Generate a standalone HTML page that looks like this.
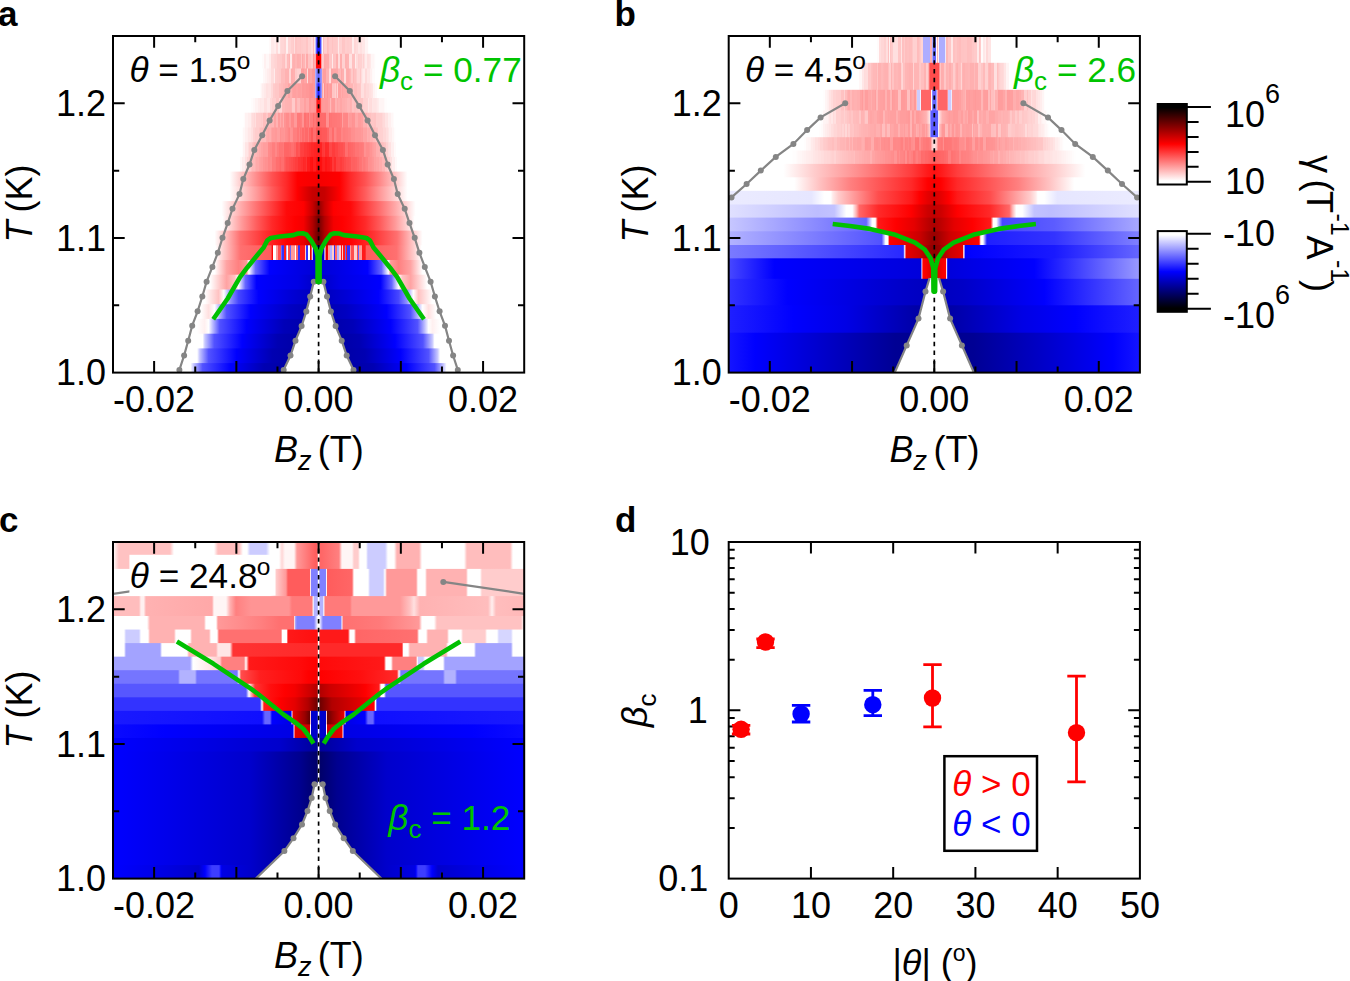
<!DOCTYPE html>
<html><head><meta charset="utf-8"><style>html,body{margin:0;padding:0;background:#fff}svg{display:block}</style></head>
<body><svg width="1350" height="981" viewBox="0 0 1350 981">
<defs><clipPath id="clipa"><rect x="113.0" y="36.0" width="411.2" height="336.6"/></clipPath><clipPath id="clipb"><rect x="728.7" y="36.0" width="411.2" height="336.6"/></clipPath><clipPath id="clipc"><rect x="113.0" y="542.0" width="411.2" height="336.6"/></clipPath><linearGradient id="ga0" gradientUnits="userSpaceOnUse" x1="113.0" y1="0" x2="524.2" y2="0"><stop offset="0.0000" stop-color="#ffffff"/><stop offset="0.3784" stop-color="#ffffff"/><stop offset="0.3784" stop-color="#fffafa"/><stop offset="0.3843" stop-color="#fffafa"/><stop offset="0.3843" stop-color="#ffe9e9"/><stop offset="0.3908" stop-color="#ffe9e9"/><stop offset="0.3908" stop-color="#ffeded"/><stop offset="0.3975" stop-color="#ffeded"/><stop offset="0.3975" stop-color="#ffdddd"/><stop offset="0.4020" stop-color="#ffdddd"/><stop offset="0.4021" stop-color="#fff1f1"/><stop offset="0.4058" stop-color="#fff1f1"/><stop offset="0.4059" stop-color="#ffdada"/><stop offset="0.4093" stop-color="#ffdada"/><stop offset="0.4093" stop-color="#ffd6d6"/><stop offset="0.4151" stop-color="#ffd6d6"/><stop offset="0.4151" stop-color="#ffd2d2"/><stop offset="0.4200" stop-color="#ffd2d2"/><stop offset="0.4200" stop-color="#fff0f0"/><stop offset="0.4253" stop-color="#fff0f0"/><stop offset="0.4254" stop-color="#ffd4d4"/><stop offset="0.4322" stop-color="#ffd4d4"/><stop offset="0.4322" stop-color="#ffcdcd"/><stop offset="0.4372" stop-color="#ffcdcd"/><stop offset="0.4372" stop-color="#ffcaca"/><stop offset="0.4391" stop-color="#ffcaca"/><stop offset="0.4392" stop-color="#ffdddd"/><stop offset="0.4419" stop-color="#ffdddd"/><stop offset="0.4420" stop-color="#ffc4c4"/><stop offset="0.4469" stop-color="#ffc4c4"/><stop offset="0.4469" stop-color="#ffc8c8"/><stop offset="0.4540" stop-color="#ffc8c8"/><stop offset="0.4540" stop-color="#ffc6c6"/><stop offset="0.4569" stop-color="#ffc6c6"/><stop offset="0.4570" stop-color="#ffcaca"/><stop offset="0.4630" stop-color="#ffcaca"/><stop offset="0.4630" stop-color="#ffcccc"/><stop offset="0.4700" stop-color="#ffcccc"/><stop offset="0.4700" stop-color="#ffc5c5"/><stop offset="0.4744" stop-color="#ffc5c5"/><stop offset="0.4744" stop-color="#ffd2d2"/><stop offset="0.4806" stop-color="#ffd2d2"/><stop offset="0.4806" stop-color="#ffdddd"/><stop offset="0.4863" stop-color="#ffdddd"/><stop offset="0.4864" stop-color="#ffbebe"/><stop offset="0.4890" stop-color="#ffbebe"/><stop offset="0.4891" stop-color="#ffc2c2"/><stop offset="0.4907" stop-color="#ffffff"/><stop offset="0.4927" stop-color="#b2b2ff"/><stop offset="0.4964" stop-color="#1919ff"/><stop offset="0.5000" stop-color="#1919ff"/><stop offset="0.5036" stop-color="#1919ff"/><stop offset="0.5073" stop-color="#b2b2ff"/><stop offset="0.5093" stop-color="#ffffff"/><stop offset="0.5109" stop-color="#ffc2c2"/><stop offset="0.5110" stop-color="#ffbdbd"/><stop offset="0.5142" stop-color="#ffbdbd"/><stop offset="0.5142" stop-color="#ffcece"/><stop offset="0.5196" stop-color="#ffcece"/><stop offset="0.5197" stop-color="#ffbbbb"/><stop offset="0.5223" stop-color="#ffbbbb"/><stop offset="0.5224" stop-color="#ffbfbf"/><stop offset="0.5256" stop-color="#ffbfbf"/><stop offset="0.5257" stop-color="#ffc9c9"/><stop offset="0.5324" stop-color="#ffc9c9"/><stop offset="0.5325" stop-color="#ffc2c2"/><stop offset="0.5354" stop-color="#ffc2c2"/><stop offset="0.5354" stop-color="#ffc8c8"/><stop offset="0.5412" stop-color="#ffc8c8"/><stop offset="0.5413" stop-color="#ffc9c9"/><stop offset="0.5436" stop-color="#ffc9c9"/><stop offset="0.5436" stop-color="#ffcccc"/><stop offset="0.5464" stop-color="#ffcccc"/><stop offset="0.5464" stop-color="#ffe9e9"/><stop offset="0.5506" stop-color="#ffe9e9"/><stop offset="0.5506" stop-color="#ffd1d1"/><stop offset="0.5558" stop-color="#ffd1d1"/><stop offset="0.5558" stop-color="#ffc5c5"/><stop offset="0.5593" stop-color="#ffc5c5"/><stop offset="0.5594" stop-color="#ffc6c6"/><stop offset="0.5652" stop-color="#ffc6c6"/><stop offset="0.5652" stop-color="#ffcece"/><stop offset="0.5687" stop-color="#ffcece"/><stop offset="0.5688" stop-color="#ffcccc"/><stop offset="0.5739" stop-color="#ffcccc"/><stop offset="0.5740" stop-color="#ffcece"/><stop offset="0.5802" stop-color="#ffcece"/><stop offset="0.5802" stop-color="#ffecec"/><stop offset="0.5858" stop-color="#ffecec"/><stop offset="0.5858" stop-color="#ffd6d6"/><stop offset="0.5920" stop-color="#ffd6d6"/><stop offset="0.5920" stop-color="#ffdbdb"/><stop offset="0.5957" stop-color="#ffdbdb"/><stop offset="0.5958" stop-color="#ffe6e6"/><stop offset="0.6007" stop-color="#ffe6e6"/><stop offset="0.6008" stop-color="#ffe0e0"/><stop offset="0.6066" stop-color="#ffe0e0"/><stop offset="0.6067" stop-color="#ffe7e7"/><stop offset="0.6137" stop-color="#ffe7e7"/><stop offset="0.6138" stop-color="#fff4f4"/><stop offset="0.6196" stop-color="#fff4f4"/><stop offset="0.6197" stop-color="#fffdfd"/><stop offset="0.6216" stop-color="#fffdfd"/><stop offset="0.6216" stop-color="#ffffff"/><stop offset="1.0000" stop-color="#ffffff"/></linearGradient><linearGradient id="ga1" gradientUnits="userSpaceOnUse" x1="113.0" y1="0" x2="524.2" y2="0"><stop offset="0.0000" stop-color="#ffffff"/><stop offset="0.3614" stop-color="#ffffff"/><stop offset="0.3614" stop-color="#fffbfb"/><stop offset="0.3664" stop-color="#fffbfb"/><stop offset="0.3665" stop-color="#fff0f0"/><stop offset="0.3728" stop-color="#fff0f0"/><stop offset="0.3728" stop-color="#fff7f7"/><stop offset="0.3797" stop-color="#fff7f7"/><stop offset="0.3798" stop-color="#ffeded"/><stop offset="0.3836" stop-color="#ffeded"/><stop offset="0.3836" stop-color="#ffd9d9"/><stop offset="0.3882" stop-color="#ffd9d9"/><stop offset="0.3882" stop-color="#ffd8d8"/><stop offset="0.3927" stop-color="#ffd8d8"/><stop offset="0.3928" stop-color="#ffd3d3"/><stop offset="0.3998" stop-color="#ffd3d3"/><stop offset="0.3998" stop-color="#ffcbcb"/><stop offset="0.4064" stop-color="#ffcbcb"/><stop offset="0.4065" stop-color="#ffcaca"/><stop offset="0.4112" stop-color="#ffcaca"/><stop offset="0.4112" stop-color="#ffc2c2"/><stop offset="0.4157" stop-color="#ffc2c2"/><stop offset="0.4158" stop-color="#ffbfbf"/><stop offset="0.4187" stop-color="#ffbfbf"/><stop offset="0.4187" stop-color="#ffd7d7"/><stop offset="0.4224" stop-color="#ffd7d7"/><stop offset="0.4224" stop-color="#ffbcbc"/><stop offset="0.4270" stop-color="#ffbcbc"/><stop offset="0.4271" stop-color="#ffb4b4"/><stop offset="0.4312" stop-color="#ffb4b4"/><stop offset="0.4312" stop-color="#ffe9e9"/><stop offset="0.4353" stop-color="#ffe9e9"/><stop offset="0.4354" stop-color="#ffb6b6"/><stop offset="0.4383" stop-color="#ffb6b6"/><stop offset="0.4383" stop-color="#ffb0b0"/><stop offset="0.4431" stop-color="#ffb0b0"/><stop offset="0.4432" stop-color="#ffb6b6"/><stop offset="0.4466" stop-color="#ffb6b6"/><stop offset="0.4467" stop-color="#ffaeae"/><stop offset="0.4526" stop-color="#ffaeae"/><stop offset="0.4527" stop-color="#ffb0b0"/><stop offset="0.4580" stop-color="#ffb0b0"/><stop offset="0.4581" stop-color="#ffc5c5"/><stop offset="0.4601" stop-color="#ffc5c5"/><stop offset="0.4602" stop-color="#ffaaaa"/><stop offset="0.4630" stop-color="#ffaaaa"/><stop offset="0.4631" stop-color="#ffb4b4"/><stop offset="0.4666" stop-color="#ffb4b4"/><stop offset="0.4666" stop-color="#ffcbcb"/><stop offset="0.4697" stop-color="#ffcbcb"/><stop offset="0.4697" stop-color="#ffa9a9"/><stop offset="0.4747" stop-color="#ffa9a9"/><stop offset="0.4747" stop-color="#ffc3c3"/><stop offset="0.4812" stop-color="#ffc3c3"/><stop offset="0.4813" stop-color="#ffcdcd"/><stop offset="0.4857" stop-color="#ffcdcd"/><stop offset="0.4857" stop-color="#ffa1a1"/><stop offset="0.4892" stop-color="#ffa1a1"/><stop offset="0.4892" stop-color="#ffb0b0"/><stop offset="0.4915" stop-color="#ffb0b0"/><stop offset="0.4915" stop-color="#ffa9a9"/><stop offset="0.4927" stop-color="#ffa8a8"/><stop offset="0.4951" stop-color="#ff0000"/><stop offset="0.5000" stop-color="#ff0000"/><stop offset="0.5049" stop-color="#ff0000"/><stop offset="0.5073" stop-color="#ffa8a8"/><stop offset="0.5085" stop-color="#ffa9a9"/><stop offset="0.5085" stop-color="#ffcfcf"/><stop offset="0.5119" stop-color="#ffcfcf"/><stop offset="0.5120" stop-color="#ffa8a8"/><stop offset="0.5181" stop-color="#ffa8a8"/><stop offset="0.5182" stop-color="#ffaaaa"/><stop offset="0.5245" stop-color="#ffaaaa"/><stop offset="0.5246" stop-color="#ffc6c6"/><stop offset="0.5316" stop-color="#ffc6c6"/><stop offset="0.5317" stop-color="#ffe9e9"/><stop offset="0.5345" stop-color="#ffe9e9"/><stop offset="0.5346" stop-color="#ffc3c3"/><stop offset="0.5411" stop-color="#ffc3c3"/><stop offset="0.5411" stop-color="#ffb0b0"/><stop offset="0.5451" stop-color="#ffb0b0"/><stop offset="0.5452" stop-color="#ffafaf"/><stop offset="0.5483" stop-color="#ffafaf"/><stop offset="0.5483" stop-color="#ffdbdb"/><stop offset="0.5516" stop-color="#ffdbdb"/><stop offset="0.5516" stop-color="#ffaeae"/><stop offset="0.5579" stop-color="#ffaeae"/><stop offset="0.5580" stop-color="#ffd1d1"/><stop offset="0.5634" stop-color="#ffd1d1"/><stop offset="0.5634" stop-color="#ffb2b2"/><stop offset="0.5692" stop-color="#ffb2b2"/><stop offset="0.5692" stop-color="#ffb5b5"/><stop offset="0.5747" stop-color="#ffb5b5"/><stop offset="0.5747" stop-color="#ffe2e2"/><stop offset="0.5817" stop-color="#ffe2e2"/><stop offset="0.5818" stop-color="#ffc1c1"/><stop offset="0.5877" stop-color="#ffc1c1"/><stop offset="0.5877" stop-color="#ffebeb"/><stop offset="0.5915" stop-color="#ffebeb"/><stop offset="0.5916" stop-color="#ffdbdb"/><stop offset="0.5964" stop-color="#ffdbdb"/><stop offset="0.5964" stop-color="#ffcece"/><stop offset="0.5985" stop-color="#ffcece"/><stop offset="0.5985" stop-color="#ffd1d1"/><stop offset="0.6046" stop-color="#ffd1d1"/><stop offset="0.6046" stop-color="#ffdddd"/><stop offset="0.6073" stop-color="#ffdddd"/><stop offset="0.6073" stop-color="#ffd2d2"/><stop offset="0.6102" stop-color="#ffd2d2"/><stop offset="0.6102" stop-color="#ffdfdf"/><stop offset="0.6123" stop-color="#ffdfdf"/><stop offset="0.6124" stop-color="#ffecec"/><stop offset="0.6181" stop-color="#ffecec"/><stop offset="0.6182" stop-color="#ffdfdf"/><stop offset="0.6220" stop-color="#ffdfdf"/><stop offset="0.6221" stop-color="#ffe2e2"/><stop offset="0.6252" stop-color="#ffe2e2"/><stop offset="0.6253" stop-color="#ffe8e8"/><stop offset="0.6279" stop-color="#ffe8e8"/><stop offset="0.6280" stop-color="#fff6f6"/><stop offset="0.6340" stop-color="#fff6f6"/><stop offset="0.6341" stop-color="#fffafa"/><stop offset="0.6377" stop-color="#fffafa"/><stop offset="0.6378" stop-color="#fffefe"/><stop offset="0.6386" stop-color="#fffefe"/><stop offset="0.6386" stop-color="#ffffff"/><stop offset="1.0000" stop-color="#ffffff"/></linearGradient><linearGradient id="ga2" gradientUnits="userSpaceOnUse" x1="113.0" y1="0" x2="524.2" y2="0"><stop offset="0.0000" stop-color="#ffffff"/><stop offset="0.3638" stop-color="#ffffff"/><stop offset="0.3638" stop-color="#fff8f8"/><stop offset="0.3701" stop-color="#fff8f8"/><stop offset="0.3701" stop-color="#fff3f3"/><stop offset="0.3737" stop-color="#fff3f3"/><stop offset="0.3737" stop-color="#ffeded"/><stop offset="0.3782" stop-color="#ffeded"/><stop offset="0.3782" stop-color="#ffe9e9"/><stop offset="0.3835" stop-color="#ffe9e9"/><stop offset="0.3835" stop-color="#ffdcdc"/><stop offset="0.3906" stop-color="#ffdcdc"/><stop offset="0.3907" stop-color="#ffebeb"/><stop offset="0.3929" stop-color="#ffebeb"/><stop offset="0.3929" stop-color="#ffcfcf"/><stop offset="0.3977" stop-color="#ffcfcf"/><stop offset="0.3977" stop-color="#ffcccc"/><stop offset="0.4029" stop-color="#ffcccc"/><stop offset="0.4030" stop-color="#ffc9c9"/><stop offset="0.4090" stop-color="#ffc9c9"/><stop offset="0.4090" stop-color="#ffbbbb"/><stop offset="0.4160" stop-color="#ffbbbb"/><stop offset="0.4161" stop-color="#ffbcbc"/><stop offset="0.4189" stop-color="#ffbcbc"/><stop offset="0.4189" stop-color="#ffb2b2"/><stop offset="0.4259" stop-color="#ffb2b2"/><stop offset="0.4259" stop-color="#ffb2b2"/><stop offset="0.4292" stop-color="#ffb2b2"/><stop offset="0.4292" stop-color="#ffd6d6"/><stop offset="0.4334" stop-color="#ffd6d6"/><stop offset="0.4335" stop-color="#ffadad"/><stop offset="0.4367" stop-color="#ffadad"/><stop offset="0.4367" stop-color="#ffb0b0"/><stop offset="0.4427" stop-color="#ffb0b0"/><stop offset="0.4427" stop-color="#ffc9c9"/><stop offset="0.4481" stop-color="#ffc9c9"/><stop offset="0.4482" stop-color="#ffd0d0"/><stop offset="0.4539" stop-color="#ffd0d0"/><stop offset="0.4539" stop-color="#ffd2d2"/><stop offset="0.4578" stop-color="#ffd2d2"/><stop offset="0.4579" stop-color="#ff9f9f"/><stop offset="0.4627" stop-color="#ff9f9f"/><stop offset="0.4628" stop-color="#ff9c9c"/><stop offset="0.4654" stop-color="#ff9c9c"/><stop offset="0.4654" stop-color="#ffa5a5"/><stop offset="0.4708" stop-color="#ffa5a5"/><stop offset="0.4709" stop-color="#ffdbdb"/><stop offset="0.4746" stop-color="#ffdbdb"/><stop offset="0.4746" stop-color="#ff9d9d"/><stop offset="0.4787" stop-color="#ff9d9d"/><stop offset="0.4787" stop-color="#ffa3a3"/><stop offset="0.4831" stop-color="#ffa3a3"/><stop offset="0.4832" stop-color="#ff9999"/><stop offset="0.4902" stop-color="#ff9999"/><stop offset="0.4903" stop-color="#ff9e9e"/><stop offset="0.4915" stop-color="#ffffff"/><stop offset="0.4927" stop-color="#9999ff"/><stop offset="0.5000" stop-color="#6666ff"/><stop offset="0.5073" stop-color="#9999ff"/><stop offset="0.5085" stop-color="#ffffff"/><stop offset="0.5097" stop-color="#ff9e9e"/><stop offset="0.5098" stop-color="#ff9e9e"/><stop offset="0.5120" stop-color="#ff9e9e"/><stop offset="0.5120" stop-color="#ff9e9e"/><stop offset="0.5187" stop-color="#ff9e9e"/><stop offset="0.5188" stop-color="#ffb1b1"/><stop offset="0.5248" stop-color="#ffb1b1"/><stop offset="0.5248" stop-color="#ffdcdc"/><stop offset="0.5310" stop-color="#ffdcdc"/><stop offset="0.5311" stop-color="#ffa4a4"/><stop offset="0.5359" stop-color="#ffa4a4"/><stop offset="0.5359" stop-color="#ffa7a7"/><stop offset="0.5411" stop-color="#ffa7a7"/><stop offset="0.5412" stop-color="#ffa9a9"/><stop offset="0.5462" stop-color="#ffa9a9"/><stop offset="0.5463" stop-color="#ffa1a1"/><stop offset="0.5482" stop-color="#ffa1a1"/><stop offset="0.5483" stop-color="#ffb9b9"/><stop offset="0.5546" stop-color="#ffb9b9"/><stop offset="0.5546" stop-color="#ffa8a8"/><stop offset="0.5569" stop-color="#ffa8a8"/><stop offset="0.5569" stop-color="#ffafaf"/><stop offset="0.5609" stop-color="#ffafaf"/><stop offset="0.5609" stop-color="#ffdbdb"/><stop offset="0.5656" stop-color="#ffdbdb"/><stop offset="0.5657" stop-color="#ffaeae"/><stop offset="0.5699" stop-color="#ffaeae"/><stop offset="0.5699" stop-color="#ffabab"/><stop offset="0.5728" stop-color="#ffabab"/><stop offset="0.5729" stop-color="#ffb0b0"/><stop offset="0.5774" stop-color="#ffb0b0"/><stop offset="0.5775" stop-color="#ffb8b8"/><stop offset="0.5798" stop-color="#ffb8b8"/><stop offset="0.5798" stop-color="#ffc9c9"/><stop offset="0.5848" stop-color="#ffc9c9"/><stop offset="0.5848" stop-color="#ffb8b8"/><stop offset="0.5870" stop-color="#ffb8b8"/><stop offset="0.5870" stop-color="#ffc0c0"/><stop offset="0.5902" stop-color="#ffc0c0"/><stop offset="0.5902" stop-color="#ffc9c9"/><stop offset="0.5938" stop-color="#ffc9c9"/><stop offset="0.5938" stop-color="#ffd6d6"/><stop offset="0.6009" stop-color="#ffd6d6"/><stop offset="0.6009" stop-color="#ffc9c9"/><stop offset="0.6032" stop-color="#ffc9c9"/><stop offset="0.6033" stop-color="#ffdbdb"/><stop offset="0.6066" stop-color="#ffdbdb"/><stop offset="0.6066" stop-color="#ffe6e6"/><stop offset="0.6087" stop-color="#ffe6e6"/><stop offset="0.6087" stop-color="#ffebeb"/><stop offset="0.6126" stop-color="#ffebeb"/><stop offset="0.6126" stop-color="#ffdada"/><stop offset="0.6166" stop-color="#ffdada"/><stop offset="0.6166" stop-color="#ffe6e6"/><stop offset="0.6233" stop-color="#ffe6e6"/><stop offset="0.6233" stop-color="#ffe5e5"/><stop offset="0.6252" stop-color="#ffe5e5"/><stop offset="0.6253" stop-color="#fff0f0"/><stop offset="0.6303" stop-color="#fff0f0"/><stop offset="0.6304" stop-color="#fff9f9"/><stop offset="0.6327" stop-color="#fff9f9"/><stop offset="0.6327" stop-color="#fffbfb"/><stop offset="0.6362" stop-color="#fffbfb"/><stop offset="0.6362" stop-color="#ffffff"/><stop offset="1.0000" stop-color="#ffffff"/></linearGradient><linearGradient id="ga3" gradientUnits="userSpaceOnUse" x1="113.0" y1="0" x2="524.2" y2="0"><stop offset="0.0000" stop-color="#ffffff"/><stop offset="0.3565" stop-color="#ffffff"/><stop offset="0.3565" stop-color="#fffbfb"/><stop offset="0.3607" stop-color="#fffbfb"/><stop offset="0.3607" stop-color="#fff5f5"/><stop offset="0.3632" stop-color="#fff5f5"/><stop offset="0.3632" stop-color="#ffeeee"/><stop offset="0.3671" stop-color="#ffeeee"/><stop offset="0.3672" stop-color="#ffe9e9"/><stop offset="0.3699" stop-color="#ffe9e9"/><stop offset="0.3699" stop-color="#ffe8e8"/><stop offset="0.3726" stop-color="#ffe8e8"/><stop offset="0.3726" stop-color="#ffe1e1"/><stop offset="0.3763" stop-color="#ffe1e1"/><stop offset="0.3763" stop-color="#ffe3e3"/><stop offset="0.3833" stop-color="#ffe3e3"/><stop offset="0.3833" stop-color="#ffd8d8"/><stop offset="0.3890" stop-color="#ffd8d8"/><stop offset="0.3890" stop-color="#ffcbcb"/><stop offset="0.3949" stop-color="#ffcbcb"/><stop offset="0.3949" stop-color="#ffc7c7"/><stop offset="0.3972" stop-color="#ffc7c7"/><stop offset="0.3973" stop-color="#ffc7c7"/><stop offset="0.4032" stop-color="#ffc7c7"/><stop offset="0.4032" stop-color="#ffbdbd"/><stop offset="0.4077" stop-color="#ffbdbd"/><stop offset="0.4077" stop-color="#ffbaba"/><stop offset="0.4126" stop-color="#ffbaba"/><stop offset="0.4127" stop-color="#ffb5b5"/><stop offset="0.4191" stop-color="#ffb5b5"/><stop offset="0.4192" stop-color="#ffb1b1"/><stop offset="0.4263" stop-color="#ffb1b1"/><stop offset="0.4263" stop-color="#ffa5a5"/><stop offset="0.4302" stop-color="#ffa5a5"/><stop offset="0.4302" stop-color="#ffafaf"/><stop offset="0.4360" stop-color="#ffafaf"/><stop offset="0.4361" stop-color="#ffa4a4"/><stop offset="0.4380" stop-color="#ffa4a4"/><stop offset="0.4380" stop-color="#ffa0a0"/><stop offset="0.4440" stop-color="#ffa0a0"/><stop offset="0.4440" stop-color="#ffa3a3"/><stop offset="0.4499" stop-color="#ffa3a3"/><stop offset="0.4499" stop-color="#ff9f9f"/><stop offset="0.4570" stop-color="#ff9f9f"/><stop offset="0.4571" stop-color="#ffa2a2"/><stop offset="0.4597" stop-color="#ffa2a2"/><stop offset="0.4598" stop-color="#ff9999"/><stop offset="0.4652" stop-color="#ff9999"/><stop offset="0.4652" stop-color="#ff9a9a"/><stop offset="0.4693" stop-color="#ff9a9a"/><stop offset="0.4693" stop-color="#ff9797"/><stop offset="0.4757" stop-color="#ff9797"/><stop offset="0.4758" stop-color="#ff9393"/><stop offset="0.4802" stop-color="#ff9393"/><stop offset="0.4803" stop-color="#ff9191"/><stop offset="0.4870" stop-color="#ff9191"/><stop offset="0.4870" stop-color="#ff9696"/><stop offset="0.4902" stop-color="#ff9696"/><stop offset="0.4903" stop-color="#ff9999"/><stop offset="0.4915" stop-color="#ffffff"/><stop offset="0.4927" stop-color="#9999ff"/><stop offset="0.5000" stop-color="#1919ff"/><stop offset="0.5073" stop-color="#9999ff"/><stop offset="0.5085" stop-color="#ffffff"/><stop offset="0.5097" stop-color="#ff9999"/><stop offset="0.5098" stop-color="#ffcdcd"/><stop offset="0.5124" stop-color="#ffcdcd"/><stop offset="0.5125" stop-color="#ff9090"/><stop offset="0.5161" stop-color="#ff9090"/><stop offset="0.5162" stop-color="#ff9e9e"/><stop offset="0.5206" stop-color="#ff9e9e"/><stop offset="0.5206" stop-color="#ff9494"/><stop offset="0.5228" stop-color="#ff9494"/><stop offset="0.5228" stop-color="#ff9f9f"/><stop offset="0.5284" stop-color="#ff9f9f"/><stop offset="0.5284" stop-color="#ff9b9b"/><stop offset="0.5333" stop-color="#ff9b9b"/><stop offset="0.5334" stop-color="#ffc5c5"/><stop offset="0.5403" stop-color="#ffc5c5"/><stop offset="0.5404" stop-color="#ffcfcf"/><stop offset="0.5423" stop-color="#ffcfcf"/><stop offset="0.5423" stop-color="#ffb8b8"/><stop offset="0.5458" stop-color="#ffb8b8"/><stop offset="0.5459" stop-color="#ffd3d3"/><stop offset="0.5483" stop-color="#ffd3d3"/><stop offset="0.5483" stop-color="#ffa2a2"/><stop offset="0.5548" stop-color="#ffa2a2"/><stop offset="0.5548" stop-color="#ffadad"/><stop offset="0.5581" stop-color="#ffadad"/><stop offset="0.5581" stop-color="#ffa4a4"/><stop offset="0.5605" stop-color="#ffa4a4"/><stop offset="0.5605" stop-color="#ffa9a9"/><stop offset="0.5645" stop-color="#ffa9a9"/><stop offset="0.5646" stop-color="#ffaaaa"/><stop offset="0.5710" stop-color="#ffaaaa"/><stop offset="0.5710" stop-color="#ffafaf"/><stop offset="0.5767" stop-color="#ffafaf"/><stop offset="0.5768" stop-color="#ffb4b4"/><stop offset="0.5834" stop-color="#ffb4b4"/><stop offset="0.5835" stop-color="#ffc4c4"/><stop offset="0.5857" stop-color="#ffc4c4"/><stop offset="0.5858" stop-color="#ffbdbd"/><stop offset="0.5928" stop-color="#ffbdbd"/><stop offset="0.5928" stop-color="#ffc5c5"/><stop offset="0.5995" stop-color="#ffc5c5"/><stop offset="0.5996" stop-color="#ffc8c8"/><stop offset="0.6042" stop-color="#ffc8c8"/><stop offset="0.6043" stop-color="#ffdfdf"/><stop offset="0.6111" stop-color="#ffdfdf"/><stop offset="0.6111" stop-color="#ffd3d3"/><stop offset="0.6156" stop-color="#ffd3d3"/><stop offset="0.6156" stop-color="#ffd9d9"/><stop offset="0.6175" stop-color="#ffd9d9"/><stop offset="0.6176" stop-color="#ffd9d9"/><stop offset="0.6236" stop-color="#ffd9d9"/><stop offset="0.6237" stop-color="#ffdfdf"/><stop offset="0.6269" stop-color="#ffdfdf"/><stop offset="0.6269" stop-color="#ffe3e3"/><stop offset="0.6292" stop-color="#ffe3e3"/><stop offset="0.6293" stop-color="#ffe5e5"/><stop offset="0.6314" stop-color="#ffe5e5"/><stop offset="0.6314" stop-color="#fff3f3"/><stop offset="0.6369" stop-color="#fff3f3"/><stop offset="0.6369" stop-color="#fff9f9"/><stop offset="0.6431" stop-color="#fff9f9"/><stop offset="0.6432" stop-color="#ffffff"/><stop offset="0.6435" stop-color="#ffffff"/><stop offset="0.6435" stop-color="#ffffff"/><stop offset="1.0000" stop-color="#ffffff"/></linearGradient><linearGradient id="ga4" gradientUnits="userSpaceOnUse" x1="113.0" y1="0" x2="524.2" y2="0"><stop offset="0.0000" stop-color="#ffffff"/><stop offset="0.3346" stop-color="#ffffff"/><stop offset="0.3347" stop-color="#fffefe"/><stop offset="0.3363" stop-color="#fffefe"/><stop offset="0.3363" stop-color="#fffcfc"/><stop offset="0.3395" stop-color="#fffcfc"/><stop offset="0.3396" stop-color="#fff8f8"/><stop offset="0.3460" stop-color="#fff8f8"/><stop offset="0.3461" stop-color="#fff2f2"/><stop offset="0.3516" stop-color="#fff2f2"/><stop offset="0.3516" stop-color="#ffecec"/><stop offset="0.3575" stop-color="#ffecec"/><stop offset="0.3575" stop-color="#ffe7e7"/><stop offset="0.3603" stop-color="#ffe7e7"/><stop offset="0.3603" stop-color="#ffe9e9"/><stop offset="0.3674" stop-color="#ffe9e9"/><stop offset="0.3674" stop-color="#ffdfdf"/><stop offset="0.3738" stop-color="#ffdfdf"/><stop offset="0.3739" stop-color="#ffe7e7"/><stop offset="0.3806" stop-color="#ffe7e7"/><stop offset="0.3807" stop-color="#ffd8d8"/><stop offset="0.3870" stop-color="#ffd8d8"/><stop offset="0.3870" stop-color="#ffcfcf"/><stop offset="0.3918" stop-color="#ffcfcf"/><stop offset="0.3918" stop-color="#ffcfcf"/><stop offset="0.3972" stop-color="#ffcfcf"/><stop offset="0.3972" stop-color="#ffc5c5"/><stop offset="0.4043" stop-color="#ffc5c5"/><stop offset="0.4044" stop-color="#ffd6d6"/><stop offset="0.4100" stop-color="#ffd6d6"/><stop offset="0.4100" stop-color="#ffb9b9"/><stop offset="0.4145" stop-color="#ffb9b9"/><stop offset="0.4145" stop-color="#ffb7b7"/><stop offset="0.4188" stop-color="#ffb7b7"/><stop offset="0.4189" stop-color="#ffb3b3"/><stop offset="0.4223" stop-color="#ffb3b3"/><stop offset="0.4223" stop-color="#ffb2b2"/><stop offset="0.4278" stop-color="#ffb2b2"/><stop offset="0.4279" stop-color="#ffb1b1"/><stop offset="0.4337" stop-color="#ffb1b1"/><stop offset="0.4338" stop-color="#ffb4b4"/><stop offset="0.4362" stop-color="#ffb4b4"/><stop offset="0.4362" stop-color="#ffcaca"/><stop offset="0.4431" stop-color="#ffcaca"/><stop offset="0.4431" stop-color="#ffabab"/><stop offset="0.4486" stop-color="#ffabab"/><stop offset="0.4487" stop-color="#ffbcbc"/><stop offset="0.4544" stop-color="#ffbcbc"/><stop offset="0.4545" stop-color="#ffabab"/><stop offset="0.4613" stop-color="#ffabab"/><stop offset="0.4614" stop-color="#ffacac"/><stop offset="0.4654" stop-color="#ffacac"/><stop offset="0.4655" stop-color="#ffa0a0"/><stop offset="0.4692" stop-color="#ffa0a0"/><stop offset="0.4692" stop-color="#ffa9a9"/><stop offset="0.4764" stop-color="#ffa9a9"/><stop offset="0.4764" stop-color="#ff9595"/><stop offset="0.4823" stop-color="#ff9595"/><stop offset="0.4823" stop-color="#ff9a9a"/><stop offset="0.4883" stop-color="#ff9a9a"/><stop offset="0.4883" stop-color="#ff9595"/><stop offset="0.4927" stop-color="#ff9595"/><stop offset="0.4927" stop-color="#ff9999"/><stop offset="0.4964" stop-color="#ff1919"/><stop offset="0.5000" stop-color="#ff1919"/><stop offset="0.5036" stop-color="#ff1919"/><stop offset="0.5073" stop-color="#ff9999"/><stop offset="0.5073" stop-color="#ff9a9a"/><stop offset="0.5098" stop-color="#ff9a9a"/><stop offset="0.5098" stop-color="#ff9b9b"/><stop offset="0.5157" stop-color="#ff9b9b"/><stop offset="0.5158" stop-color="#ff9999"/><stop offset="0.5222" stop-color="#ff9999"/><stop offset="0.5222" stop-color="#ffa0a0"/><stop offset="0.5285" stop-color="#ffa0a0"/><stop offset="0.5285" stop-color="#ffb8b8"/><stop offset="0.5308" stop-color="#ffb8b8"/><stop offset="0.5309" stop-color="#ffa0a0"/><stop offset="0.5333" stop-color="#ffa0a0"/><stop offset="0.5333" stop-color="#ff9b9b"/><stop offset="0.5394" stop-color="#ff9b9b"/><stop offset="0.5394" stop-color="#ffb2b2"/><stop offset="0.5455" stop-color="#ffb2b2"/><stop offset="0.5456" stop-color="#ffa7a7"/><stop offset="0.5479" stop-color="#ffa7a7"/><stop offset="0.5480" stop-color="#ffadad"/><stop offset="0.5514" stop-color="#ffadad"/><stop offset="0.5515" stop-color="#ffa6a6"/><stop offset="0.5563" stop-color="#ffa6a6"/><stop offset="0.5564" stop-color="#ffadad"/><stop offset="0.5635" stop-color="#ffadad"/><stop offset="0.5636" stop-color="#ffb0b0"/><stop offset="0.5701" stop-color="#ffb0b0"/><stop offset="0.5702" stop-color="#ffb7b7"/><stop offset="0.5762" stop-color="#ffb7b7"/><stop offset="0.5763" stop-color="#ffb1b1"/><stop offset="0.5785" stop-color="#ffb1b1"/><stop offset="0.5785" stop-color="#ffb3b3"/><stop offset="0.5813" stop-color="#ffb3b3"/><stop offset="0.5814" stop-color="#ffc3c3"/><stop offset="0.5873" stop-color="#ffc3c3"/><stop offset="0.5873" stop-color="#ffbebe"/><stop offset="0.5919" stop-color="#ffbebe"/><stop offset="0.5919" stop-color="#ffc2c2"/><stop offset="0.5960" stop-color="#ffc2c2"/><stop offset="0.5961" stop-color="#ffc4c4"/><stop offset="0.5982" stop-color="#ffc4c4"/><stop offset="0.5983" stop-color="#ffc7c7"/><stop offset="0.6005" stop-color="#ffc7c7"/><stop offset="0.6006" stop-color="#ffc6c6"/><stop offset="0.6076" stop-color="#ffc6c6"/><stop offset="0.6077" stop-color="#ffd2d2"/><stop offset="0.6131" stop-color="#ffd2d2"/><stop offset="0.6132" stop-color="#ffd3d3"/><stop offset="0.6176" stop-color="#ffd3d3"/><stop offset="0.6176" stop-color="#ffd4d4"/><stop offset="0.6197" stop-color="#ffd4d4"/><stop offset="0.6198" stop-color="#ffe4e4"/><stop offset="0.6236" stop-color="#ffe4e4"/><stop offset="0.6236" stop-color="#ffdcdc"/><stop offset="0.6279" stop-color="#ffdcdc"/><stop offset="0.6279" stop-color="#ffdbdb"/><stop offset="0.6298" stop-color="#ffdbdb"/><stop offset="0.6299" stop-color="#ffe5e5"/><stop offset="0.6330" stop-color="#ffe5e5"/><stop offset="0.6331" stop-color="#ffe4e4"/><stop offset="0.6385" stop-color="#ffe4e4"/><stop offset="0.6386" stop-color="#ffe6e6"/><stop offset="0.6410" stop-color="#ffe6e6"/><stop offset="0.6410" stop-color="#ffeaea"/><stop offset="0.6433" stop-color="#ffeaea"/><stop offset="0.6433" stop-color="#ffeded"/><stop offset="0.6481" stop-color="#ffeded"/><stop offset="0.6481" stop-color="#fff5f5"/><stop offset="0.6527" stop-color="#fff5f5"/><stop offset="0.6528" stop-color="#fff5f5"/><stop offset="0.6580" stop-color="#fff5f5"/><stop offset="0.6581" stop-color="#fffafa"/><stop offset="0.6610" stop-color="#fffafa"/><stop offset="0.6611" stop-color="#fffdfd"/><stop offset="0.6653" stop-color="#fffdfd"/><stop offset="0.6654" stop-color="#ffffff"/><stop offset="1.0000" stop-color="#ffffff"/></linearGradient><linearGradient id="ga5" gradientUnits="userSpaceOnUse" x1="113.0" y1="0" x2="524.2" y2="0"><stop offset="0.0000" stop-color="#ffffff"/><stop offset="0.3161" stop-color="#ffffff"/><stop offset="0.3162" stop-color="#fffefe"/><stop offset="0.3181" stop-color="#fffefe"/><stop offset="0.3182" stop-color="#fffbfb"/><stop offset="0.3220" stop-color="#fffbfb"/><stop offset="0.3221" stop-color="#fff2f2"/><stop offset="0.3276" stop-color="#fff2f2"/><stop offset="0.3277" stop-color="#ffeded"/><stop offset="0.3349" stop-color="#ffeded"/><stop offset="0.3349" stop-color="#ffe2e2"/><stop offset="0.3370" stop-color="#ffe2e2"/><stop offset="0.3371" stop-color="#ffdcdc"/><stop offset="0.3432" stop-color="#ffdcdc"/><stop offset="0.3432" stop-color="#ffd7d7"/><stop offset="0.3457" stop-color="#ffd7d7"/><stop offset="0.3458" stop-color="#ffdede"/><stop offset="0.3487" stop-color="#ffdede"/><stop offset="0.3487" stop-color="#ffcfcf"/><stop offset="0.3559" stop-color="#ffcfcf"/><stop offset="0.3560" stop-color="#ffcece"/><stop offset="0.3601" stop-color="#ffcece"/><stop offset="0.3601" stop-color="#ffcaca"/><stop offset="0.3627" stop-color="#ffcaca"/><stop offset="0.3628" stop-color="#ffcdcd"/><stop offset="0.3655" stop-color="#ffcdcd"/><stop offset="0.3656" stop-color="#ffbebe"/><stop offset="0.3725" stop-color="#ffbebe"/><stop offset="0.3726" stop-color="#ffc7c7"/><stop offset="0.3779" stop-color="#ffc7c7"/><stop offset="0.3780" stop-color="#ffb6b6"/><stop offset="0.3817" stop-color="#ffb6b6"/><stop offset="0.3817" stop-color="#ffb3b3"/><stop offset="0.3869" stop-color="#ffb3b3"/><stop offset="0.3869" stop-color="#ffb4b4"/><stop offset="0.3909" stop-color="#ffb4b4"/><stop offset="0.3909" stop-color="#ffa3a3"/><stop offset="0.3961" stop-color="#ffa3a3"/><stop offset="0.3961" stop-color="#ffb2b2"/><stop offset="0.4011" stop-color="#ffb2b2"/><stop offset="0.4012" stop-color="#ff9b9b"/><stop offset="0.4059" stop-color="#ff9b9b"/><stop offset="0.4060" stop-color="#ffaaaa"/><stop offset="0.4093" stop-color="#ffaaaa"/><stop offset="0.4093" stop-color="#ff9c9c"/><stop offset="0.4146" stop-color="#ff9c9c"/><stop offset="0.4146" stop-color="#ffadad"/><stop offset="0.4166" stop-color="#ffadad"/><stop offset="0.4167" stop-color="#ff9393"/><stop offset="0.4215" stop-color="#ff9393"/><stop offset="0.4215" stop-color="#ff8c8c"/><stop offset="0.4287" stop-color="#ff8c8c"/><stop offset="0.4288" stop-color="#ff9999"/><stop offset="0.4330" stop-color="#ff9999"/><stop offset="0.4331" stop-color="#ff8888"/><stop offset="0.4394" stop-color="#ff8888"/><stop offset="0.4395" stop-color="#ff9999"/><stop offset="0.4465" stop-color="#ff9999"/><stop offset="0.4465" stop-color="#ff7a7a"/><stop offset="0.4527" stop-color="#ff7a7a"/><stop offset="0.4527" stop-color="#ff7979"/><stop offset="0.4555" stop-color="#ff7979"/><stop offset="0.4555" stop-color="#ff7c7c"/><stop offset="0.4584" stop-color="#ff7c7c"/><stop offset="0.4585" stop-color="#ff9393"/><stop offset="0.4640" stop-color="#ff9393"/><stop offset="0.4640" stop-color="#ff7171"/><stop offset="0.4689" stop-color="#ff7171"/><stop offset="0.4689" stop-color="#ff7878"/><stop offset="0.4734" stop-color="#ff7878"/><stop offset="0.4735" stop-color="#ff7272"/><stop offset="0.4778" stop-color="#ff7272"/><stop offset="0.4778" stop-color="#ff8d8d"/><stop offset="0.4800" stop-color="#ff8d8d"/><stop offset="0.4800" stop-color="#ff7d7d"/><stop offset="0.4852" stop-color="#ff7d7d"/><stop offset="0.4853" stop-color="#ff6e6e"/><stop offset="0.4898" stop-color="#ff6e6e"/><stop offset="0.4899" stop-color="#ff7777"/><stop offset="0.4927" stop-color="#ff7777"/><stop offset="0.4927" stop-color="#ff6a6a"/><stop offset="0.5000" stop-color="#ff6666"/><stop offset="0.5073" stop-color="#ff6a6a"/><stop offset="0.5073" stop-color="#ff6b6b"/><stop offset="0.5136" stop-color="#ff6b6b"/><stop offset="0.5137" stop-color="#ff6a6a"/><stop offset="0.5188" stop-color="#ff6a6a"/><stop offset="0.5189" stop-color="#ff9090"/><stop offset="0.5250" stop-color="#ff9090"/><stop offset="0.5250" stop-color="#ff6f6f"/><stop offset="0.5275" stop-color="#ff6f6f"/><stop offset="0.5275" stop-color="#ff7575"/><stop offset="0.5303" stop-color="#ff7575"/><stop offset="0.5304" stop-color="#ff7474"/><stop offset="0.5327" stop-color="#ff7474"/><stop offset="0.5327" stop-color="#ff7777"/><stop offset="0.5390" stop-color="#ff7777"/><stop offset="0.5390" stop-color="#ff7878"/><stop offset="0.5456" stop-color="#ff7878"/><stop offset="0.5457" stop-color="#ff7a7a"/><stop offset="0.5512" stop-color="#ff7a7a"/><stop offset="0.5513" stop-color="#ff7e7e"/><stop offset="0.5560" stop-color="#ff7e7e"/><stop offset="0.5561" stop-color="#ff9f9f"/><stop offset="0.5591" stop-color="#ff9f9f"/><stop offset="0.5591" stop-color="#ff8787"/><stop offset="0.5649" stop-color="#ff8787"/><stop offset="0.5649" stop-color="#ff8686"/><stop offset="0.5714" stop-color="#ff8686"/><stop offset="0.5714" stop-color="#ffa0a0"/><stop offset="0.5750" stop-color="#ffa0a0"/><stop offset="0.5751" stop-color="#ff9999"/><stop offset="0.5821" stop-color="#ff9999"/><stop offset="0.5821" stop-color="#ff9292"/><stop offset="0.5848" stop-color="#ff9292"/><stop offset="0.5848" stop-color="#ff9494"/><stop offset="0.5892" stop-color="#ff9494"/><stop offset="0.5893" stop-color="#ffa7a7"/><stop offset="0.5946" stop-color="#ffa7a7"/><stop offset="0.5947" stop-color="#ff9f9f"/><stop offset="0.5970" stop-color="#ff9f9f"/><stop offset="0.5970" stop-color="#ff9d9d"/><stop offset="0.6027" stop-color="#ff9d9d"/><stop offset="0.6028" stop-color="#ffa2a2"/><stop offset="0.6077" stop-color="#ffa2a2"/><stop offset="0.6077" stop-color="#ffb1b1"/><stop offset="0.6144" stop-color="#ffb1b1"/><stop offset="0.6144" stop-color="#ffafaf"/><stop offset="0.6165" stop-color="#ffafaf"/><stop offset="0.6166" stop-color="#ffbbbb"/><stop offset="0.6235" stop-color="#ffbbbb"/><stop offset="0.6236" stop-color="#ffc0c0"/><stop offset="0.6281" stop-color="#ffc0c0"/><stop offset="0.6282" stop-color="#ffc6c6"/><stop offset="0.6352" stop-color="#ffc6c6"/><stop offset="0.6352" stop-color="#ffc4c4"/><stop offset="0.6397" stop-color="#ffc4c4"/><stop offset="0.6397" stop-color="#ffcfcf"/><stop offset="0.6469" stop-color="#ffcfcf"/><stop offset="0.6469" stop-color="#ffd0d0"/><stop offset="0.6537" stop-color="#ffd0d0"/><stop offset="0.6537" stop-color="#ffd6d6"/><stop offset="0.6558" stop-color="#ffd6d6"/><stop offset="0.6559" stop-color="#ffdada"/><stop offset="0.6615" stop-color="#ffdada"/><stop offset="0.6616" stop-color="#ffe4e4"/><stop offset="0.6678" stop-color="#ffe4e4"/><stop offset="0.6679" stop-color="#ffebeb"/><stop offset="0.6698" stop-color="#ffebeb"/><stop offset="0.6699" stop-color="#ffefef"/><stop offset="0.6755" stop-color="#ffefef"/><stop offset="0.6755" stop-color="#fff7f7"/><stop offset="0.6801" stop-color="#fff7f7"/><stop offset="0.6801" stop-color="#fffbfb"/><stop offset="0.6822" stop-color="#fffbfb"/><stop offset="0.6823" stop-color="#fffefe"/><stop offset="0.6838" stop-color="#fffefe"/><stop offset="0.6839" stop-color="#ffffff"/><stop offset="1.0000" stop-color="#ffffff"/></linearGradient><linearGradient id="ga6" gradientUnits="userSpaceOnUse" x1="113.0" y1="0" x2="524.2" y2="0"><stop offset="0.0000" stop-color="#ffffff"/><stop offset="0.3127" stop-color="#ffffff"/><stop offset="0.3128" stop-color="#fffdfd"/><stop offset="0.3157" stop-color="#fffdfd"/><stop offset="0.3158" stop-color="#fff7f7"/><stop offset="0.3204" stop-color="#fff7f7"/><stop offset="0.3204" stop-color="#fff0f0"/><stop offset="0.3249" stop-color="#fff0f0"/><stop offset="0.3250" stop-color="#ffeeee"/><stop offset="0.3273" stop-color="#ffeeee"/><stop offset="0.3274" stop-color="#ffe7e7"/><stop offset="0.3346" stop-color="#ffe7e7"/><stop offset="0.3346" stop-color="#ffe0e0"/><stop offset="0.3408" stop-color="#ffe0e0"/><stop offset="0.3409" stop-color="#ffd4d4"/><stop offset="0.3428" stop-color="#ffd4d4"/><stop offset="0.3429" stop-color="#ffd3d3"/><stop offset="0.3459" stop-color="#ffd3d3"/><stop offset="0.3460" stop-color="#ffcdcd"/><stop offset="0.3491" stop-color="#ffcdcd"/><stop offset="0.3491" stop-color="#ffcdcd"/><stop offset="0.3544" stop-color="#ffcdcd"/><stop offset="0.3544" stop-color="#ffc7c7"/><stop offset="0.3586" stop-color="#ffc7c7"/><stop offset="0.3587" stop-color="#ffbfbf"/><stop offset="0.3626" stop-color="#ffbfbf"/><stop offset="0.3627" stop-color="#ffbcbc"/><stop offset="0.3675" stop-color="#ffbcbc"/><stop offset="0.3675" stop-color="#ffbdbd"/><stop offset="0.3723" stop-color="#ffbdbd"/><stop offset="0.3724" stop-color="#ffb0b0"/><stop offset="0.3747" stop-color="#ffb0b0"/><stop offset="0.3747" stop-color="#ffadad"/><stop offset="0.3767" stop-color="#ffadad"/><stop offset="0.3767" stop-color="#ffaaaa"/><stop offset="0.3803" stop-color="#ffaaaa"/><stop offset="0.3804" stop-color="#ffaeae"/><stop offset="0.3845" stop-color="#ffaeae"/><stop offset="0.3846" stop-color="#ffa3a3"/><stop offset="0.3877" stop-color="#ffa3a3"/><stop offset="0.3877" stop-color="#ff9c9c"/><stop offset="0.3931" stop-color="#ff9c9c"/><stop offset="0.3931" stop-color="#ff9999"/><stop offset="0.3992" stop-color="#ff9999"/><stop offset="0.3992" stop-color="#ffa0a0"/><stop offset="0.4050" stop-color="#ffa0a0"/><stop offset="0.4050" stop-color="#ff9090"/><stop offset="0.4090" stop-color="#ff9090"/><stop offset="0.4091" stop-color="#ff9595"/><stop offset="0.4149" stop-color="#ff9595"/><stop offset="0.4150" stop-color="#ff9797"/><stop offset="0.4173" stop-color="#ff9797"/><stop offset="0.4174" stop-color="#ff8f8f"/><stop offset="0.4209" stop-color="#ff8f8f"/><stop offset="0.4209" stop-color="#ff8e8e"/><stop offset="0.4232" stop-color="#ff8e8e"/><stop offset="0.4232" stop-color="#ff8b8b"/><stop offset="0.4254" stop-color="#ff8b8b"/><stop offset="0.4255" stop-color="#ff8585"/><stop offset="0.4286" stop-color="#ff8585"/><stop offset="0.4287" stop-color="#ff8282"/><stop offset="0.4314" stop-color="#ff8282"/><stop offset="0.4314" stop-color="#ff9292"/><stop offset="0.4348" stop-color="#ff9292"/><stop offset="0.4349" stop-color="#ff9090"/><stop offset="0.4381" stop-color="#ff9090"/><stop offset="0.4382" stop-color="#ff7f7f"/><stop offset="0.4402" stop-color="#ff7f7f"/><stop offset="0.4403" stop-color="#ff7f7f"/><stop offset="0.4472" stop-color="#ff7f7f"/><stop offset="0.4472" stop-color="#ff7676"/><stop offset="0.4527" stop-color="#ff7676"/><stop offset="0.4528" stop-color="#ff8282"/><stop offset="0.4549" stop-color="#ff8282"/><stop offset="0.4549" stop-color="#ff7373"/><stop offset="0.4574" stop-color="#ff7373"/><stop offset="0.4574" stop-color="#ff7a7a"/><stop offset="0.4607" stop-color="#ff7a7a"/><stop offset="0.4607" stop-color="#ff6c6c"/><stop offset="0.4634" stop-color="#ff6c6c"/><stop offset="0.4635" stop-color="#ff7474"/><stop offset="0.4678" stop-color="#ff7474"/><stop offset="0.4678" stop-color="#ff6969"/><stop offset="0.4698" stop-color="#ff6969"/><stop offset="0.4699" stop-color="#ff6969"/><stop offset="0.4731" stop-color="#ff6969"/><stop offset="0.4732" stop-color="#ff7878"/><stop offset="0.4759" stop-color="#ff7878"/><stop offset="0.4759" stop-color="#ff6464"/><stop offset="0.4793" stop-color="#ff6464"/><stop offset="0.4793" stop-color="#ff6666"/><stop offset="0.4819" stop-color="#ff6666"/><stop offset="0.4819" stop-color="#ff5858"/><stop offset="0.4874" stop-color="#ff5858"/><stop offset="0.4874" stop-color="#ff6d6d"/><stop offset="0.4927" stop-color="#ff6d6d"/><stop offset="0.4927" stop-color="#ff5656"/><stop offset="0.5000" stop-color="#ff5252"/><stop offset="0.5073" stop-color="#ff5656"/><stop offset="0.5073" stop-color="#ff5959"/><stop offset="0.5113" stop-color="#ff5959"/><stop offset="0.5114" stop-color="#ff5959"/><stop offset="0.5154" stop-color="#ff5959"/><stop offset="0.5155" stop-color="#ff5a5a"/><stop offset="0.5197" stop-color="#ff5a5a"/><stop offset="0.5198" stop-color="#ff6767"/><stop offset="0.5253" stop-color="#ff6767"/><stop offset="0.5253" stop-color="#ff7d7d"/><stop offset="0.5314" stop-color="#ff7d7d"/><stop offset="0.5314" stop-color="#ff6868"/><stop offset="0.5335" stop-color="#ff6868"/><stop offset="0.5335" stop-color="#ff6c6c"/><stop offset="0.5383" stop-color="#ff6c6c"/><stop offset="0.5384" stop-color="#ff8484"/><stop offset="0.5424" stop-color="#ff8484"/><stop offset="0.5425" stop-color="#ff7c7c"/><stop offset="0.5448" stop-color="#ff7c7c"/><stop offset="0.5449" stop-color="#ff7575"/><stop offset="0.5472" stop-color="#ff7575"/><stop offset="0.5472" stop-color="#ff7676"/><stop offset="0.5538" stop-color="#ff7676"/><stop offset="0.5538" stop-color="#ff8585"/><stop offset="0.5587" stop-color="#ff8585"/><stop offset="0.5588" stop-color="#ff7f7f"/><stop offset="0.5611" stop-color="#ff7f7f"/><stop offset="0.5612" stop-color="#ff7f7f"/><stop offset="0.5633" stop-color="#ff7f7f"/><stop offset="0.5634" stop-color="#ff8181"/><stop offset="0.5661" stop-color="#ff8181"/><stop offset="0.5662" stop-color="#ff8282"/><stop offset="0.5718" stop-color="#ff8282"/><stop offset="0.5719" stop-color="#ff8686"/><stop offset="0.5765" stop-color="#ff8686"/><stop offset="0.5765" stop-color="#ff8787"/><stop offset="0.5788" stop-color="#ff8787"/><stop offset="0.5788" stop-color="#ff8f8f"/><stop offset="0.5829" stop-color="#ff8f8f"/><stop offset="0.5829" stop-color="#ff9090"/><stop offset="0.5886" stop-color="#ff9090"/><stop offset="0.5887" stop-color="#ff9696"/><stop offset="0.5954" stop-color="#ff9696"/><stop offset="0.5955" stop-color="#ff9797"/><stop offset="0.6022" stop-color="#ff9797"/><stop offset="0.6023" stop-color="#ff9b9b"/><stop offset="0.6050" stop-color="#ff9b9b"/><stop offset="0.6051" stop-color="#ff9999"/><stop offset="0.6084" stop-color="#ff9999"/><stop offset="0.6084" stop-color="#ffa4a4"/><stop offset="0.6114" stop-color="#ffa4a4"/><stop offset="0.6114" stop-color="#ffa3a3"/><stop offset="0.6168" stop-color="#ffa3a3"/><stop offset="0.6168" stop-color="#ffafaf"/><stop offset="0.6204" stop-color="#ffafaf"/><stop offset="0.6204" stop-color="#ffacac"/><stop offset="0.6252" stop-color="#ffacac"/><stop offset="0.6253" stop-color="#ffb3b3"/><stop offset="0.6294" stop-color="#ffb3b3"/><stop offset="0.6295" stop-color="#ffb4b4"/><stop offset="0.6324" stop-color="#ffb4b4"/><stop offset="0.6324" stop-color="#ffbaba"/><stop offset="0.6362" stop-color="#ffbaba"/><stop offset="0.6362" stop-color="#ffc0c0"/><stop offset="0.6426" stop-color="#ffc0c0"/><stop offset="0.6426" stop-color="#ffc3c3"/><stop offset="0.6452" stop-color="#ffc3c3"/><stop offset="0.6453" stop-color="#ffd0d0"/><stop offset="0.6519" stop-color="#ffd0d0"/><stop offset="0.6519" stop-color="#ffd1d1"/><stop offset="0.6564" stop-color="#ffd1d1"/><stop offset="0.6564" stop-color="#ffd8d8"/><stop offset="0.6631" stop-color="#ffd8d8"/><stop offset="0.6632" stop-color="#ffdfdf"/><stop offset="0.6676" stop-color="#ffdfdf"/><stop offset="0.6676" stop-color="#ffe5e5"/><stop offset="0.6712" stop-color="#ffe5e5"/><stop offset="0.6712" stop-color="#ffeeee"/><stop offset="0.6778" stop-color="#ffeeee"/><stop offset="0.6778" stop-color="#fff6f6"/><stop offset="0.6843" stop-color="#fff6f6"/><stop offset="0.6843" stop-color="#fffcfc"/><stop offset="0.6865" stop-color="#fffcfc"/><stop offset="0.6865" stop-color="#fffefe"/><stop offset="0.6872" stop-color="#fffefe"/><stop offset="0.6873" stop-color="#ffffff"/><stop offset="1.0000" stop-color="#ffffff"/></linearGradient><linearGradient id="ga7" gradientUnits="userSpaceOnUse" x1="113.0" y1="0" x2="524.2" y2="0"><stop offset="0.0000" stop-color="#ffffff"/><stop offset="0.3127" stop-color="#ffffff"/><stop offset="0.3128" stop-color="#fffcfc"/><stop offset="0.3153" stop-color="#fffcfc"/><stop offset="0.3153" stop-color="#fff3f3"/><stop offset="0.3220" stop-color="#fff3f3"/><stop offset="0.3221" stop-color="#ffe5e5"/><stop offset="0.3282" stop-color="#ffe5e5"/><stop offset="0.3283" stop-color="#ffdbdb"/><stop offset="0.3316" stop-color="#ffdbdb"/><stop offset="0.3317" stop-color="#ffd0d0"/><stop offset="0.3373" stop-color="#ffd0d0"/><stop offset="0.3373" stop-color="#ffc7c7"/><stop offset="0.3407" stop-color="#ffc7c7"/><stop offset="0.3407" stop-color="#ffc1c1"/><stop offset="0.3427" stop-color="#ffc1c1"/><stop offset="0.3427" stop-color="#ffb9b9"/><stop offset="0.3490" stop-color="#ffb9b9"/><stop offset="0.3491" stop-color="#ffb2b2"/><stop offset="0.3552" stop-color="#ffb2b2"/><stop offset="0.3552" stop-color="#ffabab"/><stop offset="0.3602" stop-color="#ffabab"/><stop offset="0.3603" stop-color="#ffa4a4"/><stop offset="0.3650" stop-color="#ffa4a4"/><stop offset="0.3651" stop-color="#ff9e9e"/><stop offset="0.3721" stop-color="#ff9e9e"/><stop offset="0.3721" stop-color="#ff9e9e"/><stop offset="0.3779" stop-color="#ff9e9e"/><stop offset="0.3779" stop-color="#ff8b8b"/><stop offset="0.3828" stop-color="#ff8b8b"/><stop offset="0.3829" stop-color="#ff8888"/><stop offset="0.3872" stop-color="#ff8888"/><stop offset="0.3873" stop-color="#ff7e7e"/><stop offset="0.3943" stop-color="#ff7e7e"/><stop offset="0.3944" stop-color="#ff8888"/><stop offset="0.3990" stop-color="#ff8888"/><stop offset="0.3991" stop-color="#ff7c7c"/><stop offset="0.4030" stop-color="#ff7c7c"/><stop offset="0.4030" stop-color="#ff7373"/><stop offset="0.4067" stop-color="#ff7373"/><stop offset="0.4067" stop-color="#ff7474"/><stop offset="0.4122" stop-color="#ff7474"/><stop offset="0.4123" stop-color="#ff7878"/><stop offset="0.4161" stop-color="#ff7878"/><stop offset="0.4161" stop-color="#ff6666"/><stop offset="0.4200" stop-color="#ff6666"/><stop offset="0.4200" stop-color="#ff6565"/><stop offset="0.4270" stop-color="#ff6565"/><stop offset="0.4271" stop-color="#ff6060"/><stop offset="0.4292" stop-color="#ff6060"/><stop offset="0.4292" stop-color="#ff6868"/><stop offset="0.4329" stop-color="#ff6868"/><stop offset="0.4329" stop-color="#ff6f6f"/><stop offset="0.4398" stop-color="#ff6f6f"/><stop offset="0.4399" stop-color="#ff6666"/><stop offset="0.4439" stop-color="#ff6666"/><stop offset="0.4439" stop-color="#ff5656"/><stop offset="0.4461" stop-color="#ff5656"/><stop offset="0.4462" stop-color="#ff5252"/><stop offset="0.4507" stop-color="#ff5252"/><stop offset="0.4507" stop-color="#ff5757"/><stop offset="0.4548" stop-color="#ff5757"/><stop offset="0.4548" stop-color="#ff4343"/><stop offset="0.4575" stop-color="#ff4343"/><stop offset="0.4575" stop-color="#ff4040"/><stop offset="0.4643" stop-color="#ff4040"/><stop offset="0.4644" stop-color="#ff3838"/><stop offset="0.4707" stop-color="#ff3838"/><stop offset="0.4707" stop-color="#ff3333"/><stop offset="0.4759" stop-color="#ff3333"/><stop offset="0.4759" stop-color="#ff2e2e"/><stop offset="0.4825" stop-color="#ff2e2e"/><stop offset="0.4826" stop-color="#ff2828"/><stop offset="0.4888" stop-color="#ff2828"/><stop offset="0.4888" stop-color="#ff2424"/><stop offset="0.4927" stop-color="#ff2424"/><stop offset="0.4927" stop-color="#ff2323"/><stop offset="0.5000" stop-color="#ff1f1f"/><stop offset="0.5073" stop-color="#ff2323"/><stop offset="0.5073" stop-color="#ff3838"/><stop offset="0.5124" stop-color="#ff3838"/><stop offset="0.5125" stop-color="#ff3c3c"/><stop offset="0.5144" stop-color="#ff3c3c"/><stop offset="0.5145" stop-color="#ff2929"/><stop offset="0.5192" stop-color="#ff2929"/><stop offset="0.5193" stop-color="#ff2b2b"/><stop offset="0.5261" stop-color="#ff2b2b"/><stop offset="0.5261" stop-color="#ff4747"/><stop offset="0.5327" stop-color="#ff4747"/><stop offset="0.5328" stop-color="#ff3c3c"/><stop offset="0.5397" stop-color="#ff3c3c"/><stop offset="0.5397" stop-color="#ff4444"/><stop offset="0.5468" stop-color="#ff4444"/><stop offset="0.5469" stop-color="#ff4d4d"/><stop offset="0.5511" stop-color="#ff4d4d"/><stop offset="0.5511" stop-color="#ff5050"/><stop offset="0.5583" stop-color="#ff5050"/><stop offset="0.5584" stop-color="#ff5656"/><stop offset="0.5650" stop-color="#ff5656"/><stop offset="0.5651" stop-color="#ff6e6e"/><stop offset="0.5703" stop-color="#ff6e6e"/><stop offset="0.5704" stop-color="#ff6060"/><stop offset="0.5742" stop-color="#ff6060"/><stop offset="0.5742" stop-color="#ff6565"/><stop offset="0.5778" stop-color="#ff6565"/><stop offset="0.5778" stop-color="#ff6868"/><stop offset="0.5830" stop-color="#ff6868"/><stop offset="0.5831" stop-color="#ff6c6c"/><stop offset="0.5882" stop-color="#ff6c6c"/><stop offset="0.5882" stop-color="#ff7474"/><stop offset="0.5945" stop-color="#ff7474"/><stop offset="0.5945" stop-color="#ff7474"/><stop offset="0.5980" stop-color="#ff7474"/><stop offset="0.5980" stop-color="#ff7979"/><stop offset="0.6046" stop-color="#ff7979"/><stop offset="0.6047" stop-color="#ff7b7b"/><stop offset="0.6079" stop-color="#ff7b7b"/><stop offset="0.6079" stop-color="#ff7e7e"/><stop offset="0.6112" stop-color="#ff7e7e"/><stop offset="0.6112" stop-color="#ff9191"/><stop offset="0.6162" stop-color="#ff9191"/><stop offset="0.6162" stop-color="#ff8b8b"/><stop offset="0.6216" stop-color="#ff8b8b"/><stop offset="0.6216" stop-color="#ff8f8f"/><stop offset="0.6241" stop-color="#ff8f8f"/><stop offset="0.6242" stop-color="#ff9494"/><stop offset="0.6294" stop-color="#ff9494"/><stop offset="0.6294" stop-color="#ff9b9b"/><stop offset="0.6317" stop-color="#ff9b9b"/><stop offset="0.6318" stop-color="#ff9e9e"/><stop offset="0.6338" stop-color="#ff9e9e"/><stop offset="0.6338" stop-color="#ffa2a2"/><stop offset="0.6395" stop-color="#ffa2a2"/><stop offset="0.6395" stop-color="#ffaeae"/><stop offset="0.6433" stop-color="#ffaeae"/><stop offset="0.6433" stop-color="#ffb0b0"/><stop offset="0.6490" stop-color="#ffb0b0"/><stop offset="0.6490" stop-color="#ffbdbd"/><stop offset="0.6550" stop-color="#ffbdbd"/><stop offset="0.6550" stop-color="#ffbebe"/><stop offset="0.6578" stop-color="#ffbebe"/><stop offset="0.6579" stop-color="#ffc6c6"/><stop offset="0.6631" stop-color="#ffc6c6"/><stop offset="0.6632" stop-color="#ffd2d2"/><stop offset="0.6679" stop-color="#ffd2d2"/><stop offset="0.6679" stop-color="#ffdddd"/><stop offset="0.6701" stop-color="#ffdddd"/><stop offset="0.6701" stop-color="#ffe1e1"/><stop offset="0.6764" stop-color="#ffe1e1"/><stop offset="0.6764" stop-color="#ffefef"/><stop offset="0.6828" stop-color="#ffefef"/><stop offset="0.6829" stop-color="#fffafa"/><stop offset="0.6871" stop-color="#fffafa"/><stop offset="0.6871" stop-color="#ffffff"/><stop offset="0.6872" stop-color="#ffffff"/><stop offset="0.6873" stop-color="#ffffff"/><stop offset="1.0000" stop-color="#ffffff"/></linearGradient><linearGradient id="ga8" gradientUnits="userSpaceOnUse" x1="113.0" y1="0" x2="524.2" y2="0"><stop offset="0.0000" stop-color="#ffffff"/><stop offset="0.3091" stop-color="#ffffff"/><stop offset="0.3091" stop-color="#fff9f9"/><stop offset="0.3148" stop-color="#fff9f9"/><stop offset="0.3148" stop-color="#ffeeee"/><stop offset="0.3198" stop-color="#ffeeee"/><stop offset="0.3198" stop-color="#ffe1e1"/><stop offset="0.3263" stop-color="#ffe1e1"/><stop offset="0.3264" stop-color="#ffd5d5"/><stop offset="0.3306" stop-color="#ffd5d5"/><stop offset="0.3306" stop-color="#ffcaca"/><stop offset="0.3367" stop-color="#ffcaca"/><stop offset="0.3368" stop-color="#ffc0c0"/><stop offset="0.3388" stop-color="#ffc0c0"/><stop offset="0.3388" stop-color="#ffb8b8"/><stop offset="0.3445" stop-color="#ffb8b8"/><stop offset="0.3445" stop-color="#ffb1b1"/><stop offset="0.3476" stop-color="#ffb1b1"/><stop offset="0.3477" stop-color="#ffaaaa"/><stop offset="0.3546" stop-color="#ffaaaa"/><stop offset="0.3547" stop-color="#ffa3a3"/><stop offset="0.3575" stop-color="#ffa3a3"/><stop offset="0.3576" stop-color="#ffa0a0"/><stop offset="0.3600" stop-color="#ffa0a0"/><stop offset="0.3600" stop-color="#ff9d9d"/><stop offset="0.3641" stop-color="#ff9d9d"/><stop offset="0.3642" stop-color="#ff9595"/><stop offset="0.3707" stop-color="#ff9595"/><stop offset="0.3708" stop-color="#ff9191"/><stop offset="0.3766" stop-color="#ff9191"/><stop offset="0.3767" stop-color="#ff8888"/><stop offset="0.3811" stop-color="#ff8888"/><stop offset="0.3812" stop-color="#ff8b8b"/><stop offset="0.3868" stop-color="#ff8b8b"/><stop offset="0.3869" stop-color="#ff7b7b"/><stop offset="0.3932" stop-color="#ff7b7b"/><stop offset="0.3933" stop-color="#ff7979"/><stop offset="0.3974" stop-color="#ff7979"/><stop offset="0.3975" stop-color="#ff6f6f"/><stop offset="0.4025" stop-color="#ff6f6f"/><stop offset="0.4026" stop-color="#ff6b6b"/><stop offset="0.4067" stop-color="#ff6b6b"/><stop offset="0.4068" stop-color="#ff6666"/><stop offset="0.4095" stop-color="#ff6666"/><stop offset="0.4096" stop-color="#ff6e6e"/><stop offset="0.4153" stop-color="#ff6e6e"/><stop offset="0.4153" stop-color="#ff6161"/><stop offset="0.4192" stop-color="#ff6161"/><stop offset="0.4192" stop-color="#ff5a5a"/><stop offset="0.4213" stop-color="#ff5a5a"/><stop offset="0.4214" stop-color="#ff5353"/><stop offset="0.4277" stop-color="#ff5353"/><stop offset="0.4277" stop-color="#ff4e4e"/><stop offset="0.4332" stop-color="#ff4e4e"/><stop offset="0.4332" stop-color="#ff4a4a"/><stop offset="0.4379" stop-color="#ff4a4a"/><stop offset="0.4379" stop-color="#ff4444"/><stop offset="0.4406" stop-color="#ff4444"/><stop offset="0.4407" stop-color="#ff4444"/><stop offset="0.4432" stop-color="#ff4444"/><stop offset="0.4432" stop-color="#ff3e3e"/><stop offset="0.4495" stop-color="#ff3e3e"/><stop offset="0.4496" stop-color="#ff3434"/><stop offset="0.4561" stop-color="#ff3434"/><stop offset="0.4562" stop-color="#ff3030"/><stop offset="0.4621" stop-color="#ff3030"/><stop offset="0.4621" stop-color="#ff2727"/><stop offset="0.4650" stop-color="#ff2727"/><stop offset="0.4651" stop-color="#ff2929"/><stop offset="0.4693" stop-color="#ff2929"/><stop offset="0.4693" stop-color="#ff3333"/><stop offset="0.4725" stop-color="#ff3333"/><stop offset="0.4725" stop-color="#ff1d1d"/><stop offset="0.4793" stop-color="#ff1d1d"/><stop offset="0.4794" stop-color="#ff1212"/><stop offset="0.4851" stop-color="#ff1212"/><stop offset="0.4851" stop-color="#ff0f0f"/><stop offset="0.4873" stop-color="#ff0f0f"/><stop offset="0.4873" stop-color="#ff1e1e"/><stop offset="0.4927" stop-color="#ff1e1e"/><stop offset="0.4927" stop-color="#ff0f0f"/><stop offset="0.5000" stop-color="#ff0a0a"/><stop offset="0.5073" stop-color="#ff0f0f"/><stop offset="0.5073" stop-color="#ff1c1c"/><stop offset="0.5101" stop-color="#ff1c1c"/><stop offset="0.5102" stop-color="#ff1f1f"/><stop offset="0.5165" stop-color="#ff1f1f"/><stop offset="0.5166" stop-color="#ff1515"/><stop offset="0.5212" stop-color="#ff1515"/><stop offset="0.5212" stop-color="#ff1b1b"/><stop offset="0.5256" stop-color="#ff1b1b"/><stop offset="0.5257" stop-color="#ff1c1c"/><stop offset="0.5281" stop-color="#ff1c1c"/><stop offset="0.5281" stop-color="#ff2222"/><stop offset="0.5336" stop-color="#ff2222"/><stop offset="0.5337" stop-color="#ff3838"/><stop offset="0.5378" stop-color="#ff3838"/><stop offset="0.5379" stop-color="#ff2c2c"/><stop offset="0.5433" stop-color="#ff2c2c"/><stop offset="0.5434" stop-color="#ff4040"/><stop offset="0.5463" stop-color="#ff4040"/><stop offset="0.5463" stop-color="#ff4242"/><stop offset="0.5531" stop-color="#ff4242"/><stop offset="0.5532" stop-color="#ff3c3c"/><stop offset="0.5562" stop-color="#ff3c3c"/><stop offset="0.5563" stop-color="#ff4343"/><stop offset="0.5626" stop-color="#ff4343"/><stop offset="0.5627" stop-color="#ff4b4b"/><stop offset="0.5662" stop-color="#ff4b4b"/><stop offset="0.5663" stop-color="#ff5252"/><stop offset="0.5732" stop-color="#ff5252"/><stop offset="0.5733" stop-color="#ff5555"/><stop offset="0.5789" stop-color="#ff5555"/><stop offset="0.5790" stop-color="#ff6262"/><stop offset="0.5822" stop-color="#ff6262"/><stop offset="0.5823" stop-color="#ff6060"/><stop offset="0.5879" stop-color="#ff6060"/><stop offset="0.5880" stop-color="#ff6363"/><stop offset="0.5927" stop-color="#ff6363"/><stop offset="0.5927" stop-color="#ff6a6a"/><stop offset="0.5993" stop-color="#ff6a6a"/><stop offset="0.5994" stop-color="#ff7373"/><stop offset="0.6027" stop-color="#ff7373"/><stop offset="0.6027" stop-color="#ff7575"/><stop offset="0.6066" stop-color="#ff7575"/><stop offset="0.6066" stop-color="#ff7f7f"/><stop offset="0.6086" stop-color="#ff7f7f"/><stop offset="0.6087" stop-color="#ff7a7a"/><stop offset="0.6122" stop-color="#ff7a7a"/><stop offset="0.6122" stop-color="#ff7f7f"/><stop offset="0.6160" stop-color="#ff7f7f"/><stop offset="0.6161" stop-color="#ff8383"/><stop offset="0.6206" stop-color="#ff8383"/><stop offset="0.6207" stop-color="#ff9090"/><stop offset="0.6273" stop-color="#ff9090"/><stop offset="0.6273" stop-color="#ff9292"/><stop offset="0.6305" stop-color="#ff9292"/><stop offset="0.6305" stop-color="#ff9696"/><stop offset="0.6335" stop-color="#ff9696"/><stop offset="0.6336" stop-color="#ffa0a0"/><stop offset="0.6360" stop-color="#ffa0a0"/><stop offset="0.6361" stop-color="#ff9f9f"/><stop offset="0.6406" stop-color="#ff9f9f"/><stop offset="0.6406" stop-color="#ffa4a4"/><stop offset="0.6475" stop-color="#ffa4a4"/><stop offset="0.6475" stop-color="#ffacac"/><stop offset="0.6542" stop-color="#ffacac"/><stop offset="0.6542" stop-color="#ffb6b6"/><stop offset="0.6603" stop-color="#ffb6b6"/><stop offset="0.6603" stop-color="#ffc0c0"/><stop offset="0.6625" stop-color="#ffc0c0"/><stop offset="0.6626" stop-color="#ffc5c5"/><stop offset="0.6665" stop-color="#ffc5c5"/><stop offset="0.6665" stop-color="#ffcccc"/><stop offset="0.6689" stop-color="#ffcccc"/><stop offset="0.6689" stop-color="#ffd4d4"/><stop offset="0.6735" stop-color="#ffd4d4"/><stop offset="0.6735" stop-color="#ffe0e0"/><stop offset="0.6796" stop-color="#ffe0e0"/><stop offset="0.6797" stop-color="#ffeeee"/><stop offset="0.6867" stop-color="#ffeeee"/><stop offset="0.6868" stop-color="#fff9f9"/><stop offset="0.6897" stop-color="#fff9f9"/><stop offset="0.6897" stop-color="#fffefe"/><stop offset="0.6909" stop-color="#fffefe"/><stop offset="0.6909" stop-color="#ffffff"/><stop offset="1.0000" stop-color="#ffffff"/></linearGradient><linearGradient id="ga9" gradientUnits="userSpaceOnUse" x1="113.0" y1="0" x2="524.2" y2="0"><stop offset="0.0000" stop-color="#ffffff"/><stop offset="0.2836" stop-color="#ffffff"/><stop offset="0.3137" stop-color="#ffc7c7"/><stop offset="0.3502" stop-color="#ff8a8a"/><stop offset="0.3864" stop-color="#ff5252"/><stop offset="0.4222" stop-color="#ff2929"/><stop offset="0.4489" stop-color="#ff0000"/><stop offset="0.5000" stop-color="#f50000"/><stop offset="0.5511" stop-color="#ff0000"/><stop offset="0.5778" stop-color="#ff2929"/><stop offset="0.6136" stop-color="#ff5252"/><stop offset="0.6498" stop-color="#ff8a8a"/><stop offset="0.6863" stop-color="#ffc7c7"/><stop offset="0.7164" stop-color="#ffffff"/><stop offset="1.0000" stop-color="#ffffff"/></linearGradient><linearGradient id="ga10" gradientUnits="userSpaceOnUse" x1="113.0" y1="0" x2="524.2" y2="0"><stop offset="0.0000" stop-color="#ffffff"/><stop offset="0.2836" stop-color="#ffffff"/><stop offset="0.3137" stop-color="#ffd1d1"/><stop offset="0.3502" stop-color="#ff9999"/><stop offset="0.3864" stop-color="#ff5c5c"/><stop offset="0.4222" stop-color="#ff2929"/><stop offset="0.4489" stop-color="#ff0000"/><stop offset="0.4854" stop-color="#c70000"/><stop offset="0.5000" stop-color="#c20000"/><stop offset="0.5146" stop-color="#c70000"/><stop offset="0.5511" stop-color="#ff0000"/><stop offset="0.5778" stop-color="#ff2929"/><stop offset="0.6136" stop-color="#ff5c5c"/><stop offset="0.6498" stop-color="#ff9999"/><stop offset="0.6863" stop-color="#ffd1d1"/><stop offset="0.7164" stop-color="#ffffff"/><stop offset="1.0000" stop-color="#ffffff"/></linearGradient><linearGradient id="ga11" gradientUnits="userSpaceOnUse" x1="113.0" y1="0" x2="524.2" y2="0"><stop offset="0.0000" stop-color="#ffffff"/><stop offset="0.2641" stop-color="#ffffff"/><stop offset="0.2811" stop-color="#ffe0e0"/><stop offset="0.3137" stop-color="#ffa8a8"/><stop offset="0.3502" stop-color="#ff7070"/><stop offset="0.3864" stop-color="#ff3d3d"/><stop offset="0.4222" stop-color="#ff0a0a"/><stop offset="0.4635" stop-color="#ff0000"/><stop offset="0.4854" stop-color="#c70000"/><stop offset="0.5000" stop-color="#8f0000"/><stop offset="0.5146" stop-color="#c70000"/><stop offset="0.5365" stop-color="#ff0000"/><stop offset="0.5778" stop-color="#ff0a0a"/><stop offset="0.6136" stop-color="#ff3d3d"/><stop offset="0.6498" stop-color="#ff7070"/><stop offset="0.6863" stop-color="#ffa8a8"/><stop offset="0.7189" stop-color="#ffe0e0"/><stop offset="0.7359" stop-color="#ffffff"/><stop offset="1.0000" stop-color="#ffffff"/></linearGradient><linearGradient id="ga12" gradientUnits="userSpaceOnUse" x1="113.0" y1="0" x2="524.2" y2="0"><stop offset="0.0000" stop-color="#ffffff"/><stop offset="0.2665" stop-color="#ffffff"/><stop offset="0.2811" stop-color="#ffdbdb"/><stop offset="0.3137" stop-color="#ff9999"/><stop offset="0.3502" stop-color="#ff5c5c"/><stop offset="0.3864" stop-color="#ff2929"/><stop offset="0.4222" stop-color="#ff0a0a"/><stop offset="0.4429" stop-color="#ff0000"/><stop offset="0.4635" stop-color="#f50000"/><stop offset="0.4854" stop-color="#b20000"/><stop offset="0.5000" stop-color="#700000"/><stop offset="0.5146" stop-color="#b20000"/><stop offset="0.5365" stop-color="#f50000"/><stop offset="0.5571" stop-color="#ff0000"/><stop offset="0.5778" stop-color="#ff0a0a"/><stop offset="0.6136" stop-color="#ff2929"/><stop offset="0.6498" stop-color="#ff5c5c"/><stop offset="0.6863" stop-color="#ff9999"/><stop offset="0.7189" stop-color="#ffdbdb"/><stop offset="0.7335" stop-color="#ffffff"/><stop offset="1.0000" stop-color="#ffffff"/></linearGradient><linearGradient id="ga13" gradientUnits="userSpaceOnUse" x1="113.0" y1="0" x2="524.2" y2="0"><stop offset="0.0000" stop-color="#ffffff"/><stop offset="0.2471" stop-color="#ffffff"/><stop offset="0.2690" stop-color="#ffcccc"/><stop offset="0.3089" stop-color="#ff7070"/><stop offset="0.3662" stop-color="#ff3333"/><stop offset="0.4246" stop-color="#ff0000"/><stop offset="0.4635" stop-color="#eb0000"/><stop offset="0.4854" stop-color="#ad0000"/><stop offset="0.5000" stop-color="#660000"/><stop offset="0.5146" stop-color="#ad0000"/><stop offset="0.5365" stop-color="#eb0000"/><stop offset="0.5754" stop-color="#ff0000"/><stop offset="0.6338" stop-color="#ff3333"/><stop offset="0.6911" stop-color="#ff7070"/><stop offset="0.7310" stop-color="#ffcccc"/><stop offset="0.7529" stop-color="#ffffff"/><stop offset="1.0000" stop-color="#ffffff"/></linearGradient><linearGradient id="ga14" gradientUnits="userSpaceOnUse" x1="113.0" y1="0" x2="524.2" y2="0"><stop offset="0.0000" stop-color="#ffffff"/><stop offset="0.2495" stop-color="#ffffff"/><stop offset="0.2690" stop-color="#ffcccc"/><stop offset="0.3103" stop-color="#ff7070"/><stop offset="0.3838" stop-color="#ff5c5c"/><stop offset="0.3881" stop-color="#ff0000"/><stop offset="0.3882" stop-color="#ff6666"/><stop offset="0.3884" stop-color="#ff6666"/><stop offset="0.3885" stop-color="#ffffff"/><stop offset="0.3954" stop-color="#ffffff"/><stop offset="0.3954" stop-color="#ff9999"/><stop offset="0.4020" stop-color="#ff9999"/><stop offset="0.4020" stop-color="#ff4d4d"/><stop offset="0.4091" stop-color="#ff4d4d"/><stop offset="0.4091" stop-color="#ffffff"/><stop offset="0.4092" stop-color="#6666ff"/><stop offset="0.4115" stop-color="#6666ff"/><stop offset="0.4116" stop-color="#3333ff"/><stop offset="0.4154" stop-color="#3333ff"/><stop offset="0.4154" stop-color="#ffffff"/><stop offset="0.4154" stop-color="#ff1919"/><stop offset="0.4198" stop-color="#ff1919"/><stop offset="0.4198" stop-color="#ffffff"/><stop offset="0.4198" stop-color="#b2b2ff"/><stop offset="0.4220" stop-color="#b2b2ff"/><stop offset="0.4221" stop-color="#ffffff"/><stop offset="0.4253" stop-color="#ffffff"/><stop offset="0.4253" stop-color="#ff4d4d"/><stop offset="0.4301" stop-color="#ff4d4d"/><stop offset="0.4301" stop-color="#ffffff"/><stop offset="0.4301" stop-color="#6666ff"/><stop offset="0.4340" stop-color="#6666ff"/><stop offset="0.4340" stop-color="#ffffff"/><stop offset="0.4340" stop-color="#ff9999"/><stop offset="0.4372" stop-color="#ff9999"/><stop offset="0.4373" stop-color="#ff9999"/><stop offset="0.4432" stop-color="#ff9999"/><stop offset="0.4433" stop-color="#ffffff"/><stop offset="0.4452" stop-color="#ffffff"/><stop offset="0.4452" stop-color="#ff6666"/><stop offset="0.4503" stop-color="#ff6666"/><stop offset="0.4503" stop-color="#ffffff"/><stop offset="0.4503" stop-color="#3333ff"/><stop offset="0.4536" stop-color="#3333ff"/><stop offset="0.4536" stop-color="#ffffff"/><stop offset="0.4536" stop-color="#ff1919"/><stop offset="0.4606" stop-color="#ff1919"/><stop offset="0.4606" stop-color="#ff1919"/><stop offset="0.4658" stop-color="#ff1919"/><stop offset="0.4659" stop-color="#ffcccc"/><stop offset="0.4701" stop-color="#ffcccc"/><stop offset="0.4701" stop-color="#ffffff"/><stop offset="0.4701" stop-color="#3333ff"/><stop offset="0.4734" stop-color="#3333ff"/><stop offset="0.4734" stop-color="#ffffff"/><stop offset="0.4781" stop-color="#ffffff"/><stop offset="0.4781" stop-color="#ff0000"/><stop offset="0.4815" stop-color="#cc0000"/><stop offset="0.4820" stop-color="#ff0000"/><stop offset="0.4846" stop-color="#ffffff"/><stop offset="0.4872" stop-color="#0000ff"/><stop offset="0.4878" stop-color="#0000c2"/><stop offset="0.5000" stop-color="#0000c2"/><stop offset="0.5122" stop-color="#0000c2"/><stop offset="0.5128" stop-color="#0000ff"/><stop offset="0.5154" stop-color="#ffffff"/><stop offset="0.5180" stop-color="#ff0000"/><stop offset="0.5185" stop-color="#cc0000"/><stop offset="0.5219" stop-color="#ff0000"/><stop offset="0.5219" stop-color="#ff9999"/><stop offset="0.5266" stop-color="#ff9999"/><stop offset="0.5267" stop-color="#ffffff"/><stop offset="0.5267" stop-color="#b2b2ff"/><stop offset="0.5316" stop-color="#b2b2ff"/><stop offset="0.5316" stop-color="#ffffff"/><stop offset="0.5317" stop-color="#ffcccc"/><stop offset="0.5364" stop-color="#ffcccc"/><stop offset="0.5364" stop-color="#ffffff"/><stop offset="0.5365" stop-color="#3333ff"/><stop offset="0.5407" stop-color="#3333ff"/><stop offset="0.5407" stop-color="#ffffff"/><stop offset="0.5407" stop-color="#ff6666"/><stop offset="0.5444" stop-color="#ff6666"/><stop offset="0.5444" stop-color="#ffffff"/><stop offset="0.5445" stop-color="#b2b2ff"/><stop offset="0.5507" stop-color="#b2b2ff"/><stop offset="0.5507" stop-color="#ffffff"/><stop offset="0.5507" stop-color="#ffcccc"/><stop offset="0.5536" stop-color="#ffcccc"/><stop offset="0.5536" stop-color="#ff1919"/><stop offset="0.5557" stop-color="#ff1919"/><stop offset="0.5557" stop-color="#ffcccc"/><stop offset="0.5588" stop-color="#ffcccc"/><stop offset="0.5589" stop-color="#ff1919"/><stop offset="0.5633" stop-color="#ff1919"/><stop offset="0.5633" stop-color="#ffffff"/><stop offset="0.5633" stop-color="#6666ff"/><stop offset="0.5658" stop-color="#6666ff"/><stop offset="0.5658" stop-color="#ffffff"/><stop offset="0.5658" stop-color="#ff1919"/><stop offset="0.5697" stop-color="#ff1919"/><stop offset="0.5697" stop-color="#ffffff"/><stop offset="0.5697" stop-color="#3333ff"/><stop offset="0.5763" stop-color="#3333ff"/><stop offset="0.5764" stop-color="#ffffff"/><stop offset="0.5764" stop-color="#ff9999"/><stop offset="0.5784" stop-color="#ff9999"/><stop offset="0.5785" stop-color="#ff4d4d"/><stop offset="0.5857" stop-color="#ff4d4d"/><stop offset="0.5857" stop-color="#ffcccc"/><stop offset="0.5928" stop-color="#ffcccc"/><stop offset="0.5928" stop-color="#ff4d4d"/><stop offset="0.5953" stop-color="#ff4d4d"/><stop offset="0.5953" stop-color="#ffffff"/><stop offset="0.5953" stop-color="#6666ff"/><stop offset="0.5988" stop-color="#6666ff"/><stop offset="0.5988" stop-color="#ffffff"/><stop offset="0.5988" stop-color="#ff9999"/><stop offset="0.6052" stop-color="#ff9999"/><stop offset="0.6052" stop-color="#ff1919"/><stop offset="0.6118" stop-color="#ff1919"/><stop offset="0.6119" stop-color="#ff0000"/><stop offset="0.6162" stop-color="#ff5c5c"/><stop offset="0.6897" stop-color="#ff7070"/><stop offset="0.7310" stop-color="#ffcccc"/><stop offset="0.7505" stop-color="#ffffff"/><stop offset="1.0000" stop-color="#ffffff"/></linearGradient><linearGradient id="ga15" gradientUnits="userSpaceOnUse" x1="113.0" y1="0" x2="524.2" y2="0"><stop offset="0.0000" stop-color="#ffffff"/><stop offset="0.2471" stop-color="#ffffff"/><stop offset="0.2763" stop-color="#ffa3a3"/><stop offset="0.3054" stop-color="#ff8080"/><stop offset="0.3249" stop-color="#ff9999"/><stop offset="0.3305" stop-color="#ffffff"/><stop offset="0.3468" stop-color="#6666ff"/><stop offset="0.3808" stop-color="#0000ff"/><stop offset="0.4514" stop-color="#0000e5"/><stop offset="0.5000" stop-color="#0000d6"/><stop offset="0.5486" stop-color="#0000e5"/><stop offset="0.6192" stop-color="#0000ff"/><stop offset="0.6532" stop-color="#6666ff"/><stop offset="0.6695" stop-color="#ffffff"/><stop offset="0.6751" stop-color="#ff9999"/><stop offset="0.6946" stop-color="#ff8080"/><stop offset="0.7237" stop-color="#ffa3a3"/><stop offset="0.7529" stop-color="#ffffff"/><stop offset="1.0000" stop-color="#ffffff"/></linearGradient><linearGradient id="ga16" gradientUnits="userSpaceOnUse" x1="113.0" y1="0" x2="524.2" y2="0"><stop offset="0.0000" stop-color="#ffffff"/><stop offset="0.2359" stop-color="#ffffff"/><stop offset="0.2763" stop-color="#ffa3a3"/><stop offset="0.2957" stop-color="#ffc2c2"/><stop offset="0.3054" stop-color="#ffffff"/><stop offset="0.3220" stop-color="#6666ff"/><stop offset="0.3492" stop-color="#0000ff"/><stop offset="0.4497" stop-color="#0000e5"/><stop offset="0.5000" stop-color="#0000c2"/><stop offset="0.5503" stop-color="#0000e5"/><stop offset="0.6508" stop-color="#0000ff"/><stop offset="0.6780" stop-color="#6666ff"/><stop offset="0.6946" stop-color="#ffffff"/><stop offset="0.7043" stop-color="#ffc2c2"/><stop offset="0.7237" stop-color="#ffa3a3"/><stop offset="0.7641" stop-color="#ffffff"/><stop offset="1.0000" stop-color="#ffffff"/></linearGradient><linearGradient id="ga17" gradientUnits="userSpaceOnUse" x1="113.0" y1="0" x2="524.2" y2="0"><stop offset="0.0000" stop-color="#ffffff"/><stop offset="0.2237" stop-color="#ffffff"/><stop offset="0.2568" stop-color="#ffc2c2"/><stop offset="0.2695" stop-color="#ffffff"/><stop offset="0.2860" stop-color="#8f8fff"/><stop offset="0.3054" stop-color="#4747ff"/><stop offset="0.3541" stop-color="#0000ff"/><stop offset="0.4329" stop-color="#0000d6"/><stop offset="0.5000" stop-color="#0000b8"/><stop offset="0.5671" stop-color="#0000d6"/><stop offset="0.6459" stop-color="#0000ff"/><stop offset="0.6946" stop-color="#4747ff"/><stop offset="0.7140" stop-color="#8f8fff"/><stop offset="0.7305" stop-color="#ffffff"/><stop offset="0.7432" stop-color="#ffc2c2"/><stop offset="0.7763" stop-color="#ffffff"/><stop offset="1.0000" stop-color="#ffffff"/></linearGradient><linearGradient id="ga18" gradientUnits="userSpaceOnUse" x1="113.0" y1="0" x2="524.2" y2="0"><stop offset="0.0000" stop-color="#ffffff"/><stop offset="0.2140" stop-color="#ffffff"/><stop offset="0.2325" stop-color="#ffe0e0"/><stop offset="0.2471" stop-color="#ffffff"/><stop offset="0.2592" stop-color="#b2b2ff"/><stop offset="0.2763" stop-color="#5252ff"/><stop offset="0.3346" stop-color="#0000ff"/><stop offset="0.4329" stop-color="#0000c2"/><stop offset="0.5000" stop-color="#0000ad"/><stop offset="0.5671" stop-color="#0000c2"/><stop offset="0.6654" stop-color="#0000ff"/><stop offset="0.7237" stop-color="#5252ff"/><stop offset="0.7408" stop-color="#b2b2ff"/><stop offset="0.7529" stop-color="#ffffff"/><stop offset="0.7675" stop-color="#ffe0e0"/><stop offset="0.7860" stop-color="#ffffff"/><stop offset="1.0000" stop-color="#ffffff"/></linearGradient><linearGradient id="ga19" gradientUnits="userSpaceOnUse" x1="113.0" y1="0" x2="524.2" y2="0"><stop offset="0.0000" stop-color="#ffffff"/><stop offset="0.2043" stop-color="#ffffff"/><stop offset="0.2228" stop-color="#fff0f0"/><stop offset="0.2325" stop-color="#ffffff"/><stop offset="0.2422" stop-color="#bdbdff"/><stop offset="0.2592" stop-color="#5252ff"/><stop offset="0.3249" stop-color="#0000ff"/><stop offset="0.4159" stop-color="#0000b8"/><stop offset="0.5000" stop-color="#0000a3"/><stop offset="0.5841" stop-color="#0000b8"/><stop offset="0.6751" stop-color="#0000ff"/><stop offset="0.7408" stop-color="#5252ff"/><stop offset="0.7578" stop-color="#bdbdff"/><stop offset="0.7675" stop-color="#ffffff"/><stop offset="0.7772" stop-color="#fff0f0"/><stop offset="0.7957" stop-color="#ffffff"/><stop offset="1.0000" stop-color="#ffffff"/></linearGradient><linearGradient id="ga20" gradientUnits="userSpaceOnUse" x1="113.0" y1="0" x2="524.2" y2="0"><stop offset="0.0000" stop-color="#ffffff"/><stop offset="0.2179" stop-color="#ffffff"/><stop offset="0.2235" stop-color="#c7c7ff"/><stop offset="0.2461" stop-color="#5252ff"/><stop offset="0.3142" stop-color="#0000ff"/><stop offset="0.4005" stop-color="#0000b2"/><stop offset="0.5000" stop-color="#000099"/><stop offset="0.5995" stop-color="#0000b2"/><stop offset="0.6858" stop-color="#0000ff"/><stop offset="0.7539" stop-color="#5252ff"/><stop offset="0.7765" stop-color="#c7c7ff"/><stop offset="0.7821" stop-color="#ffffff"/><stop offset="1.0000" stop-color="#ffffff"/></linearGradient><linearGradient id="ga21" gradientUnits="userSpaceOnUse" x1="113.0" y1="0" x2="524.2" y2="0"><stop offset="0.0000" stop-color="#ffffff"/><stop offset="0.2045" stop-color="#ffffff"/><stop offset="0.2106" stop-color="#c7c7ff"/><stop offset="0.2325" stop-color="#5252ff"/><stop offset="0.3006" stop-color="#0000ff"/><stop offset="0.3874" stop-color="#0000b2"/><stop offset="0.5000" stop-color="#000099"/><stop offset="0.6126" stop-color="#0000b2"/><stop offset="0.6994" stop-color="#0000ff"/><stop offset="0.7675" stop-color="#5252ff"/><stop offset="0.7894" stop-color="#c7c7ff"/><stop offset="0.7955" stop-color="#ffffff"/><stop offset="1.0000" stop-color="#ffffff"/></linearGradient><linearGradient id="ga22" gradientUnits="userSpaceOnUse" x1="113.0" y1="0" x2="524.2" y2="0"><stop offset="0.0000" stop-color="#ffffff"/><stop offset="0.1887" stop-color="#ffffff"/><stop offset="0.1960" stop-color="#c7c7ff"/><stop offset="0.2179" stop-color="#5252ff"/><stop offset="0.2860" stop-color="#0000ff"/><stop offset="0.3672" stop-color="#0000b2"/><stop offset="0.5000" stop-color="#000099"/><stop offset="0.6328" stop-color="#0000b2"/><stop offset="0.7140" stop-color="#0000ff"/><stop offset="0.7821" stop-color="#5252ff"/><stop offset="0.8040" stop-color="#c7c7ff"/><stop offset="0.8113" stop-color="#ffffff"/><stop offset="1.0000" stop-color="#ffffff"/></linearGradient><linearGradient id="gb0" gradientUnits="userSpaceOnUse" x1="728.7" y1="0" x2="1139.9" y2="0"><stop offset="0.0000" stop-color="#ffffff"/><stop offset="0.3614" stop-color="#ffffff"/><stop offset="0.3614" stop-color="#fffbfb"/><stop offset="0.3653" stop-color="#fffbfb"/><stop offset="0.3654" stop-color="#ffdddd"/><stop offset="0.3706" stop-color="#ffdddd"/><stop offset="0.3706" stop-color="#ffd6d6"/><stop offset="0.3778" stop-color="#ffd6d6"/><stop offset="0.3778" stop-color="#ffd0d0"/><stop offset="0.3829" stop-color="#ffd0d0"/><stop offset="0.3829" stop-color="#ffdede"/><stop offset="0.3867" stop-color="#ffdede"/><stop offset="0.3868" stop-color="#ffc2c2"/><stop offset="0.3887" stop-color="#ffc2c2"/><stop offset="0.3888" stop-color="#fff1f1"/><stop offset="0.3932" stop-color="#fff1f1"/><stop offset="0.3933" stop-color="#ffc3c3"/><stop offset="0.3958" stop-color="#ffc3c3"/><stop offset="0.3959" stop-color="#ffcaca"/><stop offset="0.3981" stop-color="#ffcaca"/><stop offset="0.3981" stop-color="#ffcccc"/><stop offset="0.4006" stop-color="#ffcccc"/><stop offset="0.4007" stop-color="#ffdfdf"/><stop offset="0.4044" stop-color="#ffdfdf"/><stop offset="0.4045" stop-color="#ffdfdf"/><stop offset="0.4113" stop-color="#ffdfdf"/><stop offset="0.4114" stop-color="#ffc6c6"/><stop offset="0.4184" stop-color="#ffc6c6"/><stop offset="0.4185" stop-color="#ffe2e2"/><stop offset="0.4207" stop-color="#ffe2e2"/><stop offset="0.4207" stop-color="#ffc0c0"/><stop offset="0.4255" stop-color="#ffc0c0"/><stop offset="0.4255" stop-color="#ffcaca"/><stop offset="0.4283" stop-color="#ffcaca"/><stop offset="0.4284" stop-color="#ffbebe"/><stop offset="0.4328" stop-color="#ffbebe"/><stop offset="0.4329" stop-color="#ffc0c0"/><stop offset="0.4389" stop-color="#ffc0c0"/><stop offset="0.4390" stop-color="#ffbdbd"/><stop offset="0.4448" stop-color="#ffbdbd"/><stop offset="0.4448" stop-color="#ffc6c6"/><stop offset="0.4490" stop-color="#ffc6c6"/><stop offset="0.4491" stop-color="#ffd1d1"/><stop offset="0.4511" stop-color="#ffd1d1"/><stop offset="0.4512" stop-color="#ffd0d0"/><stop offset="0.4583" stop-color="#ffd0d0"/><stop offset="0.4583" stop-color="#ffbcbc"/><stop offset="0.4636" stop-color="#ffbcbc"/><stop offset="0.4636" stop-color="#ffc3c3"/><stop offset="0.4661" stop-color="#ffc3c3"/><stop offset="0.4661" stop-color="#ffcbcb"/><stop offset="0.4680" stop-color="#ffcbcb"/><stop offset="0.4681" stop-color="#ffd4d4"/><stop offset="0.4720" stop-color="#ffd4d4"/><stop offset="0.4720" stop-color="#ffc2c2"/><stop offset="0.4726" stop-color="#ffffff"/><stop offset="0.4732" stop-color="#adadff"/><stop offset="0.4891" stop-color="#adadff"/><stop offset="0.4897" stop-color="#ffffff"/><stop offset="0.4903" stop-color="#ffb2b2"/><stop offset="0.4939" stop-color="#ffb2b2"/><stop offset="0.4947" stop-color="#ffffff"/><stop offset="0.4964" stop-color="#6666ff"/><stop offset="0.5000" stop-color="#6666ff"/><stop offset="0.5036" stop-color="#6666ff"/><stop offset="0.5053" stop-color="#ffffff"/><stop offset="0.5061" stop-color="#ffb2b2"/><stop offset="0.5097" stop-color="#ffb2b2"/><stop offset="0.5103" stop-color="#ffffff"/><stop offset="0.5109" stop-color="#adadff"/><stop offset="0.5268" stop-color="#adadff"/><stop offset="0.5274" stop-color="#ffffff"/><stop offset="0.5280" stop-color="#ffc2c2"/><stop offset="0.5280" stop-color="#ffb8b8"/><stop offset="0.5340" stop-color="#ffb8b8"/><stop offset="0.5341" stop-color="#ffc7c7"/><stop offset="0.5394" stop-color="#ffc7c7"/><stop offset="0.5395" stop-color="#ffe6e6"/><stop offset="0.5446" stop-color="#ffe6e6"/><stop offset="0.5446" stop-color="#ffc1c1"/><stop offset="0.5515" stop-color="#ffc1c1"/><stop offset="0.5515" stop-color="#ffc5c5"/><stop offset="0.5562" stop-color="#ffc5c5"/><stop offset="0.5562" stop-color="#ffbfbf"/><stop offset="0.5601" stop-color="#ffbfbf"/><stop offset="0.5602" stop-color="#ffbcbc"/><stop offset="0.5656" stop-color="#ffbcbc"/><stop offset="0.5657" stop-color="#ffc3c3"/><stop offset="0.5727" stop-color="#ffc3c3"/><stop offset="0.5727" stop-color="#ffc4c4"/><stop offset="0.5784" stop-color="#ffc4c4"/><stop offset="0.5784" stop-color="#ffbebe"/><stop offset="0.5849" stop-color="#ffbebe"/><stop offset="0.5850" stop-color="#ffbfbf"/><stop offset="0.5894" stop-color="#ffbfbf"/><stop offset="0.5894" stop-color="#ffc0c0"/><stop offset="0.5920" stop-color="#ffc0c0"/><stop offset="0.5921" stop-color="#ffc7c7"/><stop offset="0.5966" stop-color="#ffc7c7"/><stop offset="0.5967" stop-color="#ffcaca"/><stop offset="0.6033" stop-color="#ffcaca"/><stop offset="0.6033" stop-color="#ffe9e9"/><stop offset="0.6088" stop-color="#ffe9e9"/><stop offset="0.6088" stop-color="#ffc3c3"/><stop offset="0.6116" stop-color="#ffc3c3"/><stop offset="0.6116" stop-color="#ffcbcb"/><stop offset="0.6140" stop-color="#ffcbcb"/><stop offset="0.6140" stop-color="#fffbfb"/><stop offset="0.6194" stop-color="#fffbfb"/><stop offset="0.6194" stop-color="#ffe8e8"/><stop offset="0.6239" stop-color="#ffe8e8"/><stop offset="0.6240" stop-color="#fff0f0"/><stop offset="0.6263" stop-color="#fff0f0"/><stop offset="0.6264" stop-color="#ffd9d9"/><stop offset="0.6307" stop-color="#ffd9d9"/><stop offset="0.6307" stop-color="#ffe4e4"/><stop offset="0.6377" stop-color="#ffe4e4"/><stop offset="0.6378" stop-color="#fffdfd"/><stop offset="0.6386" stop-color="#fffdfd"/><stop offset="0.6386" stop-color="#ffffff"/><stop offset="1.0000" stop-color="#ffffff"/></linearGradient><linearGradient id="gb1" gradientUnits="userSpaceOnUse" x1="728.7" y1="0" x2="1139.9" y2="0"><stop offset="0.0000" stop-color="#ffffff"/><stop offset="0.3176" stop-color="#ffffff"/><stop offset="0.3176" stop-color="#fffefe"/><stop offset="0.3180" stop-color="#fffefe"/><stop offset="0.3180" stop-color="#fff7f7"/><stop offset="0.3252" stop-color="#fff7f7"/><stop offset="0.3252" stop-color="#ffe7e7"/><stop offset="0.3295" stop-color="#ffe7e7"/><stop offset="0.3296" stop-color="#ffdcdc"/><stop offset="0.3324" stop-color="#ffdcdc"/><stop offset="0.3324" stop-color="#ffdddd"/><stop offset="0.3381" stop-color="#ffdddd"/><stop offset="0.3381" stop-color="#ffc8c8"/><stop offset="0.3453" stop-color="#ffc8c8"/><stop offset="0.3453" stop-color="#ffbfbf"/><stop offset="0.3484" stop-color="#ffbfbf"/><stop offset="0.3485" stop-color="#ffbcbc"/><stop offset="0.3509" stop-color="#ffbcbc"/><stop offset="0.3510" stop-color="#ffb8b8"/><stop offset="0.3573" stop-color="#ffb8b8"/><stop offset="0.3574" stop-color="#ffb6b6"/><stop offset="0.3618" stop-color="#ffb6b6"/><stop offset="0.3619" stop-color="#ffcbcb"/><stop offset="0.3640" stop-color="#ffcbcb"/><stop offset="0.3640" stop-color="#ffb2b2"/><stop offset="0.3702" stop-color="#ffb2b2"/><stop offset="0.3702" stop-color="#ffb8b8"/><stop offset="0.3764" stop-color="#ffb8b8"/><stop offset="0.3765" stop-color="#ffb2b2"/><stop offset="0.3804" stop-color="#ffb2b2"/><stop offset="0.3804" stop-color="#ffb1b1"/><stop offset="0.3874" stop-color="#ffb1b1"/><stop offset="0.3875" stop-color="#ffbebe"/><stop offset="0.3910" stop-color="#ffbebe"/><stop offset="0.3910" stop-color="#ffcccc"/><stop offset="0.3948" stop-color="#ffcccc"/><stop offset="0.3948" stop-color="#ffb3b3"/><stop offset="0.3976" stop-color="#ffb3b3"/><stop offset="0.3976" stop-color="#ffc3c3"/><stop offset="0.4024" stop-color="#ffc3c3"/><stop offset="0.4025" stop-color="#ffb5b5"/><stop offset="0.4060" stop-color="#ffb5b5"/><stop offset="0.4061" stop-color="#ffb7b7"/><stop offset="0.4120" stop-color="#ffb7b7"/><stop offset="0.4120" stop-color="#ffb3b3"/><stop offset="0.4148" stop-color="#ffb3b3"/><stop offset="0.4148" stop-color="#ffb2b2"/><stop offset="0.4182" stop-color="#ffb2b2"/><stop offset="0.4182" stop-color="#ffd1d1"/><stop offset="0.4217" stop-color="#ffd1d1"/><stop offset="0.4218" stop-color="#ffd7d7"/><stop offset="0.4242" stop-color="#ffd7d7"/><stop offset="0.4243" stop-color="#ffc0c0"/><stop offset="0.4280" stop-color="#ffc0c0"/><stop offset="0.4280" stop-color="#ffb5b5"/><stop offset="0.4325" stop-color="#ffb5b5"/><stop offset="0.4325" stop-color="#ffb3b3"/><stop offset="0.4373" stop-color="#ffb3b3"/><stop offset="0.4374" stop-color="#ffb0b0"/><stop offset="0.4423" stop-color="#ffb0b0"/><stop offset="0.4423" stop-color="#ffb1b1"/><stop offset="0.4485" stop-color="#ffb1b1"/><stop offset="0.4486" stop-color="#ffd4d4"/><stop offset="0.4518" stop-color="#ffd4d4"/><stop offset="0.4518" stop-color="#ffb5b5"/><stop offset="0.4547" stop-color="#ffb5b5"/><stop offset="0.4547" stop-color="#ffb5b5"/><stop offset="0.4619" stop-color="#ffb5b5"/><stop offset="0.4620" stop-color="#ffc6c6"/><stop offset="0.4640" stop-color="#ffc6c6"/><stop offset="0.4641" stop-color="#ffc8c8"/><stop offset="0.4673" stop-color="#ffc8c8"/><stop offset="0.4673" stop-color="#ffbebe"/><stop offset="0.4745" stop-color="#ffbebe"/><stop offset="0.4746" stop-color="#ffb2b2"/><stop offset="0.4791" stop-color="#ffb2b2"/><stop offset="0.4792" stop-color="#ffcdcd"/><stop offset="0.4844" stop-color="#ffcdcd"/><stop offset="0.4845" stop-color="#ffb0b0"/><stop offset="0.4866" stop-color="#ffb0b0"/><stop offset="0.4866" stop-color="#ffb2b2"/><stop offset="0.4891" stop-color="#ff4d4d"/><stop offset="0.5000" stop-color="#ff4d4d"/><stop offset="0.5109" stop-color="#ff4d4d"/><stop offset="0.5134" stop-color="#ffb2b2"/><stop offset="0.5134" stop-color="#ffc5c5"/><stop offset="0.5156" stop-color="#ffc5c5"/><stop offset="0.5157" stop-color="#ffadad"/><stop offset="0.5214" stop-color="#ffadad"/><stop offset="0.5214" stop-color="#ffafaf"/><stop offset="0.5238" stop-color="#ffafaf"/><stop offset="0.5238" stop-color="#ffc6c6"/><stop offset="0.5283" stop-color="#ffc6c6"/><stop offset="0.5283" stop-color="#ffb3b3"/><stop offset="0.5334" stop-color="#ffb3b3"/><stop offset="0.5334" stop-color="#ffb7b7"/><stop offset="0.5368" stop-color="#ffb7b7"/><stop offset="0.5368" stop-color="#ffadad"/><stop offset="0.5408" stop-color="#ffadad"/><stop offset="0.5408" stop-color="#ffb8b8"/><stop offset="0.5443" stop-color="#ffb8b8"/><stop offset="0.5443" stop-color="#ffcccc"/><stop offset="0.5515" stop-color="#ffcccc"/><stop offset="0.5516" stop-color="#ffb2b2"/><stop offset="0.5551" stop-color="#ffb2b2"/><stop offset="0.5552" stop-color="#ffafaf"/><stop offset="0.5585" stop-color="#ffafaf"/><stop offset="0.5586" stop-color="#ffbbbb"/><stop offset="0.5614" stop-color="#ffbbbb"/><stop offset="0.5614" stop-color="#ffbfbf"/><stop offset="0.5644" stop-color="#ffbfbf"/><stop offset="0.5645" stop-color="#ffd5d5"/><stop offset="0.5666" stop-color="#ffd5d5"/><stop offset="0.5667" stop-color="#ffb5b5"/><stop offset="0.5710" stop-color="#ffb5b5"/><stop offset="0.5710" stop-color="#ffb0b0"/><stop offset="0.5748" stop-color="#ffb0b0"/><stop offset="0.5749" stop-color="#ffb4b4"/><stop offset="0.5811" stop-color="#ffb4b4"/><stop offset="0.5811" stop-color="#ffb6b6"/><stop offset="0.5857" stop-color="#ffb6b6"/><stop offset="0.5858" stop-color="#ffafaf"/><stop offset="0.5898" stop-color="#ffafaf"/><stop offset="0.5899" stop-color="#ffb0b0"/><stop offset="0.5924" stop-color="#ffb0b0"/><stop offset="0.5924" stop-color="#ffb0b0"/><stop offset="0.5958" stop-color="#ffb0b0"/><stop offset="0.5958" stop-color="#ffbbbb"/><stop offset="0.5992" stop-color="#ffbbbb"/><stop offset="0.5992" stop-color="#ffb1b1"/><stop offset="0.6062" stop-color="#ffb1b1"/><stop offset="0.6063" stop-color="#ffd0d0"/><stop offset="0.6131" stop-color="#ffd0d0"/><stop offset="0.6132" stop-color="#ffc6c6"/><stop offset="0.6194" stop-color="#ffc6c6"/><stop offset="0.6195" stop-color="#ffbaba"/><stop offset="0.6242" stop-color="#ffbaba"/><stop offset="0.6242" stop-color="#ffd0d0"/><stop offset="0.6313" stop-color="#ffd0d0"/><stop offset="0.6314" stop-color="#ffb9b9"/><stop offset="0.6339" stop-color="#ffb9b9"/><stop offset="0.6339" stop-color="#ffb3b3"/><stop offset="0.6390" stop-color="#ffb3b3"/><stop offset="0.6391" stop-color="#ffbbbb"/><stop offset="0.6458" stop-color="#ffbbbb"/><stop offset="0.6458" stop-color="#ffe0e0"/><stop offset="0.6530" stop-color="#ffe0e0"/><stop offset="0.6530" stop-color="#ffc0c0"/><stop offset="0.6552" stop-color="#ffc0c0"/><stop offset="0.6553" stop-color="#ffc9c9"/><stop offset="0.6585" stop-color="#ffc9c9"/><stop offset="0.6586" stop-color="#ffd5d5"/><stop offset="0.6620" stop-color="#ffd5d5"/><stop offset="0.6621" stop-color="#ffd7d7"/><stop offset="0.6682" stop-color="#ffd7d7"/><stop offset="0.6682" stop-color="#ffdbdb"/><stop offset="0.6702" stop-color="#ffdbdb"/><stop offset="0.6703" stop-color="#ffe5e5"/><stop offset="0.6746" stop-color="#ffe5e5"/><stop offset="0.6746" stop-color="#fff4f4"/><stop offset="0.6814" stop-color="#fff4f4"/><stop offset="0.6815" stop-color="#fffefe"/><stop offset="0.6824" stop-color="#fffefe"/><stop offset="0.6824" stop-color="#ffffff"/><stop offset="1.0000" stop-color="#ffffff"/></linearGradient><linearGradient id="gb2" gradientUnits="userSpaceOnUse" x1="728.7" y1="0" x2="1139.9" y2="0"><stop offset="0.0000" stop-color="#ffffff"/><stop offset="0.2301" stop-color="#ffffff"/><stop offset="0.2301" stop-color="#fffdfd"/><stop offset="0.2331" stop-color="#fffdfd"/><stop offset="0.2331" stop-color="#fff5f5"/><stop offset="0.2391" stop-color="#fff5f5"/><stop offset="0.2391" stop-color="#fff0f0"/><stop offset="0.2412" stop-color="#fff0f0"/><stop offset="0.2412" stop-color="#ffeded"/><stop offset="0.2445" stop-color="#ffeded"/><stop offset="0.2446" stop-color="#ffe3e3"/><stop offset="0.2497" stop-color="#ffe3e3"/><stop offset="0.2497" stop-color="#ffdcdc"/><stop offset="0.2541" stop-color="#ffdcdc"/><stop offset="0.2541" stop-color="#ffd3d3"/><stop offset="0.2609" stop-color="#ffd3d3"/><stop offset="0.2609" stop-color="#ffcfcf"/><stop offset="0.2663" stop-color="#ffcfcf"/><stop offset="0.2663" stop-color="#ffcece"/><stop offset="0.2729" stop-color="#ffcece"/><stop offset="0.2730" stop-color="#ffc2c2"/><stop offset="0.2773" stop-color="#ffc2c2"/><stop offset="0.2773" stop-color="#ffc1c1"/><stop offset="0.2796" stop-color="#ffc1c1"/><stop offset="0.2797" stop-color="#ffd1d1"/><stop offset="0.2830" stop-color="#ffd1d1"/><stop offset="0.2831" stop-color="#ffbdbd"/><stop offset="0.2865" stop-color="#ffbdbd"/><stop offset="0.2865" stop-color="#ffb3b3"/><stop offset="0.2906" stop-color="#ffb3b3"/><stop offset="0.2906" stop-color="#ffadad"/><stop offset="0.2944" stop-color="#ffadad"/><stop offset="0.2944" stop-color="#ffb9b9"/><stop offset="0.2996" stop-color="#ffb9b9"/><stop offset="0.2997" stop-color="#ffafaf"/><stop offset="0.3053" stop-color="#ffafaf"/><stop offset="0.3054" stop-color="#ffb1b1"/><stop offset="0.3118" stop-color="#ffb1b1"/><stop offset="0.3119" stop-color="#ffaeae"/><stop offset="0.3190" stop-color="#ffaeae"/><stop offset="0.3190" stop-color="#ffa3a3"/><stop offset="0.3239" stop-color="#ffa3a3"/><stop offset="0.3240" stop-color="#ff9c9c"/><stop offset="0.3264" stop-color="#ff9c9c"/><stop offset="0.3265" stop-color="#ffabab"/><stop offset="0.3314" stop-color="#ffabab"/><stop offset="0.3314" stop-color="#ff9e9e"/><stop offset="0.3385" stop-color="#ff9e9e"/><stop offset="0.3385" stop-color="#ffa7a7"/><stop offset="0.3452" stop-color="#ffa7a7"/><stop offset="0.3453" stop-color="#ffaeae"/><stop offset="0.3487" stop-color="#ffaeae"/><stop offset="0.3487" stop-color="#ffa5a5"/><stop offset="0.3556" stop-color="#ffa5a5"/><stop offset="0.3557" stop-color="#ff9f9f"/><stop offset="0.3579" stop-color="#ff9f9f"/><stop offset="0.3580" stop-color="#ffb8b8"/><stop offset="0.3640" stop-color="#ffb8b8"/><stop offset="0.3640" stop-color="#ffa3a3"/><stop offset="0.3687" stop-color="#ffa3a3"/><stop offset="0.3687" stop-color="#ffa1a1"/><stop offset="0.3748" stop-color="#ffa1a1"/><stop offset="0.3748" stop-color="#ff9f9f"/><stop offset="0.3806" stop-color="#ff9f9f"/><stop offset="0.3806" stop-color="#ffb1b1"/><stop offset="0.3842" stop-color="#ffb1b1"/><stop offset="0.3842" stop-color="#ffa0a0"/><stop offset="0.3878" stop-color="#ffa0a0"/><stop offset="0.3879" stop-color="#ffa0a0"/><stop offset="0.3914" stop-color="#ffa0a0"/><stop offset="0.3915" stop-color="#ffb5b5"/><stop offset="0.3966" stop-color="#ffb5b5"/><stop offset="0.3967" stop-color="#ff9b9b"/><stop offset="0.4002" stop-color="#ff9b9b"/><stop offset="0.4003" stop-color="#ff9e9e"/><stop offset="0.4045" stop-color="#ff9e9e"/><stop offset="0.4046" stop-color="#ffa1a1"/><stop offset="0.4111" stop-color="#ffa1a1"/><stop offset="0.4111" stop-color="#ffc0c0"/><stop offset="0.4180" stop-color="#ffc0c0"/><stop offset="0.4181" stop-color="#ff9b9b"/><stop offset="0.4227" stop-color="#ff9b9b"/><stop offset="0.4228" stop-color="#ff9b9b"/><stop offset="0.4279" stop-color="#ff9b9b"/><stop offset="0.4279" stop-color="#ff9e9e"/><stop offset="0.4340" stop-color="#ff9e9e"/><stop offset="0.4341" stop-color="#ffc0c0"/><stop offset="0.4403" stop-color="#ffc0c0"/><stop offset="0.4404" stop-color="#ff9a9a"/><stop offset="0.4434" stop-color="#ff9a9a"/><stop offset="0.4435" stop-color="#ffa1a1"/><stop offset="0.4460" stop-color="#ffa1a1"/><stop offset="0.4460" stop-color="#ffa8a8"/><stop offset="0.4495" stop-color="#ffa8a8"/><stop offset="0.4495" stop-color="#ff9999"/><stop offset="0.4562" stop-color="#ff9999"/><stop offset="0.4562" stop-color="#ff9e9e"/><stop offset="0.4578" stop-color="#ffffff"/><stop offset="0.4587" stop-color="#ccccff"/><stop offset="0.4660" stop-color="#ccccff"/><stop offset="0.4666" stop-color="#ffffff"/><stop offset="0.4684" stop-color="#ff6666"/><stop offset="0.4915" stop-color="#ff6666"/><stop offset="0.4932" stop-color="#ffffff"/><stop offset="0.4939" stop-color="#c2c2ff"/><stop offset="0.4964" stop-color="#6666ff"/><stop offset="0.5000" stop-color="#6666ff"/><stop offset="0.5036" stop-color="#6666ff"/><stop offset="0.5061" stop-color="#c2c2ff"/><stop offset="0.5068" stop-color="#ffffff"/><stop offset="0.5085" stop-color="#ff6666"/><stop offset="0.5316" stop-color="#ff6666"/><stop offset="0.5334" stop-color="#ffffff"/><stop offset="0.5340" stop-color="#ccccff"/><stop offset="0.5413" stop-color="#ccccff"/><stop offset="0.5422" stop-color="#ffffff"/><stop offset="0.5438" stop-color="#ff9e9e"/><stop offset="0.5438" stop-color="#ff9e9e"/><stop offset="0.5487" stop-color="#ff9e9e"/><stop offset="0.5487" stop-color="#ff9b9b"/><stop offset="0.5544" stop-color="#ff9b9b"/><stop offset="0.5545" stop-color="#ff9b9b"/><stop offset="0.5596" stop-color="#ff9b9b"/><stop offset="0.5597" stop-color="#ff9f9f"/><stop offset="0.5651" stop-color="#ff9f9f"/><stop offset="0.5652" stop-color="#ffa8a8"/><stop offset="0.5693" stop-color="#ffa8a8"/><stop offset="0.5693" stop-color="#ffadad"/><stop offset="0.5735" stop-color="#ffadad"/><stop offset="0.5735" stop-color="#ffb6b6"/><stop offset="0.5779" stop-color="#ffb6b6"/><stop offset="0.5779" stop-color="#ff9e9e"/><stop offset="0.5844" stop-color="#ff9e9e"/><stop offset="0.5845" stop-color="#ff9c9c"/><stop offset="0.5873" stop-color="#ff9c9c"/><stop offset="0.5873" stop-color="#ffa0a0"/><stop offset="0.5939" stop-color="#ffa0a0"/><stop offset="0.5939" stop-color="#ff9d9d"/><stop offset="0.5990" stop-color="#ff9d9d"/><stop offset="0.5991" stop-color="#ff9a9a"/><stop offset="0.6020" stop-color="#ff9a9a"/><stop offset="0.6020" stop-color="#ff9e9e"/><stop offset="0.6083" stop-color="#ff9e9e"/><stop offset="0.6084" stop-color="#ff9f9f"/><stop offset="0.6136" stop-color="#ff9f9f"/><stop offset="0.6137" stop-color="#ffb6b6"/><stop offset="0.6188" stop-color="#ffb6b6"/><stop offset="0.6189" stop-color="#ffa1a1"/><stop offset="0.6218" stop-color="#ffa1a1"/><stop offset="0.6218" stop-color="#ff9e9e"/><stop offset="0.6272" stop-color="#ff9e9e"/><stop offset="0.6272" stop-color="#ff9d9d"/><stop offset="0.6315" stop-color="#ff9d9d"/><stop offset="0.6316" stop-color="#ffbcbc"/><stop offset="0.6363" stop-color="#ffbcbc"/><stop offset="0.6363" stop-color="#ffa8a8"/><stop offset="0.6390" stop-color="#ffa8a8"/><stop offset="0.6390" stop-color="#ffbfbf"/><stop offset="0.6451" stop-color="#ffbfbf"/><stop offset="0.6452" stop-color="#ffc6c6"/><stop offset="0.6473" stop-color="#ffc6c6"/><stop offset="0.6474" stop-color="#ffb1b1"/><stop offset="0.6543" stop-color="#ffb1b1"/><stop offset="0.6544" stop-color="#ff9d9d"/><stop offset="0.6611" stop-color="#ff9d9d"/><stop offset="0.6611" stop-color="#ff9d9d"/><stop offset="0.6638" stop-color="#ff9d9d"/><stop offset="0.6638" stop-color="#ff9e9e"/><stop offset="0.6670" stop-color="#ff9e9e"/><stop offset="0.6671" stop-color="#ffa5a5"/><stop offset="0.6708" stop-color="#ffa5a5"/><stop offset="0.6709" stop-color="#ffb2b2"/><stop offset="0.6768" stop-color="#ffb2b2"/><stop offset="0.6769" stop-color="#ff9d9d"/><stop offset="0.6796" stop-color="#ff9d9d"/><stop offset="0.6797" stop-color="#ff9d9d"/><stop offset="0.6845" stop-color="#ff9d9d"/><stop offset="0.6846" stop-color="#ff9f9f"/><stop offset="0.6916" stop-color="#ff9f9f"/><stop offset="0.6917" stop-color="#ffaeae"/><stop offset="0.6983" stop-color="#ffaeae"/><stop offset="0.6984" stop-color="#ffa7a7"/><stop offset="0.7051" stop-color="#ffa7a7"/><stop offset="0.7052" stop-color="#ffacac"/><stop offset="0.7111" stop-color="#ffacac"/><stop offset="0.7112" stop-color="#ffb4b4"/><stop offset="0.7169" stop-color="#ffb4b4"/><stop offset="0.7170" stop-color="#ffb7b7"/><stop offset="0.7191" stop-color="#ffb7b7"/><stop offset="0.7192" stop-color="#ffd0d0"/><stop offset="0.7255" stop-color="#ffd0d0"/><stop offset="0.7256" stop-color="#ffc2c2"/><stop offset="0.7283" stop-color="#ffc2c2"/><stop offset="0.7284" stop-color="#ffd0d0"/><stop offset="0.7340" stop-color="#ffd0d0"/><stop offset="0.7340" stop-color="#ffe1e1"/><stop offset="0.7372" stop-color="#ffe1e1"/><stop offset="0.7372" stop-color="#ffd8d8"/><stop offset="0.7423" stop-color="#ffd8d8"/><stop offset="0.7423" stop-color="#ffd7d7"/><stop offset="0.7472" stop-color="#ffd7d7"/><stop offset="0.7473" stop-color="#ffe2e2"/><stop offset="0.7522" stop-color="#ffe2e2"/><stop offset="0.7522" stop-color="#ffe7e7"/><stop offset="0.7564" stop-color="#ffe7e7"/><stop offset="0.7564" stop-color="#ffeded"/><stop offset="0.7607" stop-color="#ffeded"/><stop offset="0.7608" stop-color="#fff5f5"/><stop offset="0.7670" stop-color="#fff5f5"/><stop offset="0.7671" stop-color="#fffdfd"/><stop offset="0.7699" stop-color="#fffdfd"/><stop offset="0.7699" stop-color="#ffffff"/><stop offset="1.0000" stop-color="#ffffff"/></linearGradient><linearGradient id="gb3" gradientUnits="userSpaceOnUse" x1="728.7" y1="0" x2="1139.9" y2="0"><stop offset="0.0000" stop-color="#ffffff"/><stop offset="0.2252" stop-color="#ffffff"/><stop offset="0.2252" stop-color="#fffcfc"/><stop offset="0.2296" stop-color="#fffcfc"/><stop offset="0.2297" stop-color="#fff4f4"/><stop offset="0.2369" stop-color="#fff4f4"/><stop offset="0.2370" stop-color="#fff2f2"/><stop offset="0.2418" stop-color="#fff2f2"/><stop offset="0.2419" stop-color="#ffeded"/><stop offset="0.2441" stop-color="#ffeded"/><stop offset="0.2442" stop-color="#ffe5e5"/><stop offset="0.2473" stop-color="#ffe5e5"/><stop offset="0.2474" stop-color="#ffe1e1"/><stop offset="0.2494" stop-color="#ffe1e1"/><stop offset="0.2494" stop-color="#ffe7e7"/><stop offset="0.2531" stop-color="#ffe7e7"/><stop offset="0.2532" stop-color="#ffdbdb"/><stop offset="0.2561" stop-color="#ffdbdb"/><stop offset="0.2562" stop-color="#ffe0e0"/><stop offset="0.2619" stop-color="#ffe0e0"/><stop offset="0.2620" stop-color="#ffd0d0"/><stop offset="0.2661" stop-color="#ffd0d0"/><stop offset="0.2662" stop-color="#ffd0d0"/><stop offset="0.2698" stop-color="#ffd0d0"/><stop offset="0.2699" stop-color="#ffcfcf"/><stop offset="0.2740" stop-color="#ffcfcf"/><stop offset="0.2741" stop-color="#ffcaca"/><stop offset="0.2802" stop-color="#ffcaca"/><stop offset="0.2802" stop-color="#ffd1d1"/><stop offset="0.2823" stop-color="#ffd1d1"/><stop offset="0.2823" stop-color="#ffcaca"/><stop offset="0.2885" stop-color="#ffcaca"/><stop offset="0.2885" stop-color="#ffc5c5"/><stop offset="0.2926" stop-color="#ffc5c5"/><stop offset="0.2927" stop-color="#ffc0c0"/><stop offset="0.2981" stop-color="#ffc0c0"/><stop offset="0.2981" stop-color="#ffc6c6"/><stop offset="0.3027" stop-color="#ffc6c6"/><stop offset="0.3028" stop-color="#ffbcbc"/><stop offset="0.3100" stop-color="#ffbcbc"/><stop offset="0.3100" stop-color="#ffbaba"/><stop offset="0.3160" stop-color="#ffbaba"/><stop offset="0.3160" stop-color="#ffc6c6"/><stop offset="0.3208" stop-color="#ffc6c6"/><stop offset="0.3208" stop-color="#ffb3b3"/><stop offset="0.3249" stop-color="#ffb3b3"/><stop offset="0.3250" stop-color="#ffb4b4"/><stop offset="0.3291" stop-color="#ffb4b4"/><stop offset="0.3291" stop-color="#ffbaba"/><stop offset="0.3319" stop-color="#ffbaba"/><stop offset="0.3320" stop-color="#ffc8c8"/><stop offset="0.3390" stop-color="#ffc8c8"/><stop offset="0.3390" stop-color="#ffaaaa"/><stop offset="0.3441" stop-color="#ffaaaa"/><stop offset="0.3441" stop-color="#ffa5a5"/><stop offset="0.3481" stop-color="#ffa5a5"/><stop offset="0.3481" stop-color="#ffa8a8"/><stop offset="0.3545" stop-color="#ffa8a8"/><stop offset="0.3545" stop-color="#ffabab"/><stop offset="0.3617" stop-color="#ffabab"/><stop offset="0.3618" stop-color="#ffa3a3"/><stop offset="0.3657" stop-color="#ffa3a3"/><stop offset="0.3658" stop-color="#ffa1a1"/><stop offset="0.3683" stop-color="#ffa1a1"/><stop offset="0.3683" stop-color="#ffa0a0"/><stop offset="0.3751" stop-color="#ffa0a0"/><stop offset="0.3752" stop-color="#ffb5b5"/><stop offset="0.3798" stop-color="#ffb5b5"/><stop offset="0.3798" stop-color="#ffa5a5"/><stop offset="0.3867" stop-color="#ffa5a5"/><stop offset="0.3868" stop-color="#ffa1a1"/><stop offset="0.3895" stop-color="#ffa1a1"/><stop offset="0.3896" stop-color="#ffa3a3"/><stop offset="0.3932" stop-color="#ffa3a3"/><stop offset="0.3933" stop-color="#ffa0a0"/><stop offset="0.3962" stop-color="#ffa0a0"/><stop offset="0.3963" stop-color="#ffa0a0"/><stop offset="0.4034" stop-color="#ffa0a0"/><stop offset="0.4034" stop-color="#ff9f9f"/><stop offset="0.4067" stop-color="#ff9f9f"/><stop offset="0.4067" stop-color="#ffaeae"/><stop offset="0.4123" stop-color="#ffaeae"/><stop offset="0.4123" stop-color="#ffa2a2"/><stop offset="0.4169" stop-color="#ffa2a2"/><stop offset="0.4169" stop-color="#ff9d9d"/><stop offset="0.4233" stop-color="#ff9d9d"/><stop offset="0.4233" stop-color="#ff9d9d"/><stop offset="0.4300" stop-color="#ff9d9d"/><stop offset="0.4300" stop-color="#ff9b9b"/><stop offset="0.4365" stop-color="#ff9b9b"/><stop offset="0.4365" stop-color="#ff9898"/><stop offset="0.4417" stop-color="#ff9898"/><stop offset="0.4417" stop-color="#ffb3b3"/><stop offset="0.4463" stop-color="#ffb3b3"/><stop offset="0.4463" stop-color="#ff9b9b"/><stop offset="0.4501" stop-color="#ff9b9b"/><stop offset="0.4502" stop-color="#ffaaaa"/><stop offset="0.4566" stop-color="#ffaaaa"/><stop offset="0.4566" stop-color="#ff9a9a"/><stop offset="0.4611" stop-color="#ff9a9a"/><stop offset="0.4611" stop-color="#ff9999"/><stop offset="0.4805" stop-color="#ffb2b2"/><stop offset="0.4891" stop-color="#ffe6e6"/><stop offset="0.4894" stop-color="#ffffff"/><stop offset="0.4915" stop-color="#5c5cff"/><stop offset="0.5000" stop-color="#5c5cff"/><stop offset="0.5085" stop-color="#5c5cff"/><stop offset="0.5106" stop-color="#ffffff"/><stop offset="0.5109" stop-color="#ffe6e6"/><stop offset="0.5195" stop-color="#ffb2b2"/><stop offset="0.5389" stop-color="#ff9999"/><stop offset="0.5389" stop-color="#ff9f9f"/><stop offset="0.5459" stop-color="#ff9f9f"/><stop offset="0.5459" stop-color="#ff9a9a"/><stop offset="0.5507" stop-color="#ff9a9a"/><stop offset="0.5508" stop-color="#ff9b9b"/><stop offset="0.5566" stop-color="#ff9b9b"/><stop offset="0.5567" stop-color="#ffa4a4"/><stop offset="0.5597" stop-color="#ffa4a4"/><stop offset="0.5598" stop-color="#ffa5a5"/><stop offset="0.5650" stop-color="#ffa5a5"/><stop offset="0.5650" stop-color="#ff9e9e"/><stop offset="0.5700" stop-color="#ff9e9e"/><stop offset="0.5700" stop-color="#ffabab"/><stop offset="0.5735" stop-color="#ffabab"/><stop offset="0.5736" stop-color="#ffa4a4"/><stop offset="0.5798" stop-color="#ffa4a4"/><stop offset="0.5798" stop-color="#ffacac"/><stop offset="0.5825" stop-color="#ffacac"/><stop offset="0.5825" stop-color="#ff9b9b"/><stop offset="0.5872" stop-color="#ff9b9b"/><stop offset="0.5872" stop-color="#ff9d9d"/><stop offset="0.5909" stop-color="#ff9d9d"/><stop offset="0.5910" stop-color="#ffa7a7"/><stop offset="0.5965" stop-color="#ffa7a7"/><stop offset="0.5966" stop-color="#ff9d9d"/><stop offset="0.6028" stop-color="#ff9d9d"/><stop offset="0.6029" stop-color="#ffbfbf"/><stop offset="0.6079" stop-color="#ffbfbf"/><stop offset="0.6080" stop-color="#ffa7a7"/><stop offset="0.6136" stop-color="#ffa7a7"/><stop offset="0.6136" stop-color="#ffacac"/><stop offset="0.6193" stop-color="#ffacac"/><stop offset="0.6194" stop-color="#ffa6a6"/><stop offset="0.6263" stop-color="#ffa6a6"/><stop offset="0.6264" stop-color="#ffb0b0"/><stop offset="0.6333" stop-color="#ffb0b0"/><stop offset="0.6334" stop-color="#ffa4a4"/><stop offset="0.6358" stop-color="#ffa4a4"/><stop offset="0.6358" stop-color="#ffa4a4"/><stop offset="0.6427" stop-color="#ffa4a4"/><stop offset="0.6428" stop-color="#ffa4a4"/><stop offset="0.6451" stop-color="#ffa4a4"/><stop offset="0.6451" stop-color="#ffa5a5"/><stop offset="0.6471" stop-color="#ffa5a5"/><stop offset="0.6472" stop-color="#ffabab"/><stop offset="0.6542" stop-color="#ffabab"/><stop offset="0.6543" stop-color="#ffb0b0"/><stop offset="0.6611" stop-color="#ffb0b0"/><stop offset="0.6612" stop-color="#ffb6b6"/><stop offset="0.6633" stop-color="#ffb6b6"/><stop offset="0.6633" stop-color="#ffb4b4"/><stop offset="0.6666" stop-color="#ffb4b4"/><stop offset="0.6667" stop-color="#ffb0b0"/><stop offset="0.6702" stop-color="#ffb0b0"/><stop offset="0.6703" stop-color="#ffb2b2"/><stop offset="0.6730" stop-color="#ffb2b2"/><stop offset="0.6730" stop-color="#ffb2b2"/><stop offset="0.6796" stop-color="#ffb2b2"/><stop offset="0.6796" stop-color="#ffb5b5"/><stop offset="0.6823" stop-color="#ffb5b5"/><stop offset="0.6823" stop-color="#ffb9b9"/><stop offset="0.6851" stop-color="#ffb9b9"/><stop offset="0.6851" stop-color="#ffc8c8"/><stop offset="0.6883" stop-color="#ffc8c8"/><stop offset="0.6883" stop-color="#ffbcbc"/><stop offset="0.6920" stop-color="#ffbcbc"/><stop offset="0.6921" stop-color="#ffbebe"/><stop offset="0.6969" stop-color="#ffbebe"/><stop offset="0.6969" stop-color="#ffcbcb"/><stop offset="0.7013" stop-color="#ffcbcb"/><stop offset="0.7013" stop-color="#ffc3c3"/><stop offset="0.7039" stop-color="#ffc3c3"/><stop offset="0.7039" stop-color="#ffc1c1"/><stop offset="0.7070" stop-color="#ffc1c1"/><stop offset="0.7071" stop-color="#ffcfcf"/><stop offset="0.7133" stop-color="#ffcfcf"/><stop offset="0.7134" stop-color="#ffc7c7"/><stop offset="0.7172" stop-color="#ffc7c7"/><stop offset="0.7172" stop-color="#ffcaca"/><stop offset="0.7244" stop-color="#ffcaca"/><stop offset="0.7244" stop-color="#ffcdcd"/><stop offset="0.7282" stop-color="#ffcdcd"/><stop offset="0.7282" stop-color="#ffd0d0"/><stop offset="0.7314" stop-color="#ffd0d0"/><stop offset="0.7314" stop-color="#ffd2d2"/><stop offset="0.7353" stop-color="#ffd2d2"/><stop offset="0.7353" stop-color="#ffd0d0"/><stop offset="0.7376" stop-color="#ffd0d0"/><stop offset="0.7377" stop-color="#ffd4d4"/><stop offset="0.7440" stop-color="#ffd4d4"/><stop offset="0.7441" stop-color="#ffdcdc"/><stop offset="0.7513" stop-color="#ffdcdc"/><stop offset="0.7514" stop-color="#ffeded"/><stop offset="0.7567" stop-color="#ffeded"/><stop offset="0.7567" stop-color="#ffe9e9"/><stop offset="0.7587" stop-color="#ffe9e9"/><stop offset="0.7587" stop-color="#fff0f0"/><stop offset="0.7629" stop-color="#fff0f0"/><stop offset="0.7629" stop-color="#fff5f5"/><stop offset="0.7653" stop-color="#fff5f5"/><stop offset="0.7654" stop-color="#fff7f7"/><stop offset="0.7706" stop-color="#fff7f7"/><stop offset="0.7706" stop-color="#fffcfc"/><stop offset="0.7748" stop-color="#fffcfc"/><stop offset="0.7748" stop-color="#ffffff"/><stop offset="1.0000" stop-color="#ffffff"/></linearGradient><linearGradient id="gb4" gradientUnits="userSpaceOnUse" x1="728.7" y1="0" x2="1139.9" y2="0"><stop offset="0.0000" stop-color="#ffffff"/><stop offset="0.2203" stop-color="#ffffff"/><stop offset="0.2204" stop-color="#fffdfd"/><stop offset="0.2241" stop-color="#fffdfd"/><stop offset="0.2242" stop-color="#fffafa"/><stop offset="0.2283" stop-color="#fffafa"/><stop offset="0.2284" stop-color="#fff2f2"/><stop offset="0.2346" stop-color="#fff2f2"/><stop offset="0.2346" stop-color="#ffeded"/><stop offset="0.2381" stop-color="#ffeded"/><stop offset="0.2381" stop-color="#ffe9e9"/><stop offset="0.2438" stop-color="#ffe9e9"/><stop offset="0.2439" stop-color="#ffe4e4"/><stop offset="0.2479" stop-color="#ffe4e4"/><stop offset="0.2479" stop-color="#ffdddd"/><stop offset="0.2525" stop-color="#ffdddd"/><stop offset="0.2525" stop-color="#ffdada"/><stop offset="0.2567" stop-color="#ffdada"/><stop offset="0.2567" stop-color="#ffd6d6"/><stop offset="0.2631" stop-color="#ffd6d6"/><stop offset="0.2632" stop-color="#ffd1d1"/><stop offset="0.2660" stop-color="#ffd1d1"/><stop offset="0.2660" stop-color="#ffd0d0"/><stop offset="0.2688" stop-color="#ffd0d0"/><stop offset="0.2689" stop-color="#ffd1d1"/><stop offset="0.2724" stop-color="#ffd1d1"/><stop offset="0.2725" stop-color="#ffcdcd"/><stop offset="0.2756" stop-color="#ffcdcd"/><stop offset="0.2757" stop-color="#ffd4d4"/><stop offset="0.2798" stop-color="#ffd4d4"/><stop offset="0.2799" stop-color="#ffcbcb"/><stop offset="0.2831" stop-color="#ffcbcb"/><stop offset="0.2832" stop-color="#ffd8d8"/><stop offset="0.2867" stop-color="#ffd8d8"/><stop offset="0.2867" stop-color="#ffc8c8"/><stop offset="0.2905" stop-color="#ffc8c8"/><stop offset="0.2906" stop-color="#ffd2d2"/><stop offset="0.2957" stop-color="#ffd2d2"/><stop offset="0.2958" stop-color="#ffc3c3"/><stop offset="0.2987" stop-color="#ffc3c3"/><stop offset="0.2987" stop-color="#ffc5c5"/><stop offset="0.3036" stop-color="#ffc5c5"/><stop offset="0.3036" stop-color="#ffc2c2"/><stop offset="0.3056" stop-color="#ffc2c2"/><stop offset="0.3056" stop-color="#ffbdbd"/><stop offset="0.3081" stop-color="#ffbdbd"/><stop offset="0.3081" stop-color="#ffbebe"/><stop offset="0.3125" stop-color="#ffbebe"/><stop offset="0.3125" stop-color="#ffbcbc"/><stop offset="0.3162" stop-color="#ffbcbc"/><stop offset="0.3163" stop-color="#ffb8b8"/><stop offset="0.3211" stop-color="#ffb8b8"/><stop offset="0.3212" stop-color="#ffb5b5"/><stop offset="0.3272" stop-color="#ffb5b5"/><stop offset="0.3272" stop-color="#ffb3b3"/><stop offset="0.3326" stop-color="#ffb3b3"/><stop offset="0.3326" stop-color="#ffb2b2"/><stop offset="0.3351" stop-color="#ffb2b2"/><stop offset="0.3352" stop-color="#ffb3b3"/><stop offset="0.3390" stop-color="#ffb3b3"/><stop offset="0.3390" stop-color="#ffafaf"/><stop offset="0.3445" stop-color="#ffafaf"/><stop offset="0.3446" stop-color="#ffacac"/><stop offset="0.3504" stop-color="#ffacac"/><stop offset="0.3505" stop-color="#ffacac"/><stop offset="0.3544" stop-color="#ffacac"/><stop offset="0.3545" stop-color="#ffa9a9"/><stop offset="0.3584" stop-color="#ffa9a9"/><stop offset="0.3585" stop-color="#ffb0b0"/><stop offset="0.3625" stop-color="#ffb0b0"/><stop offset="0.3625" stop-color="#ffb0b0"/><stop offset="0.3675" stop-color="#ffb0b0"/><stop offset="0.3676" stop-color="#ffa8a8"/><stop offset="0.3701" stop-color="#ffa8a8"/><stop offset="0.3701" stop-color="#ffa6a6"/><stop offset="0.3736" stop-color="#ffa6a6"/><stop offset="0.3736" stop-color="#ffbebe"/><stop offset="0.3809" stop-color="#ffbebe"/><stop offset="0.3809" stop-color="#ffabab"/><stop offset="0.3850" stop-color="#ffabab"/><stop offset="0.3850" stop-color="#ffbcbc"/><stop offset="0.3919" stop-color="#ffbcbc"/><stop offset="0.3919" stop-color="#ffa3a3"/><stop offset="0.3949" stop-color="#ffa3a3"/><stop offset="0.3950" stop-color="#ffa7a7"/><stop offset="0.3985" stop-color="#ffa7a7"/><stop offset="0.3985" stop-color="#ffa5a5"/><stop offset="0.4024" stop-color="#ffa5a5"/><stop offset="0.4024" stop-color="#ffa0a0"/><stop offset="0.4080" stop-color="#ffa0a0"/><stop offset="0.4081" stop-color="#ffa1a1"/><stop offset="0.4111" stop-color="#ffa1a1"/><stop offset="0.4112" stop-color="#ffb1b1"/><stop offset="0.4171" stop-color="#ffb1b1"/><stop offset="0.4171" stop-color="#ffa2a2"/><stop offset="0.4228" stop-color="#ffa2a2"/><stop offset="0.4228" stop-color="#ffa5a5"/><stop offset="0.4255" stop-color="#ffa5a5"/><stop offset="0.4255" stop-color="#ff9e9e"/><stop offset="0.4278" stop-color="#ff9e9e"/><stop offset="0.4279" stop-color="#ffa7a7"/><stop offset="0.4309" stop-color="#ffa7a7"/><stop offset="0.4309" stop-color="#ffa7a7"/><stop offset="0.4361" stop-color="#ffa7a7"/><stop offset="0.4362" stop-color="#ff9b9b"/><stop offset="0.4421" stop-color="#ff9b9b"/><stop offset="0.4421" stop-color="#ffb5b5"/><stop offset="0.4460" stop-color="#ffb5b5"/><stop offset="0.4461" stop-color="#ff9999"/><stop offset="0.4515" stop-color="#ff9999"/><stop offset="0.4516" stop-color="#ff9e9e"/><stop offset="0.4546" stop-color="#ff9e9e"/><stop offset="0.4547" stop-color="#ffafaf"/><stop offset="0.4573" stop-color="#ffafaf"/><stop offset="0.4574" stop-color="#ffaaaa"/><stop offset="0.4625" stop-color="#ffaaaa"/><stop offset="0.4626" stop-color="#ff9e9e"/><stop offset="0.4662" stop-color="#ff9e9e"/><stop offset="0.4663" stop-color="#ffa5a5"/><stop offset="0.4711" stop-color="#ffa5a5"/><stop offset="0.4712" stop-color="#ff9a9a"/><stop offset="0.4769" stop-color="#ff9a9a"/><stop offset="0.4769" stop-color="#ffa7a7"/><stop offset="0.4805" stop-color="#ffa7a7"/><stop offset="0.4805" stop-color="#ff9999"/><stop offset="0.4891" stop-color="#ffcccc"/><stop offset="0.4896" stop-color="#ffffff"/><stop offset="0.4915" stop-color="#5c5cff"/><stop offset="0.5000" stop-color="#5c5cff"/><stop offset="0.5085" stop-color="#5c5cff"/><stop offset="0.5104" stop-color="#ffffff"/><stop offset="0.5109" stop-color="#ffcccc"/><stop offset="0.5195" stop-color="#ff9999"/><stop offset="0.5195" stop-color="#ff9898"/><stop offset="0.5262" stop-color="#ff9898"/><stop offset="0.5263" stop-color="#ffbaba"/><stop offset="0.5331" stop-color="#ffbaba"/><stop offset="0.5331" stop-color="#ff9f9f"/><stop offset="0.5382" stop-color="#ff9f9f"/><stop offset="0.5383" stop-color="#ffacac"/><stop offset="0.5418" stop-color="#ffacac"/><stop offset="0.5419" stop-color="#ff9898"/><stop offset="0.5473" stop-color="#ff9898"/><stop offset="0.5474" stop-color="#ffa9a9"/><stop offset="0.5515" stop-color="#ffa9a9"/><stop offset="0.5516" stop-color="#ff9999"/><stop offset="0.5568" stop-color="#ff9999"/><stop offset="0.5568" stop-color="#ff9c9c"/><stop offset="0.5631" stop-color="#ff9c9c"/><stop offset="0.5632" stop-color="#ffb4b4"/><stop offset="0.5665" stop-color="#ffb4b4"/><stop offset="0.5665" stop-color="#ffa1a1"/><stop offset="0.5702" stop-color="#ffa1a1"/><stop offset="0.5702" stop-color="#ffa0a0"/><stop offset="0.5731" stop-color="#ffa0a0"/><stop offset="0.5732" stop-color="#ffa2a2"/><stop offset="0.5783" stop-color="#ffa2a2"/><stop offset="0.5783" stop-color="#ff9f9f"/><stop offset="0.5840" stop-color="#ff9f9f"/><stop offset="0.5840" stop-color="#ffa1a1"/><stop offset="0.5906" stop-color="#ffa1a1"/><stop offset="0.5906" stop-color="#ffc0c0"/><stop offset="0.5940" stop-color="#ffc0c0"/><stop offset="0.5941" stop-color="#ffa5a5"/><stop offset="0.5967" stop-color="#ffa5a5"/><stop offset="0.5968" stop-color="#ffabab"/><stop offset="0.5993" stop-color="#ffabab"/><stop offset="0.5993" stop-color="#ffa7a7"/><stop offset="0.6063" stop-color="#ffa7a7"/><stop offset="0.6063" stop-color="#ffbfbf"/><stop offset="0.6111" stop-color="#ffbfbf"/><stop offset="0.6111" stop-color="#ffb4b4"/><stop offset="0.6157" stop-color="#ffb4b4"/><stop offset="0.6157" stop-color="#ffaaaa"/><stop offset="0.6195" stop-color="#ffaaaa"/><stop offset="0.6196" stop-color="#ffa8a8"/><stop offset="0.6260" stop-color="#ffa8a8"/><stop offset="0.6260" stop-color="#ffa9a9"/><stop offset="0.6317" stop-color="#ffa9a9"/><stop offset="0.6317" stop-color="#ffa8a8"/><stop offset="0.6346" stop-color="#ffa8a8"/><stop offset="0.6347" stop-color="#ffa8a8"/><stop offset="0.6389" stop-color="#ffa8a8"/><stop offset="0.6390" stop-color="#ffbebe"/><stop offset="0.6447" stop-color="#ffbebe"/><stop offset="0.6447" stop-color="#ffc0c0"/><stop offset="0.6509" stop-color="#ffc0c0"/><stop offset="0.6509" stop-color="#ffacac"/><stop offset="0.6560" stop-color="#ffacac"/><stop offset="0.6561" stop-color="#ffc6c6"/><stop offset="0.6626" stop-color="#ffc6c6"/><stop offset="0.6627" stop-color="#ffb1b1"/><stop offset="0.6656" stop-color="#ffb1b1"/><stop offset="0.6657" stop-color="#ffb4b4"/><stop offset="0.6700" stop-color="#ffb4b4"/><stop offset="0.6700" stop-color="#ffb4b4"/><stop offset="0.6732" stop-color="#ffb4b4"/><stop offset="0.6733" stop-color="#ffb8b8"/><stop offset="0.6759" stop-color="#ffb8b8"/><stop offset="0.6760" stop-color="#ffb9b9"/><stop offset="0.6803" stop-color="#ffb9b9"/><stop offset="0.6803" stop-color="#ffcccc"/><stop offset="0.6872" stop-color="#ffcccc"/><stop offset="0.6873" stop-color="#ffc8c8"/><stop offset="0.6900" stop-color="#ffc8c8"/><stop offset="0.6900" stop-color="#ffc6c6"/><stop offset="0.6961" stop-color="#ffc6c6"/><stop offset="0.6962" stop-color="#ffc2c2"/><stop offset="0.6996" stop-color="#ffc2c2"/><stop offset="0.6996" stop-color="#ffc2c2"/><stop offset="0.7042" stop-color="#ffc2c2"/><stop offset="0.7043" stop-color="#ffc4c4"/><stop offset="0.7071" stop-color="#ffc4c4"/><stop offset="0.7072" stop-color="#ffc6c6"/><stop offset="0.7097" stop-color="#ffc6c6"/><stop offset="0.7098" stop-color="#ffc8c8"/><stop offset="0.7163" stop-color="#ffc8c8"/><stop offset="0.7163" stop-color="#ffcbcb"/><stop offset="0.7214" stop-color="#ffcbcb"/><stop offset="0.7214" stop-color="#ffdbdb"/><stop offset="0.7248" stop-color="#ffdbdb"/><stop offset="0.7249" stop-color="#ffcece"/><stop offset="0.7276" stop-color="#ffcece"/><stop offset="0.7277" stop-color="#ffd5d5"/><stop offset="0.7347" stop-color="#ffd5d5"/><stop offset="0.7348" stop-color="#ffd3d3"/><stop offset="0.7409" stop-color="#ffd3d3"/><stop offset="0.7410" stop-color="#ffd9d9"/><stop offset="0.7447" stop-color="#ffd9d9"/><stop offset="0.7448" stop-color="#ffdada"/><stop offset="0.7513" stop-color="#ffdada"/><stop offset="0.7513" stop-color="#ffe3e3"/><stop offset="0.7545" stop-color="#ffe3e3"/><stop offset="0.7546" stop-color="#ffe8e8"/><stop offset="0.7600" stop-color="#ffe8e8"/><stop offset="0.7600" stop-color="#ffecec"/><stop offset="0.7636" stop-color="#ffecec"/><stop offset="0.7637" stop-color="#ffeeee"/><stop offset="0.7666" stop-color="#ffeeee"/><stop offset="0.7666" stop-color="#fff2f2"/><stop offset="0.7699" stop-color="#fff2f2"/><stop offset="0.7699" stop-color="#fff7f7"/><stop offset="0.7731" stop-color="#fff7f7"/><stop offset="0.7731" stop-color="#fffafa"/><stop offset="0.7761" stop-color="#fffafa"/><stop offset="0.7762" stop-color="#fffdfd"/><stop offset="0.7796" stop-color="#fffdfd"/><stop offset="0.7797" stop-color="#ffffff"/><stop offset="1.0000" stop-color="#ffffff"/></linearGradient><linearGradient id="gb5" gradientUnits="userSpaceOnUse" x1="728.7" y1="0" x2="1139.9" y2="0"><stop offset="0.0000" stop-color="#ffffff"/><stop offset="0.1839" stop-color="#ffffff"/><stop offset="0.1839" stop-color="#fffdfd"/><stop offset="0.1891" stop-color="#fffdfd"/><stop offset="0.1891" stop-color="#fff7f7"/><stop offset="0.1927" stop-color="#fff7f7"/><stop offset="0.1928" stop-color="#fff5f5"/><stop offset="0.1989" stop-color="#fff5f5"/><stop offset="0.1990" stop-color="#ffebeb"/><stop offset="0.2059" stop-color="#ffebeb"/><stop offset="0.2059" stop-color="#ffe7e7"/><stop offset="0.2095" stop-color="#ffe7e7"/><stop offset="0.2095" stop-color="#ffe0e0"/><stop offset="0.2161" stop-color="#ffe0e0"/><stop offset="0.2162" stop-color="#ffdbdb"/><stop offset="0.2230" stop-color="#ffdbdb"/><stop offset="0.2231" stop-color="#ffd3d3"/><stop offset="0.2283" stop-color="#ffd3d3"/><stop offset="0.2283" stop-color="#ffcdcd"/><stop offset="0.2319" stop-color="#ffcdcd"/><stop offset="0.2320" stop-color="#ffcbcb"/><stop offset="0.2364" stop-color="#ffcbcb"/><stop offset="0.2365" stop-color="#ffc9c9"/><stop offset="0.2389" stop-color="#ffc9c9"/><stop offset="0.2389" stop-color="#ffc7c7"/><stop offset="0.2408" stop-color="#ffc7c7"/><stop offset="0.2409" stop-color="#ffc3c3"/><stop offset="0.2451" stop-color="#ffc3c3"/><stop offset="0.2452" stop-color="#ffc2c2"/><stop offset="0.2519" stop-color="#ffc2c2"/><stop offset="0.2520" stop-color="#ffbebe"/><stop offset="0.2571" stop-color="#ffbebe"/><stop offset="0.2571" stop-color="#ffc4c4"/><stop offset="0.2639" stop-color="#ffc4c4"/><stop offset="0.2640" stop-color="#ffbbbb"/><stop offset="0.2712" stop-color="#ffbbbb"/><stop offset="0.2713" stop-color="#ffb6b6"/><stop offset="0.2770" stop-color="#ffb6b6"/><stop offset="0.2771" stop-color="#ffb5b5"/><stop offset="0.2793" stop-color="#ffb5b5"/><stop offset="0.2794" stop-color="#ffb5b5"/><stop offset="0.2817" stop-color="#ffb5b5"/><stop offset="0.2817" stop-color="#ffb9b9"/><stop offset="0.2861" stop-color="#ffb9b9"/><stop offset="0.2861" stop-color="#ffb1b1"/><stop offset="0.2883" stop-color="#ffb1b1"/><stop offset="0.2883" stop-color="#ffafaf"/><stop offset="0.2922" stop-color="#ffafaf"/><stop offset="0.2923" stop-color="#ffbaba"/><stop offset="0.2945" stop-color="#ffbaba"/><stop offset="0.2945" stop-color="#ffadad"/><stop offset="0.2989" stop-color="#ffadad"/><stop offset="0.2989" stop-color="#ffb7b7"/><stop offset="0.3035" stop-color="#ffb7b7"/><stop offset="0.3035" stop-color="#ffa9a9"/><stop offset="0.3089" stop-color="#ffa9a9"/><stop offset="0.3089" stop-color="#ffaaaa"/><stop offset="0.3127" stop-color="#ffaaaa"/><stop offset="0.3127" stop-color="#ffa6a6"/><stop offset="0.3177" stop-color="#ffa6a6"/><stop offset="0.3177" stop-color="#ffa6a6"/><stop offset="0.3211" stop-color="#ffa6a6"/><stop offset="0.3212" stop-color="#ffabab"/><stop offset="0.3251" stop-color="#ffabab"/><stop offset="0.3251" stop-color="#ffafaf"/><stop offset="0.3302" stop-color="#ffafaf"/><stop offset="0.3303" stop-color="#ffa7a7"/><stop offset="0.3325" stop-color="#ffa7a7"/><stop offset="0.3325" stop-color="#ff9b9b"/><stop offset="0.3378" stop-color="#ff9b9b"/><stop offset="0.3379" stop-color="#ff9d9d"/><stop offset="0.3399" stop-color="#ff9d9d"/><stop offset="0.3399" stop-color="#ff9d9d"/><stop offset="0.3453" stop-color="#ff9d9d"/><stop offset="0.3453" stop-color="#ffacac"/><stop offset="0.3524" stop-color="#ffacac"/><stop offset="0.3525" stop-color="#ffa8a8"/><stop offset="0.3544" stop-color="#ffa8a8"/><stop offset="0.3544" stop-color="#ff9696"/><stop offset="0.3583" stop-color="#ff9696"/><stop offset="0.3584" stop-color="#ff9494"/><stop offset="0.3626" stop-color="#ff9494"/><stop offset="0.3627" stop-color="#ff9797"/><stop offset="0.3676" stop-color="#ff9797"/><stop offset="0.3677" stop-color="#ff9e9e"/><stop offset="0.3708" stop-color="#ff9e9e"/><stop offset="0.3708" stop-color="#ff9090"/><stop offset="0.3776" stop-color="#ff9090"/><stop offset="0.3776" stop-color="#ff8d8d"/><stop offset="0.3810" stop-color="#ff8d8d"/><stop offset="0.3810" stop-color="#ff8f8f"/><stop offset="0.3873" stop-color="#ff8f8f"/><stop offset="0.3873" stop-color="#ff8c8c"/><stop offset="0.3923" stop-color="#ff8c8c"/><stop offset="0.3923" stop-color="#ff9e9e"/><stop offset="0.3988" stop-color="#ff9e9e"/><stop offset="0.3989" stop-color="#ff8888"/><stop offset="0.4060" stop-color="#ff8888"/><stop offset="0.4061" stop-color="#ff8989"/><stop offset="0.4128" stop-color="#ff8989"/><stop offset="0.4129" stop-color="#ff8888"/><stop offset="0.4157" stop-color="#ff8888"/><stop offset="0.4157" stop-color="#ff8585"/><stop offset="0.4201" stop-color="#ff8585"/><stop offset="0.4202" stop-color="#ff8181"/><stop offset="0.4241" stop-color="#ff8181"/><stop offset="0.4242" stop-color="#ff8f8f"/><stop offset="0.4281" stop-color="#ff8f8f"/><stop offset="0.4281" stop-color="#ff8282"/><stop offset="0.4323" stop-color="#ff8282"/><stop offset="0.4323" stop-color="#ff8484"/><stop offset="0.4360" stop-color="#ff8484"/><stop offset="0.4361" stop-color="#ff8989"/><stop offset="0.4395" stop-color="#ff8989"/><stop offset="0.4396" stop-color="#ff8282"/><stop offset="0.4430" stop-color="#ff8282"/><stop offset="0.4431" stop-color="#ff8e8e"/><stop offset="0.4478" stop-color="#ff8e8e"/><stop offset="0.4478" stop-color="#ff9191"/><stop offset="0.4520" stop-color="#ff9191"/><stop offset="0.4521" stop-color="#ff7a7a"/><stop offset="0.4591" stop-color="#ff7a7a"/><stop offset="0.4592" stop-color="#ff7878"/><stop offset="0.4620" stop-color="#ff7878"/><stop offset="0.4620" stop-color="#ff8f8f"/><stop offset="0.4686" stop-color="#ff8f8f"/><stop offset="0.4686" stop-color="#ff8181"/><stop offset="0.4735" stop-color="#ff8181"/><stop offset="0.4735" stop-color="#ff7b7b"/><stop offset="0.4791" stop-color="#ff7b7b"/><stop offset="0.4792" stop-color="#ff7878"/><stop offset="0.4849" stop-color="#ff7878"/><stop offset="0.4850" stop-color="#ff7878"/><stop offset="0.4876" stop-color="#ff7878"/><stop offset="0.4877" stop-color="#ff7d7d"/><stop offset="0.4902" stop-color="#ff7d7d"/><stop offset="0.4903" stop-color="#ff7a7a"/><stop offset="0.4951" stop-color="#ffcccc"/><stop offset="0.5000" stop-color="#ffe6e6"/><stop offset="0.5049" stop-color="#ffcccc"/><stop offset="0.5097" stop-color="#ff7a7a"/><stop offset="0.5098" stop-color="#ff7b7b"/><stop offset="0.5153" stop-color="#ff7b7b"/><stop offset="0.5153" stop-color="#ff7878"/><stop offset="0.5198" stop-color="#ff7878"/><stop offset="0.5199" stop-color="#ff7b7b"/><stop offset="0.5220" stop-color="#ff7b7b"/><stop offset="0.5221" stop-color="#ff8e8e"/><stop offset="0.5240" stop-color="#ff8e8e"/><stop offset="0.5241" stop-color="#ff7676"/><stop offset="0.5283" stop-color="#ff7676"/><stop offset="0.5283" stop-color="#ff7777"/><stop offset="0.5319" stop-color="#ff7777"/><stop offset="0.5319" stop-color="#ff7777"/><stop offset="0.5340" stop-color="#ff7777"/><stop offset="0.5340" stop-color="#ff7878"/><stop offset="0.5407" stop-color="#ff7878"/><stop offset="0.5407" stop-color="#ff7a7a"/><stop offset="0.5428" stop-color="#ff7a7a"/><stop offset="0.5429" stop-color="#ff8181"/><stop offset="0.5488" stop-color="#ff8181"/><stop offset="0.5488" stop-color="#ff7e7e"/><stop offset="0.5559" stop-color="#ff7e7e"/><stop offset="0.5560" stop-color="#ff8181"/><stop offset="0.5605" stop-color="#ff8181"/><stop offset="0.5606" stop-color="#ff8e8e"/><stop offset="0.5668" stop-color="#ff8e8e"/><stop offset="0.5668" stop-color="#ff8e8e"/><stop offset="0.5734" stop-color="#ff8e8e"/><stop offset="0.5735" stop-color="#ff9999"/><stop offset="0.5774" stop-color="#ff9999"/><stop offset="0.5775" stop-color="#ff8686"/><stop offset="0.5847" stop-color="#ff8686"/><stop offset="0.5848" stop-color="#ff8a8a"/><stop offset="0.5905" stop-color="#ff8a8a"/><stop offset="0.5905" stop-color="#ff9d9d"/><stop offset="0.5949" stop-color="#ff9d9d"/><stop offset="0.5949" stop-color="#ff9f9f"/><stop offset="0.5990" stop-color="#ff9f9f"/><stop offset="0.5991" stop-color="#ff8b8b"/><stop offset="0.6037" stop-color="#ff8b8b"/><stop offset="0.6037" stop-color="#ff8b8b"/><stop offset="0.6070" stop-color="#ff8b8b"/><stop offset="0.6071" stop-color="#ff9595"/><stop offset="0.6119" stop-color="#ff9595"/><stop offset="0.6119" stop-color="#ff8d8d"/><stop offset="0.6176" stop-color="#ff8d8d"/><stop offset="0.6176" stop-color="#ffa3a3"/><stop offset="0.6246" stop-color="#ffa3a3"/><stop offset="0.6246" stop-color="#ff8f8f"/><stop offset="0.6279" stop-color="#ff8f8f"/><stop offset="0.6280" stop-color="#ff9292"/><stop offset="0.6320" stop-color="#ff9292"/><stop offset="0.6320" stop-color="#ff9393"/><stop offset="0.6353" stop-color="#ff9393"/><stop offset="0.6354" stop-color="#ff9393"/><stop offset="0.6417" stop-color="#ff9393"/><stop offset="0.6418" stop-color="#ff9595"/><stop offset="0.6466" stop-color="#ff9595"/><stop offset="0.6466" stop-color="#ff9b9b"/><stop offset="0.6518" stop-color="#ff9b9b"/><stop offset="0.6519" stop-color="#ffa4a4"/><stop offset="0.6568" stop-color="#ffa4a4"/><stop offset="0.6569" stop-color="#ff9c9c"/><stop offset="0.6600" stop-color="#ff9c9c"/><stop offset="0.6600" stop-color="#ffa4a4"/><stop offset="0.6655" stop-color="#ffa4a4"/><stop offset="0.6655" stop-color="#ffa7a7"/><stop offset="0.6716" stop-color="#ffa7a7"/><stop offset="0.6716" stop-color="#ffa1a1"/><stop offset="0.6770" stop-color="#ffa1a1"/><stop offset="0.6770" stop-color="#ffa5a5"/><stop offset="0.6814" stop-color="#ffa5a5"/><stop offset="0.6815" stop-color="#ffaaaa"/><stop offset="0.6852" stop-color="#ffaaaa"/><stop offset="0.6852" stop-color="#ffa8a8"/><stop offset="0.6906" stop-color="#ffa8a8"/><stop offset="0.6906" stop-color="#ffb4b4"/><stop offset="0.6945" stop-color="#ffb4b4"/><stop offset="0.6946" stop-color="#ffacac"/><stop offset="0.7001" stop-color="#ffacac"/><stop offset="0.7001" stop-color="#ffabab"/><stop offset="0.7024" stop-color="#ffabab"/><stop offset="0.7024" stop-color="#ffafaf"/><stop offset="0.7073" stop-color="#ffafaf"/><stop offset="0.7073" stop-color="#ffaeae"/><stop offset="0.7105" stop-color="#ffaeae"/><stop offset="0.7106" stop-color="#ffb3b3"/><stop offset="0.7125" stop-color="#ffb3b3"/><stop offset="0.7126" stop-color="#ffb2b2"/><stop offset="0.7194" stop-color="#ffb2b2"/><stop offset="0.7195" stop-color="#ffb4b4"/><stop offset="0.7242" stop-color="#ffb4b4"/><stop offset="0.7243" stop-color="#ffb8b8"/><stop offset="0.7275" stop-color="#ffb8b8"/><stop offset="0.7276" stop-color="#ffb7b7"/><stop offset="0.7310" stop-color="#ffb7b7"/><stop offset="0.7310" stop-color="#ffb9b9"/><stop offset="0.7330" stop-color="#ffb9b9"/><stop offset="0.7330" stop-color="#ffbaba"/><stop offset="0.7358" stop-color="#ffbaba"/><stop offset="0.7359" stop-color="#ffbcbc"/><stop offset="0.7410" stop-color="#ffbcbc"/><stop offset="0.7411" stop-color="#ffbebe"/><stop offset="0.7466" stop-color="#ffbebe"/><stop offset="0.7466" stop-color="#ffc2c2"/><stop offset="0.7523" stop-color="#ffc2c2"/><stop offset="0.7523" stop-color="#ffc5c5"/><stop offset="0.7581" stop-color="#ffc5c5"/><stop offset="0.7581" stop-color="#ffc5c5"/><stop offset="0.7609" stop-color="#ffc5c5"/><stop offset="0.7609" stop-color="#ffc6c6"/><stop offset="0.7652" stop-color="#ffc6c6"/><stop offset="0.7653" stop-color="#ffd2d2"/><stop offset="0.7720" stop-color="#ffd2d2"/><stop offset="0.7721" stop-color="#ffd7d7"/><stop offset="0.7743" stop-color="#ffd7d7"/><stop offset="0.7744" stop-color="#ffd5d5"/><stop offset="0.7775" stop-color="#ffd5d5"/><stop offset="0.7775" stop-color="#ffdada"/><stop offset="0.7818" stop-color="#ffdada"/><stop offset="0.7818" stop-color="#ffdede"/><stop offset="0.7885" stop-color="#ffdede"/><stop offset="0.7885" stop-color="#ffe4e4"/><stop offset="0.7940" stop-color="#ffe4e4"/><stop offset="0.7940" stop-color="#ffeded"/><stop offset="0.8008" stop-color="#ffeded"/><stop offset="0.8008" stop-color="#fff1f1"/><stop offset="0.8038" stop-color="#fff1f1"/><stop offset="0.8039" stop-color="#fff3f3"/><stop offset="0.8059" stop-color="#fff3f3"/><stop offset="0.8060" stop-color="#fff8f8"/><stop offset="0.8116" stop-color="#fff8f8"/><stop offset="0.8116" stop-color="#fffbfb"/><stop offset="0.8136" stop-color="#fffbfb"/><stop offset="0.8137" stop-color="#fffefe"/><stop offset="0.8161" stop-color="#fffefe"/><stop offset="0.8161" stop-color="#ffffff"/><stop offset="1.0000" stop-color="#ffffff"/></linearGradient><linearGradient id="gb6" gradientUnits="userSpaceOnUse" x1="728.7" y1="0" x2="1139.9" y2="0"><stop offset="0.0000" stop-color="#ffffff"/><stop offset="0.1547" stop-color="#ffffff"/><stop offset="0.1547" stop-color="#fffefe"/><stop offset="0.1573" stop-color="#fffefe"/><stop offset="0.1573" stop-color="#fffdfd"/><stop offset="0.1629" stop-color="#fffdfd"/><stop offset="0.1629" stop-color="#fffbfb"/><stop offset="0.1666" stop-color="#fffbfb"/><stop offset="0.1667" stop-color="#fff9f9"/><stop offset="0.1690" stop-color="#fff9f9"/><stop offset="0.1690" stop-color="#fff7f7"/><stop offset="0.1739" stop-color="#fff7f7"/><stop offset="0.1740" stop-color="#fff6f6"/><stop offset="0.1774" stop-color="#fff6f6"/><stop offset="0.1774" stop-color="#fff3f3"/><stop offset="0.1831" stop-color="#fff3f3"/><stop offset="0.1832" stop-color="#fff1f1"/><stop offset="0.1885" stop-color="#fff1f1"/><stop offset="0.1885" stop-color="#ffeeee"/><stop offset="0.1923" stop-color="#ffeeee"/><stop offset="0.1924" stop-color="#ffeded"/><stop offset="0.1951" stop-color="#ffeded"/><stop offset="0.1952" stop-color="#ffecec"/><stop offset="0.1995" stop-color="#ffecec"/><stop offset="0.1995" stop-color="#ffeaea"/><stop offset="0.2041" stop-color="#ffeaea"/><stop offset="0.2041" stop-color="#ffe6e6"/><stop offset="0.2099" stop-color="#ffe6e6"/><stop offset="0.2099" stop-color="#ffe4e4"/><stop offset="0.2127" stop-color="#ffe4e4"/><stop offset="0.2127" stop-color="#ffe3e3"/><stop offset="0.2183" stop-color="#ffe3e3"/><stop offset="0.2183" stop-color="#ffe0e0"/><stop offset="0.2241" stop-color="#ffe0e0"/><stop offset="0.2242" stop-color="#ffdddd"/><stop offset="0.2293" stop-color="#ffdddd"/><stop offset="0.2294" stop-color="#ffdcdc"/><stop offset="0.2325" stop-color="#ffdcdc"/><stop offset="0.2325" stop-color="#ffd8d8"/><stop offset="0.2392" stop-color="#ffd8d8"/><stop offset="0.2393" stop-color="#ffd6d6"/><stop offset="0.2456" stop-color="#ffd6d6"/><stop offset="0.2457" stop-color="#ffd4d4"/><stop offset="0.2481" stop-color="#ffd4d4"/><stop offset="0.2482" stop-color="#ffd2d2"/><stop offset="0.2508" stop-color="#ffd2d2"/><stop offset="0.2509" stop-color="#ffd0d0"/><stop offset="0.2568" stop-color="#ffd0d0"/><stop offset="0.2569" stop-color="#ffd4d4"/><stop offset="0.2619" stop-color="#ffd4d4"/><stop offset="0.2619" stop-color="#ffcccc"/><stop offset="0.2647" stop-color="#ffcccc"/><stop offset="0.2648" stop-color="#ffcaca"/><stop offset="0.2671" stop-color="#ffcaca"/><stop offset="0.2671" stop-color="#ffc9c9"/><stop offset="0.2701" stop-color="#ffc9c9"/><stop offset="0.2701" stop-color="#ffc7c7"/><stop offset="0.2756" stop-color="#ffc7c7"/><stop offset="0.2756" stop-color="#ffc4c4"/><stop offset="0.2812" stop-color="#ffc4c4"/><stop offset="0.2813" stop-color="#ffc2c2"/><stop offset="0.2862" stop-color="#ffc2c2"/><stop offset="0.2863" stop-color="#ffc0c0"/><stop offset="0.2912" stop-color="#ffc0c0"/><stop offset="0.2912" stop-color="#ffbdbd"/><stop offset="0.2970" stop-color="#ffbdbd"/><stop offset="0.2970" stop-color="#ffbbbb"/><stop offset="0.3040" stop-color="#ffbbbb"/><stop offset="0.3040" stop-color="#ffbebe"/><stop offset="0.3077" stop-color="#ffbebe"/><stop offset="0.3078" stop-color="#ffb5b5"/><stop offset="0.3129" stop-color="#ffb5b5"/><stop offset="0.3130" stop-color="#ffb4b4"/><stop offset="0.3165" stop-color="#ffb4b4"/><stop offset="0.3166" stop-color="#ffb1b1"/><stop offset="0.3231" stop-color="#ffb1b1"/><stop offset="0.3232" stop-color="#ffaeae"/><stop offset="0.3279" stop-color="#ffaeae"/><stop offset="0.3279" stop-color="#ffabab"/><stop offset="0.3340" stop-color="#ffabab"/><stop offset="0.3341" stop-color="#ffabab"/><stop offset="0.3363" stop-color="#ffabab"/><stop offset="0.3364" stop-color="#ffa9a9"/><stop offset="0.3417" stop-color="#ffa9a9"/><stop offset="0.3417" stop-color="#ffa8a8"/><stop offset="0.3439" stop-color="#ffa8a8"/><stop offset="0.3439" stop-color="#ffb1b1"/><stop offset="0.3475" stop-color="#ffb1b1"/><stop offset="0.3476" stop-color="#ffa6a6"/><stop offset="0.3501" stop-color="#ffa6a6"/><stop offset="0.3502" stop-color="#ffa4a4"/><stop offset="0.3558" stop-color="#ffa4a4"/><stop offset="0.3559" stop-color="#ff9f9f"/><stop offset="0.3601" stop-color="#ff9f9f"/><stop offset="0.3601" stop-color="#ff9d9d"/><stop offset="0.3642" stop-color="#ff9d9d"/><stop offset="0.3643" stop-color="#ff9c9c"/><stop offset="0.3681" stop-color="#ff9c9c"/><stop offset="0.3681" stop-color="#ff9a9a"/><stop offset="0.3724" stop-color="#ff9a9a"/><stop offset="0.3725" stop-color="#ff9999"/><stop offset="0.3752" stop-color="#ff9999"/><stop offset="0.3753" stop-color="#ff9797"/><stop offset="0.3773" stop-color="#ff9797"/><stop offset="0.3773" stop-color="#ff9898"/><stop offset="0.3802" stop-color="#ff9898"/><stop offset="0.3802" stop-color="#ff9393"/><stop offset="0.3866" stop-color="#ff9393"/><stop offset="0.3866" stop-color="#ff9191"/><stop offset="0.3911" stop-color="#ff9191"/><stop offset="0.3911" stop-color="#ff9191"/><stop offset="0.3958" stop-color="#ff9191"/><stop offset="0.3959" stop-color="#ff8e8e"/><stop offset="0.4005" stop-color="#ff8e8e"/><stop offset="0.4005" stop-color="#ff8c8c"/><stop offset="0.4027" stop-color="#ff8c8c"/><stop offset="0.4028" stop-color="#ff9696"/><stop offset="0.4081" stop-color="#ff9696"/><stop offset="0.4081" stop-color="#ff8787"/><stop offset="0.4152" stop-color="#ff8787"/><stop offset="0.4152" stop-color="#ff8f8f"/><stop offset="0.4172" stop-color="#ff8f8f"/><stop offset="0.4173" stop-color="#ff8686"/><stop offset="0.4238" stop-color="#ff8686"/><stop offset="0.4238" stop-color="#ff8484"/><stop offset="0.4261" stop-color="#ff8484"/><stop offset="0.4261" stop-color="#ff8080"/><stop offset="0.4281" stop-color="#ff8080"/><stop offset="0.4281" stop-color="#ff8f8f"/><stop offset="0.4344" stop-color="#ff8f8f"/><stop offset="0.4344" stop-color="#ff7d7d"/><stop offset="0.4396" stop-color="#ff7d7d"/><stop offset="0.4396" stop-color="#ff8686"/><stop offset="0.4434" stop-color="#ff8686"/><stop offset="0.4434" stop-color="#ff8181"/><stop offset="0.4479" stop-color="#ff8181"/><stop offset="0.4479" stop-color="#ff7474"/><stop offset="0.4541" stop-color="#ff7474"/><stop offset="0.4542" stop-color="#ff7a7a"/><stop offset="0.4567" stop-color="#ff7a7a"/><stop offset="0.4567" stop-color="#ff8181"/><stop offset="0.4606" stop-color="#ff8181"/><stop offset="0.4606" stop-color="#ff7979"/><stop offset="0.4677" stop-color="#ff7979"/><stop offset="0.4678" stop-color="#ff6b6b"/><stop offset="0.4700" stop-color="#ff6b6b"/><stop offset="0.4700" stop-color="#ff6c6c"/><stop offset="0.4730" stop-color="#ff6c6c"/><stop offset="0.4731" stop-color="#ff6d6d"/><stop offset="0.4773" stop-color="#ff6d6d"/><stop offset="0.4774" stop-color="#ff6868"/><stop offset="0.4842" stop-color="#ff6868"/><stop offset="0.4842" stop-color="#ff6666"/><stop offset="0.5000" stop-color="#ff5c5c"/><stop offset="0.5158" stop-color="#ff6666"/><stop offset="0.5158" stop-color="#ff6767"/><stop offset="0.5226" stop-color="#ff6767"/><stop offset="0.5226" stop-color="#ff6b6b"/><stop offset="0.5292" stop-color="#ff6b6b"/><stop offset="0.5292" stop-color="#ff6f6f"/><stop offset="0.5344" stop-color="#ff6f6f"/><stop offset="0.5344" stop-color="#ff8080"/><stop offset="0.5410" stop-color="#ff8080"/><stop offset="0.5411" stop-color="#ff7272"/><stop offset="0.5454" stop-color="#ff7272"/><stop offset="0.5455" stop-color="#ff7575"/><stop offset="0.5504" stop-color="#ff7575"/><stop offset="0.5505" stop-color="#ff7777"/><stop offset="0.5535" stop-color="#ff7777"/><stop offset="0.5536" stop-color="#ff7a7a"/><stop offset="0.5598" stop-color="#ff7a7a"/><stop offset="0.5598" stop-color="#ff8989"/><stop offset="0.5639" stop-color="#ff8989"/><stop offset="0.5640" stop-color="#ff7f7f"/><stop offset="0.5703" stop-color="#ff7f7f"/><stop offset="0.5703" stop-color="#ff8181"/><stop offset="0.5769" stop-color="#ff8181"/><stop offset="0.5770" stop-color="#ff8383"/><stop offset="0.5840" stop-color="#ff8383"/><stop offset="0.5841" stop-color="#ff8686"/><stop offset="0.5865" stop-color="#ff8686"/><stop offset="0.5865" stop-color="#ff8787"/><stop offset="0.5904" stop-color="#ff8787"/><stop offset="0.5905" stop-color="#ff8c8c"/><stop offset="0.5933" stop-color="#ff8c8c"/><stop offset="0.5933" stop-color="#ff9090"/><stop offset="0.5961" stop-color="#ff9090"/><stop offset="0.5962" stop-color="#ff9090"/><stop offset="0.6034" stop-color="#ff9090"/><stop offset="0.6034" stop-color="#ff9898"/><stop offset="0.6062" stop-color="#ff9898"/><stop offset="0.6062" stop-color="#ff9393"/><stop offset="0.6123" stop-color="#ff9393"/><stop offset="0.6124" stop-color="#ff9393"/><stop offset="0.6177" stop-color="#ff9393"/><stop offset="0.6178" stop-color="#ff9797"/><stop offset="0.6233" stop-color="#ff9797"/><stop offset="0.6233" stop-color="#ff9898"/><stop offset="0.6272" stop-color="#ff9898"/><stop offset="0.6273" stop-color="#ff9a9a"/><stop offset="0.6310" stop-color="#ff9a9a"/><stop offset="0.6311" stop-color="#ff9b9b"/><stop offset="0.6358" stop-color="#ff9b9b"/><stop offset="0.6359" stop-color="#ffa3a3"/><stop offset="0.6426" stop-color="#ffa3a3"/><stop offset="0.6427" stop-color="#ffaaaa"/><stop offset="0.6463" stop-color="#ffaaaa"/><stop offset="0.6464" stop-color="#ffa4a4"/><stop offset="0.6525" stop-color="#ffa4a4"/><stop offset="0.6525" stop-color="#ffa5a5"/><stop offset="0.6556" stop-color="#ffa5a5"/><stop offset="0.6556" stop-color="#ffb2b2"/><stop offset="0.6608" stop-color="#ffb2b2"/><stop offset="0.6609" stop-color="#ffa9a9"/><stop offset="0.6631" stop-color="#ffa9a9"/><stop offset="0.6631" stop-color="#ffa9a9"/><stop offset="0.6666" stop-color="#ffa9a9"/><stop offset="0.6667" stop-color="#ffadad"/><stop offset="0.6737" stop-color="#ffadad"/><stop offset="0.6737" stop-color="#ffb3b3"/><stop offset="0.6788" stop-color="#ffb3b3"/><stop offset="0.6788" stop-color="#ffb0b0"/><stop offset="0.6811" stop-color="#ffb0b0"/><stop offset="0.6811" stop-color="#ffbaba"/><stop offset="0.6851" stop-color="#ffbaba"/><stop offset="0.6852" stop-color="#ffb5b5"/><stop offset="0.6900" stop-color="#ffb5b5"/><stop offset="0.6901" stop-color="#ffb7b7"/><stop offset="0.6949" stop-color="#ffb7b7"/><stop offset="0.6949" stop-color="#ffbaba"/><stop offset="0.6994" stop-color="#ffbaba"/><stop offset="0.6994" stop-color="#ffbdbd"/><stop offset="0.7058" stop-color="#ffbdbd"/><stop offset="0.7059" stop-color="#ffbebe"/><stop offset="0.7090" stop-color="#ffbebe"/><stop offset="0.7090" stop-color="#ffc3c3"/><stop offset="0.7115" stop-color="#ffc3c3"/><stop offset="0.7115" stop-color="#ffc1c1"/><stop offset="0.7184" stop-color="#ffc1c1"/><stop offset="0.7184" stop-color="#ffc3c3"/><stop offset="0.7211" stop-color="#ffc3c3"/><stop offset="0.7211" stop-color="#ffc8c8"/><stop offset="0.7235" stop-color="#ffc8c8"/><stop offset="0.7235" stop-color="#ffc7c7"/><stop offset="0.7289" stop-color="#ffc7c7"/><stop offset="0.7290" stop-color="#ffcbcb"/><stop offset="0.7311" stop-color="#ffcbcb"/><stop offset="0.7311" stop-color="#ffcdcd"/><stop offset="0.7373" stop-color="#ffcdcd"/><stop offset="0.7374" stop-color="#ffcdcd"/><stop offset="0.7424" stop-color="#ffcdcd"/><stop offset="0.7424" stop-color="#ffd2d2"/><stop offset="0.7457" stop-color="#ffd2d2"/><stop offset="0.7457" stop-color="#ffd0d0"/><stop offset="0.7495" stop-color="#ffd0d0"/><stop offset="0.7496" stop-color="#ffd2d2"/><stop offset="0.7521" stop-color="#ffd2d2"/><stop offset="0.7521" stop-color="#ffd5d5"/><stop offset="0.7556" stop-color="#ffd5d5"/><stop offset="0.7556" stop-color="#ffd8d8"/><stop offset="0.7592" stop-color="#ffd8d8"/><stop offset="0.7593" stop-color="#ffd8d8"/><stop offset="0.7646" stop-color="#ffd8d8"/><stop offset="0.7646" stop-color="#ffd9d9"/><stop offset="0.7675" stop-color="#ffd9d9"/><stop offset="0.7676" stop-color="#ffdede"/><stop offset="0.7704" stop-color="#ffdede"/><stop offset="0.7704" stop-color="#ffe0e0"/><stop offset="0.7769" stop-color="#ffe0e0"/><stop offset="0.7769" stop-color="#ffe0e0"/><stop offset="0.7812" stop-color="#ffe0e0"/><stop offset="0.7812" stop-color="#ffe3e3"/><stop offset="0.7874" stop-color="#ffe3e3"/><stop offset="0.7875" stop-color="#ffe7e7"/><stop offset="0.7912" stop-color="#ffe7e7"/><stop offset="0.7912" stop-color="#ffe7e7"/><stop offset="0.7980" stop-color="#ffe7e7"/><stop offset="0.7981" stop-color="#ffeaea"/><stop offset="0.8004" stop-color="#ffeaea"/><stop offset="0.8004" stop-color="#ffeaea"/><stop offset="0.8024" stop-color="#ffeaea"/><stop offset="0.8025" stop-color="#ffecec"/><stop offset="0.8083" stop-color="#ffecec"/><stop offset="0.8083" stop-color="#ffeeee"/><stop offset="0.8102" stop-color="#ffeeee"/><stop offset="0.8103" stop-color="#fff0f0"/><stop offset="0.8148" stop-color="#fff0f0"/><stop offset="0.8148" stop-color="#fff2f2"/><stop offset="0.8200" stop-color="#fff2f2"/><stop offset="0.8200" stop-color="#fff5f5"/><stop offset="0.8262" stop-color="#fff5f5"/><stop offset="0.8262" stop-color="#fff7f7"/><stop offset="0.8295" stop-color="#fff7f7"/><stop offset="0.8295" stop-color="#fff9f9"/><stop offset="0.8359" stop-color="#fff9f9"/><stop offset="0.8360" stop-color="#fffcfc"/><stop offset="0.8397" stop-color="#fffcfc"/><stop offset="0.8397" stop-color="#fffefe"/><stop offset="0.8447" stop-color="#fffefe"/><stop offset="0.8447" stop-color="#ffffff"/><stop offset="0.8453" stop-color="#ffffff"/><stop offset="0.8453" stop-color="#ffffff"/><stop offset="1.0000" stop-color="#ffffff"/></linearGradient><linearGradient id="gb7" gradientUnits="userSpaceOnUse" x1="728.7" y1="0" x2="1139.9" y2="0"><stop offset="0.0000" stop-color="#ffffff"/><stop offset="0.1328" stop-color="#ffffff"/><stop offset="0.2082" stop-color="#ffcccc"/><stop offset="0.2957" stop-color="#ff9999"/><stop offset="0.3638" stop-color="#ff7070"/><stop offset="0.4441" stop-color="#ff3d3d"/><stop offset="0.4842" stop-color="#ff1919"/><stop offset="0.5000" stop-color="#ff0f0f"/><stop offset="0.5158" stop-color="#ff1919"/><stop offset="0.5559" stop-color="#ff3d3d"/><stop offset="0.6362" stop-color="#ff7070"/><stop offset="0.7043" stop-color="#ff9999"/><stop offset="0.7918" stop-color="#ffcccc"/><stop offset="0.8672" stop-color="#ffffff"/><stop offset="1.0000" stop-color="#ffffff"/></linearGradient><linearGradient id="gb8" gradientUnits="userSpaceOnUse" x1="728.7" y1="0" x2="1139.9" y2="0"><stop offset="0.0000" stop-color="#ffffff"/><stop offset="0.1595" stop-color="#ffffff"/><stop offset="0.2203" stop-color="#ffc2c2"/><stop offset="0.2957" stop-color="#ff8080"/><stop offset="0.3638" stop-color="#ff5757"/><stop offset="0.4441" stop-color="#ff2929"/><stop offset="0.4842" stop-color="#ff0000"/><stop offset="0.5000" stop-color="#f50000"/><stop offset="0.5158" stop-color="#ff0000"/><stop offset="0.5559" stop-color="#ff2929"/><stop offset="0.6362" stop-color="#ff5757"/><stop offset="0.7043" stop-color="#ff8080"/><stop offset="0.7797" stop-color="#ffc2c2"/><stop offset="0.8405" stop-color="#ffffff"/><stop offset="1.0000" stop-color="#ffffff"/></linearGradient><linearGradient id="gb9" gradientUnits="userSpaceOnUse" x1="728.7" y1="0" x2="1139.9" y2="0"><stop offset="0.0000" stop-color="#ffffff"/><stop offset="0.0015" stop-color="#ebebff"/><stop offset="0.2009" stop-color="#e6e6ff"/><stop offset="0.2325" stop-color="#ffffff"/><stop offset="0.2483" stop-color="#ffffff"/><stop offset="0.2529" stop-color="#ffebeb"/><stop offset="0.2665" stop-color="#ffcccc"/><stop offset="0.3054" stop-color="#ff9999"/><stop offset="0.3638" stop-color="#ff4d4d"/><stop offset="0.4441" stop-color="#ff1919"/><stop offset="0.4641" stop-color="#ff0000"/><stop offset="0.4842" stop-color="#e50000"/><stop offset="0.5000" stop-color="#d60000"/><stop offset="0.5158" stop-color="#e50000"/><stop offset="0.5359" stop-color="#ff0000"/><stop offset="0.5559" stop-color="#ff1919"/><stop offset="0.6362" stop-color="#ff4d4d"/><stop offset="0.6946" stop-color="#ff9999"/><stop offset="0.7335" stop-color="#ffcccc"/><stop offset="0.7471" stop-color="#ffebeb"/><stop offset="0.7517" stop-color="#ffffff"/><stop offset="0.7675" stop-color="#ffffff"/><stop offset="0.7991" stop-color="#e6e6ff"/><stop offset="0.9985" stop-color="#ebebff"/><stop offset="1.0000" stop-color="#ffffff"/></linearGradient><linearGradient id="gb10" gradientUnits="userSpaceOnUse" x1="728.7" y1="0" x2="1139.9" y2="0"><stop offset="0.0000" stop-color="#ffffff"/><stop offset="0.0015" stop-color="#e0e0ff"/><stop offset="0.2155" stop-color="#bdbdff"/><stop offset="0.2568" stop-color="#c2c2ff"/><stop offset="0.2860" stop-color="#ffffff"/><stop offset="0.3006" stop-color="#ffffff"/><stop offset="0.3103" stop-color="#ffb2b2"/><stop offset="0.3176" stop-color="#ff6666"/><stop offset="0.3638" stop-color="#ff2929"/><stop offset="0.4441" stop-color="#ff0000"/><stop offset="0.4842" stop-color="#cc0000"/><stop offset="0.5000" stop-color="#c20000"/><stop offset="0.5158" stop-color="#cc0000"/><stop offset="0.5559" stop-color="#ff0000"/><stop offset="0.6362" stop-color="#ff2929"/><stop offset="0.6824" stop-color="#ff6666"/><stop offset="0.6897" stop-color="#ffb2b2"/><stop offset="0.6994" stop-color="#ffffff"/><stop offset="0.7140" stop-color="#ffffff"/><stop offset="0.7432" stop-color="#c2c2ff"/><stop offset="0.7845" stop-color="#bdbdff"/><stop offset="0.9985" stop-color="#e0e0ff"/><stop offset="1.0000" stop-color="#ffffff"/></linearGradient><linearGradient id="gb11" gradientUnits="userSpaceOnUse" x1="728.7" y1="0" x2="1139.9" y2="0"><stop offset="0.0000" stop-color="#ffffff"/><stop offset="0.0015" stop-color="#c7c7ff"/><stop offset="0.3346" stop-color="#6666ff"/><stop offset="0.3492" stop-color="#ffffff"/><stop offset="0.3565" stop-color="#ffffff"/><stop offset="0.3626" stop-color="#ff1919"/><stop offset="0.4070" stop-color="#ff0000"/><stop offset="0.4514" stop-color="#e50000"/><stop offset="0.4927" stop-color="#b20000"/><stop offset="0.5000" stop-color="#ad0000"/><stop offset="0.5073" stop-color="#b20000"/><stop offset="0.5486" stop-color="#e50000"/><stop offset="0.5930" stop-color="#ff0000"/><stop offset="0.6374" stop-color="#ff1919"/><stop offset="0.6435" stop-color="#ffffff"/><stop offset="0.6508" stop-color="#ffffff"/><stop offset="0.6654" stop-color="#4747ff"/><stop offset="0.7918" stop-color="#5c5cff"/><stop offset="0.9985" stop-color="#a8a8ff"/><stop offset="1.0000" stop-color="#ffffff"/></linearGradient><linearGradient id="gb12" gradientUnits="userSpaceOnUse" x1="728.7" y1="0" x2="1139.9" y2="0"><stop offset="0.0000" stop-color="#ffffff"/><stop offset="0.0015" stop-color="#b2b2ff"/><stop offset="0.3721" stop-color="#5252ff"/><stop offset="0.3816" stop-color="#ffffff"/><stop offset="0.3869" stop-color="#ffffff"/><stop offset="0.3911" stop-color="#ff0000"/><stop offset="0.4635" stop-color="#cc0000"/><stop offset="0.4927" stop-color="#9e0000"/><stop offset="0.5000" stop-color="#990000"/><stop offset="0.5073" stop-color="#9e0000"/><stop offset="0.5365" stop-color="#cc0000"/><stop offset="0.6089" stop-color="#ff0000"/><stop offset="0.6131" stop-color="#ffffff"/><stop offset="0.6184" stop-color="#ffffff"/><stop offset="0.6279" stop-color="#1f1fff"/><stop offset="0.7918" stop-color="#3333ff"/><stop offset="0.9985" stop-color="#8080ff"/><stop offset="1.0000" stop-color="#ffffff"/></linearGradient><linearGradient id="gb13" gradientUnits="userSpaceOnUse" x1="728.7" y1="0" x2="1139.9" y2="0"><stop offset="0.0000" stop-color="#ffffff"/><stop offset="0.0015" stop-color="#7a7aff"/><stop offset="0.4246" stop-color="#2929ff"/><stop offset="0.4283" stop-color="#ffffff"/><stop offset="0.4311" stop-color="#ff0000"/><stop offset="0.4314" stop-color="#e50000"/><stop offset="0.4635" stop-color="#cc0000"/><stop offset="0.4878" stop-color="#990000"/><stop offset="0.5000" stop-color="#8f0000"/><stop offset="0.5122" stop-color="#990000"/><stop offset="0.5365" stop-color="#cc0000"/><stop offset="0.5686" stop-color="#e50000"/><stop offset="0.5689" stop-color="#ff0000"/><stop offset="0.5717" stop-color="#ffffff"/><stop offset="0.5754" stop-color="#0000ff"/><stop offset="0.7918" stop-color="#1919ff"/><stop offset="0.9985" stop-color="#6666ff"/><stop offset="1.0000" stop-color="#ffffff"/></linearGradient><linearGradient id="gb14" gradientUnits="userSpaceOnUse" x1="728.7" y1="0" x2="1139.9" y2="0"><stop offset="0.0000" stop-color="#ffffff"/><stop offset="0.0015" stop-color="#4747ff"/><stop offset="0.1109" stop-color="#0000ff"/><stop offset="0.4672" stop-color="#0000db"/><stop offset="0.4675" stop-color="#0000ff"/><stop offset="0.4701" stop-color="#ffffff"/><stop offset="0.4720" stop-color="#ff0000"/><stop offset="0.4805" stop-color="#f50000"/><stop offset="0.4951" stop-color="#d60000"/><stop offset="0.5000" stop-color="#cc0000"/><stop offset="0.5049" stop-color="#d60000"/><stop offset="0.5195" stop-color="#f50000"/><stop offset="0.5280" stop-color="#ff0000"/><stop offset="0.5299" stop-color="#ffffff"/><stop offset="0.5325" stop-color="#0000ff"/><stop offset="0.5328" stop-color="#0000db"/><stop offset="0.7432" stop-color="#0000ff"/><stop offset="0.9985" stop-color="#9999ff"/><stop offset="1.0000" stop-color="#ffffff"/></linearGradient><linearGradient id="gb15" gradientUnits="userSpaceOnUse" x1="728.7" y1="0" x2="1139.9" y2="0"><stop offset="0.0000" stop-color="#ffffff"/><stop offset="0.0015" stop-color="#3333ff"/><stop offset="0.1435" stop-color="#0000ff"/><stop offset="0.4295" stop-color="#0000c7"/><stop offset="0.5000" stop-color="#0000bd"/><stop offset="0.5705" stop-color="#0000c7"/><stop offset="0.7675" stop-color="#0000ff"/><stop offset="0.9985" stop-color="#6666ff"/><stop offset="1.0000" stop-color="#ffffff"/></linearGradient><linearGradient id="gb16" gradientUnits="userSpaceOnUse" x1="728.7" y1="0" x2="1139.9" y2="0"><stop offset="0.0000" stop-color="#ffffff"/><stop offset="0.0015" stop-color="#1f1fff"/><stop offset="0.1567" stop-color="#0000ff"/><stop offset="0.2860" stop-color="#0000e5"/><stop offset="0.4538" stop-color="#0000a8"/><stop offset="0.5000" stop-color="#0000a3"/><stop offset="0.5462" stop-color="#0000a8"/><stop offset="0.7140" stop-color="#0000e5"/><stop offset="0.8433" stop-color="#0000ff"/><stop offset="0.9985" stop-color="#1f1fff"/><stop offset="1.0000" stop-color="#ffffff"/></linearGradient><linearGradient id="gb17" gradientUnits="userSpaceOnUse" x1="728.7" y1="0" x2="1139.9" y2="0"><stop offset="0.0000" stop-color="#ffffff"/><stop offset="0.0015" stop-color="#1414ff"/><stop offset="0.0650" stop-color="#0000ff"/><stop offset="0.2398" stop-color="#0000c7"/><stop offset="0.4052" stop-color="#000094"/><stop offset="0.5000" stop-color="#00008f"/><stop offset="0.5948" stop-color="#000094"/><stop offset="0.7602" stop-color="#0000c7"/><stop offset="0.9350" stop-color="#0000ff"/><stop offset="0.9985" stop-color="#1414ff"/><stop offset="1.0000" stop-color="#ffffff"/></linearGradient><linearGradient id="gc0" gradientUnits="userSpaceOnUse" x1="113.0" y1="0" x2="524.2" y2="0"><stop offset="0.0000" stop-color="#ffffff"/><stop offset="0.0146" stop-color="#ffc2c2"/><stop offset="0.1386" stop-color="#ffc2c2"/><stop offset="0.1483" stop-color="#ffffff"/><stop offset="0.2456" stop-color="#ffffff"/><stop offset="0.2554" stop-color="#ffbdbd"/><stop offset="0.3064" stop-color="#ffbdbd"/><stop offset="0.3161" stop-color="#ffffff"/><stop offset="0.3259" stop-color="#ffffff"/><stop offset="0.3332" stop-color="#ccccff"/><stop offset="0.3721" stop-color="#ccccff"/><stop offset="0.3818" stop-color="#ffffff"/><stop offset="0.4037" stop-color="#ffffff"/><stop offset="0.4110" stop-color="#ffd6d6"/><stop offset="0.4183" stop-color="#fff5f5"/><stop offset="0.4402" stop-color="#fff5f5"/><stop offset="0.4475" stop-color="#ff9999"/><stop offset="0.4937" stop-color="#ff5c5c"/><stop offset="0.5000" stop-color="#ff6666"/><stop offset="0.5058" stop-color="#ff6666"/><stop offset="0.5496" stop-color="#ff8080"/><stop offset="0.5569" stop-color="#fff5f5"/><stop offset="0.5812" stop-color="#fff5f5"/><stop offset="0.5861" stop-color="#ffcccc"/><stop offset="0.5958" stop-color="#ffcccc"/><stop offset="0.6007" stop-color="#ffffff"/><stop offset="0.6153" stop-color="#ffffff"/><stop offset="0.6201" stop-color="#ccccff"/><stop offset="0.6615" stop-color="#ccccff"/><stop offset="0.6688" stop-color="#ffffff"/><stop offset="0.6834" stop-color="#ffffff"/><stop offset="0.6907" stop-color="#ffb2b2"/><stop offset="0.7442" stop-color="#ffb2b2"/><stop offset="0.7515" stop-color="#ffffff"/><stop offset="0.8536" stop-color="#ffffff"/><stop offset="0.8609" stop-color="#ffbdbd"/><stop offset="0.9655" stop-color="#ffbdbd"/><stop offset="0.9728" stop-color="#ffffff"/><stop offset="0.9995" stop-color="#ffffff"/><stop offset="1.0000" stop-color="#ffffff"/></linearGradient><linearGradient id="gc1" gradientUnits="userSpaceOnUse" x1="113.0" y1="0" x2="524.2" y2="0"><stop offset="0.0000" stop-color="#ffffff"/><stop offset="0.3818" stop-color="#ffffff"/><stop offset="0.3964" stop-color="#ffcccc"/><stop offset="0.4207" stop-color="#ff9999"/><stop offset="0.4256" stop-color="#ff5c5c"/><stop offset="0.4791" stop-color="#ff5c5c"/><stop offset="0.4805" stop-color="#ffffff"/><stop offset="0.4815" stop-color="#8080ff"/><stop offset="0.5180" stop-color="#8080ff"/><stop offset="0.5191" stop-color="#ffffff"/><stop offset="0.5204" stop-color="#ff5c5c"/><stop offset="0.5812" stop-color="#ff6666"/><stop offset="0.5861" stop-color="#ffffff"/><stop offset="0.6201" stop-color="#ffffff"/><stop offset="0.6250" stop-color="#ccccff"/><stop offset="0.6566" stop-color="#ccccff"/><stop offset="0.6615" stop-color="#ffffff"/><stop offset="0.6663" stop-color="#ff9999"/><stop offset="0.7369" stop-color="#ff9999"/><stop offset="0.7417" stop-color="#ffffff"/><stop offset="0.7588" stop-color="#ffffff"/><stop offset="0.7636" stop-color="#ffb2b2"/><stop offset="0.8585" stop-color="#ffb2b2"/><stop offset="0.8633" stop-color="#ffffff"/><stop offset="0.8925" stop-color="#ffffff"/><stop offset="0.8974" stop-color="#ffcccc"/><stop offset="0.9995" stop-color="#ffcccc"/><stop offset="1.0000" stop-color="#ffcccc"/></linearGradient><linearGradient id="gc2" gradientUnits="userSpaceOnUse" x1="113.0" y1="0" x2="524.2" y2="0"><stop offset="0.0000" stop-color="#ffbdbd"/><stop offset="0.0632" stop-color="#ffbdbd"/><stop offset="0.0681" stop-color="#fff0f0"/><stop offset="0.0747" stop-color="#fff0f0"/><stop offset="0.0803" stop-color="#ffb2b2"/><stop offset="0.2408" stop-color="#ffa8a8"/><stop offset="0.2456" stop-color="#fff5f5"/><stop offset="0.2748" stop-color="#fff5f5"/><stop offset="0.2845" stop-color="#ffb2b2"/><stop offset="0.2991" stop-color="#ff8080"/><stop offset="0.3356" stop-color="#ff9494"/><stop offset="0.4280" stop-color="#ff9494"/><stop offset="0.4353" stop-color="#ff7a7a"/><stop offset="0.4839" stop-color="#ff7a7a"/><stop offset="0.4870" stop-color="#ffffff"/><stop offset="0.4888" stop-color="#b2b2ff"/><stop offset="0.5107" stop-color="#b2b2ff"/><stop offset="0.5125" stop-color="#ffffff"/><stop offset="0.5156" stop-color="#ff7a7a"/><stop offset="0.5764" stop-color="#ff7a7a"/><stop offset="0.5812" stop-color="#ff9999"/><stop offset="0.6980" stop-color="#ff9999"/><stop offset="0.7223" stop-color="#ffc2c2"/><stop offset="0.7320" stop-color="#ffe0e0"/><stop offset="0.7466" stop-color="#ffb2b2"/><stop offset="0.9120" stop-color="#ffbdbd"/><stop offset="0.9217" stop-color="#fff0f0"/><stop offset="0.9314" stop-color="#ffbdbd"/><stop offset="0.9995" stop-color="#ffb8b8"/><stop offset="1.0000" stop-color="#ffb8b8"/></linearGradient><linearGradient id="gc3" gradientUnits="userSpaceOnUse" x1="113.0" y1="0" x2="524.2" y2="0"><stop offset="0.0000" stop-color="#ffffff"/><stop offset="0.0827" stop-color="#ffffff"/><stop offset="0.0900" stop-color="#ffb2b2"/><stop offset="0.2213" stop-color="#ffb2b2"/><stop offset="0.2262" stop-color="#ffffff"/><stop offset="0.2505" stop-color="#ffffff"/><stop offset="0.2554" stop-color="#ff9999"/><stop offset="0.3575" stop-color="#ff8080"/><stop offset="0.4061" stop-color="#ff7070"/><stop offset="0.4402" stop-color="#ff7070"/><stop offset="0.4418" stop-color="#ffffff"/><stop offset="0.4426" stop-color="#b2b2ff"/><stop offset="0.4475" stop-color="#8080ff"/><stop offset="0.4888" stop-color="#8080ff"/><stop offset="0.4981" stop-color="#ffffff"/><stop offset="0.5000" stop-color="#ffe6e6"/><stop offset="0.5018" stop-color="#ffffff"/><stop offset="0.5107" stop-color="#8080ff"/><stop offset="0.5545" stop-color="#8080ff"/><stop offset="0.5568" stop-color="#ffffff"/><stop offset="0.5593" stop-color="#ff7070"/><stop offset="0.6493" stop-color="#ff7a7a"/><stop offset="0.7442" stop-color="#ff9999"/><stop offset="0.7515" stop-color="#ffffff"/><stop offset="0.7806" stop-color="#ffffff"/><stop offset="0.7879" stop-color="#ffc2c2"/><stop offset="0.9922" stop-color="#ffc2c2"/><stop offset="0.9995" stop-color="#ffffff"/><stop offset="1.0000" stop-color="#ffffff"/></linearGradient><linearGradient id="gc4" gradientUnits="userSpaceOnUse" x1="113.0" y1="0" x2="524.2" y2="0"><stop offset="0.0000" stop-color="#ffffff"/><stop offset="0.0268" stop-color="#ffffff"/><stop offset="0.0316" stop-color="#ccccff"/><stop offset="0.0632" stop-color="#ccccff"/><stop offset="0.0681" stop-color="#ffffff"/><stop offset="0.0851" stop-color="#ffffff"/><stop offset="0.0900" stop-color="#ffb2b2"/><stop offset="0.1483" stop-color="#ffb2b2"/><stop offset="0.1532" stop-color="#ffffff"/><stop offset="0.1873" stop-color="#ffffff"/><stop offset="0.1921" stop-color="#ffb2b2"/><stop offset="0.2335" stop-color="#ffb2b2"/><stop offset="0.2383" stop-color="#ffffff"/><stop offset="0.2529" stop-color="#ffffff"/><stop offset="0.2578" stop-color="#ff7070"/><stop offset="0.4086" stop-color="#ff7070"/><stop offset="0.4122" stop-color="#ffffff"/><stop offset="0.4219" stop-color="#ffffff"/><stop offset="0.4256" stop-color="#ff1919"/><stop offset="0.4961" stop-color="#ff0f0f"/><stop offset="0.5034" stop-color="#ff1919"/><stop offset="0.5715" stop-color="#ff1919"/><stop offset="0.5764" stop-color="#ffffff"/><stop offset="0.5861" stop-color="#ffffff"/><stop offset="0.5910" stop-color="#ff6666"/><stop offset="0.7393" stop-color="#ff7070"/><stop offset="0.7442" stop-color="#ffffff"/><stop offset="0.7612" stop-color="#ffffff"/><stop offset="0.7661" stop-color="#ffb2b2"/><stop offset="0.8123" stop-color="#ffb2b2"/><stop offset="0.8171" stop-color="#ffffff"/><stop offset="0.8463" stop-color="#ffffff"/><stop offset="0.8512" stop-color="#ffcccc"/><stop offset="0.9047" stop-color="#ffcccc"/><stop offset="0.9095" stop-color="#ffffff"/><stop offset="0.9339" stop-color="#ffffff"/><stop offset="0.9387" stop-color="#d6d6ff"/><stop offset="0.9679" stop-color="#d6d6ff"/><stop offset="0.9728" stop-color="#ffffff"/><stop offset="0.9995" stop-color="#ffffff"/><stop offset="1.0000" stop-color="#ffffff"/></linearGradient><linearGradient id="gc5" gradientUnits="userSpaceOnUse" x1="113.0" y1="0" x2="524.2" y2="0"><stop offset="0.0000" stop-color="#ffffff"/><stop offset="0.0268" stop-color="#ffffff"/><stop offset="0.0316" stop-color="#a3a3ff"/><stop offset="0.1143" stop-color="#a3a3ff"/><stop offset="0.1192" stop-color="#ffffff"/><stop offset="0.1800" stop-color="#ffffff"/><stop offset="0.1848" stop-color="#ffb2b2"/><stop offset="0.2505" stop-color="#ffb2b2"/><stop offset="0.2554" stop-color="#ffe6e6"/><stop offset="0.2845" stop-color="#ffe6e6"/><stop offset="0.2918" stop-color="#ff3333"/><stop offset="0.4961" stop-color="#ff2929"/><stop offset="0.5034" stop-color="#ff2929"/><stop offset="0.7028" stop-color="#ff2929"/><stop offset="0.7065" stop-color="#ffffff"/><stop offset="0.7174" stop-color="#ffffff"/><stop offset="0.7223" stop-color="#ffb2b2"/><stop offset="0.8098" stop-color="#ffb2b2"/><stop offset="0.8147" stop-color="#ffffff"/><stop offset="0.8779" stop-color="#ffffff"/><stop offset="0.8828" stop-color="#a3a3ff"/><stop offset="0.9679" stop-color="#a3a3ff"/><stop offset="0.9728" stop-color="#ffffff"/><stop offset="0.9995" stop-color="#ffffff"/><stop offset="1.0000" stop-color="#ffffff"/></linearGradient><linearGradient id="gc6" gradientUnits="userSpaceOnUse" x1="113.0" y1="0" x2="524.2" y2="0"><stop offset="0.0000" stop-color="#a3a3ff"/><stop offset="0.1873" stop-color="#a3a3ff"/><stop offset="0.1946" stop-color="#ffffff"/><stop offset="0.2359" stop-color="#ffe6e6"/><stop offset="0.2602" stop-color="#ffcccc"/><stop offset="0.2651" stop-color="#ff8080"/><stop offset="0.3186" stop-color="#ff8080"/><stop offset="0.3234" stop-color="#ffffff"/><stop offset="0.3307" stop-color="#ff1919"/><stop offset="0.4548" stop-color="#ff0a0a"/><stop offset="0.4961" stop-color="#ff0000"/><stop offset="0.5034" stop-color="#ff0a0a"/><stop offset="0.6590" stop-color="#ff1919"/><stop offset="0.6639" stop-color="#ffffff"/><stop offset="0.6761" stop-color="#ffffff"/><stop offset="0.6809" stop-color="#ff8080"/><stop offset="0.7369" stop-color="#ff8080"/><stop offset="0.7403" stop-color="#ffffff"/><stop offset="0.7417" stop-color="#ccccff"/><stop offset="0.7539" stop-color="#ccccff"/><stop offset="0.7588" stop-color="#ffffff"/><stop offset="0.8025" stop-color="#ffffff"/><stop offset="0.8074" stop-color="#a3a3ff"/><stop offset="0.9995" stop-color="#a3a3ff"/><stop offset="1.0000" stop-color="#a3a3ff"/></linearGradient><linearGradient id="gc7" gradientUnits="userSpaceOnUse" x1="113.0" y1="0" x2="524.2" y2="0"><stop offset="0.0000" stop-color="#7575ff"/><stop offset="0.1581" stop-color="#7575ff"/><stop offset="0.1629" stop-color="#b2b2ff"/><stop offset="0.1994" stop-color="#b2b2ff"/><stop offset="0.2043" stop-color="#7575ff"/><stop offset="0.3016" stop-color="#7575ff"/><stop offset="0.3064" stop-color="#ffffff"/><stop offset="0.3113" stop-color="#ff4d4d"/><stop offset="0.3575" stop-color="#ff1f1f"/><stop offset="0.4548" stop-color="#ff0a0a"/><stop offset="0.4754" stop-color="#ff0000"/><stop offset="0.4961" stop-color="#f50000"/><stop offset="0.5034" stop-color="#ff0000"/><stop offset="0.6007" stop-color="#ff0f0f"/><stop offset="0.6907" stop-color="#ff2929"/><stop offset="0.6955" stop-color="#ffffff"/><stop offset="0.7004" stop-color="#7575ff"/><stop offset="0.8025" stop-color="#7575ff"/><stop offset="0.8074" stop-color="#b2b2ff"/><stop offset="0.8317" stop-color="#b2b2ff"/><stop offset="0.8366" stop-color="#7575ff"/><stop offset="0.9995" stop-color="#7575ff"/><stop offset="1.0000" stop-color="#7575ff"/></linearGradient><linearGradient id="gc8" gradientUnits="userSpaceOnUse" x1="113.0" y1="0" x2="524.2" y2="0"><stop offset="0.0000" stop-color="#5757ff"/><stop offset="0.3234" stop-color="#5757ff"/><stop offset="0.3307" stop-color="#ffffff"/><stop offset="0.3453" stop-color="#ff3333"/><stop offset="0.3818" stop-color="#ff0f0f"/><stop offset="0.4183" stop-color="#ff0000"/><stop offset="0.4426" stop-color="#f50000"/><stop offset="0.4791" stop-color="#cc0000"/><stop offset="0.5000" stop-color="#ad0000"/><stop offset="0.5277" stop-color="#cc0000"/><stop offset="0.6007" stop-color="#f50000"/><stop offset="0.6139" stop-color="#ff0000"/><stop offset="0.6469" stop-color="#ff1919"/><stop offset="0.6518" stop-color="#ffffff"/><stop offset="0.6590" stop-color="#ffffff"/><stop offset="0.6639" stop-color="#5757ff"/><stop offset="0.9995" stop-color="#5757ff"/><stop offset="1.0000" stop-color="#5757ff"/></linearGradient><linearGradient id="gc9" gradientUnits="userSpaceOnUse" x1="113.0" y1="0" x2="524.2" y2="0"><stop offset="0.0000" stop-color="#3333ff"/><stop offset="0.3575" stop-color="#3333ff"/><stop offset="0.3624" stop-color="#ffffff"/><stop offset="0.3672" stop-color="#ff1919"/><stop offset="0.4049" stop-color="#ff0000"/><stop offset="0.4426" stop-color="#e50000"/><stop offset="0.4742" stop-color="#b20000"/><stop offset="0.5000" stop-color="#660000"/><stop offset="0.5326" stop-color="#b20000"/><stop offset="0.6007" stop-color="#e00000"/><stop offset="0.6347" stop-color="#ff0000"/><stop offset="0.6384" stop-color="#ffffff"/><stop offset="0.6420" stop-color="#3333ff"/><stop offset="0.9995" stop-color="#3333ff"/><stop offset="1.0000" stop-color="#3333ff"/></linearGradient><linearGradient id="gc10" gradientUnits="userSpaceOnUse" x1="113.0" y1="0" x2="524.2" y2="0"><stop offset="0.0000" stop-color="#1919ff"/><stop offset="0.3624" stop-color="#0f0fff"/><stop offset="0.3696" stop-color="#6666ff"/><stop offset="0.3818" stop-color="#6666ff"/><stop offset="0.3867" stop-color="#0000ff"/><stop offset="0.4329" stop-color="#0000e5"/><stop offset="0.4331" stop-color="#0000ff"/><stop offset="0.4353" stop-color="#ffffff"/><stop offset="0.4375" stop-color="#ff0000"/><stop offset="0.4377" stop-color="#e50000"/><stop offset="0.4669" stop-color="#990000"/><stop offset="0.4791" stop-color="#660000"/><stop offset="0.4796" stop-color="#ff0000"/><stop offset="0.4805" stop-color="#ffffff"/><stop offset="0.4813" stop-color="#0000ff"/><stop offset="0.4815" stop-color="#0000cc"/><stop offset="0.5000" stop-color="#0000cc"/><stop offset="0.5180" stop-color="#0000cc"/><stop offset="0.5182" stop-color="#0000ff"/><stop offset="0.5190" stop-color="#ffffff"/><stop offset="0.5199" stop-color="#ff0000"/><stop offset="0.5204" stop-color="#660000"/><stop offset="0.5350" stop-color="#990000"/><stop offset="0.5618" stop-color="#e50000"/><stop offset="0.5620" stop-color="#ff0000"/><stop offset="0.5642" stop-color="#ffffff"/><stop offset="0.5664" stop-color="#0000ff"/><stop offset="0.5666" stop-color="#0000e5"/><stop offset="0.6128" stop-color="#0000ff"/><stop offset="0.6201" stop-color="#6666ff"/><stop offset="0.6323" stop-color="#6666ff"/><stop offset="0.6372" stop-color="#0f0fff"/><stop offset="0.9995" stop-color="#1919ff"/><stop offset="1.0000" stop-color="#1919ff"/></linearGradient><linearGradient id="gc11" gradientUnits="userSpaceOnUse" x1="113.0" y1="0" x2="524.2" y2="0"><stop offset="0.0000" stop-color="#0a0aff"/><stop offset="0.1251" stop-color="#0000ff"/><stop offset="0.4377" stop-color="#0000e5"/><stop offset="0.4380" stop-color="#0000ff"/><stop offset="0.4402" stop-color="#ffffff"/><stop offset="0.4424" stop-color="#ff0000"/><stop offset="0.4426" stop-color="#e50000"/><stop offset="0.4791" stop-color="#cc0000"/><stop offset="0.4793" stop-color="#ff0000"/><stop offset="0.4803" stop-color="#ffffff"/><stop offset="0.4813" stop-color="#0000ff"/><stop offset="0.4815" stop-color="#0000cc"/><stop offset="0.5180" stop-color="#0000cc"/><stop offset="0.5182" stop-color="#0000ff"/><stop offset="0.5192" stop-color="#ffffff"/><stop offset="0.5202" stop-color="#ff0000"/><stop offset="0.5204" stop-color="#cc0000"/><stop offset="0.5569" stop-color="#e50000"/><stop offset="0.5571" stop-color="#ff0000"/><stop offset="0.5593" stop-color="#ffffff"/><stop offset="0.5615" stop-color="#0000ff"/><stop offset="0.5618" stop-color="#0000e5"/><stop offset="0.8744" stop-color="#0000ff"/><stop offset="0.9995" stop-color="#0a0aff"/><stop offset="1.0000" stop-color="#0a0aff"/></linearGradient><linearGradient id="gc12" gradientUnits="userSpaceOnUse" x1="113.0" y1="0" x2="524.2" y2="0"><stop offset="0.0000" stop-color="#0000ff"/><stop offset="0.4061" stop-color="#0000cc"/><stop offset="0.5000" stop-color="#000099"/><stop offset="0.5934" stop-color="#0000cc"/><stop offset="0.9995" stop-color="#0000ff"/><stop offset="1.0000" stop-color="#0000ff"/></linearGradient><linearGradient id="gc13" gradientUnits="userSpaceOnUse" x1="113.0" y1="0" x2="524.2" y2="0"><stop offset="0.0000" stop-color="#0000ff"/><stop offset="0.3332" stop-color="#0000cc"/><stop offset="0.4548" stop-color="#00008f"/><stop offset="0.5000" stop-color="#000066"/><stop offset="0.5447" stop-color="#00008f"/><stop offset="0.6663" stop-color="#0000cc"/><stop offset="0.9995" stop-color="#0000ff"/><stop offset="1.0000" stop-color="#0000ff"/></linearGradient><linearGradient id="gc14" gradientUnits="userSpaceOnUse" x1="113.0" y1="0" x2="524.2" y2="0"><stop offset="0.0000" stop-color="#0000ff"/><stop offset="0.3332" stop-color="#0000cc"/><stop offset="0.4548" stop-color="#00008f"/><stop offset="0.5000" stop-color="#000066"/><stop offset="0.5447" stop-color="#00008f"/><stop offset="0.6663" stop-color="#0000cc"/><stop offset="0.9995" stop-color="#0000ff"/><stop offset="1.0000" stop-color="#0000ff"/></linearGradient><linearGradient id="gc15" gradientUnits="userSpaceOnUse" x1="113.0" y1="0" x2="524.2" y2="0"><stop offset="0.0000" stop-color="#0000ff"/><stop offset="0.3332" stop-color="#0000cc"/><stop offset="0.4548" stop-color="#00008f"/><stop offset="0.5000" stop-color="#000066"/><stop offset="0.5447" stop-color="#00008f"/><stop offset="0.6663" stop-color="#0000cc"/><stop offset="0.9995" stop-color="#0000ff"/><stop offset="1.0000" stop-color="#0000ff"/></linearGradient><linearGradient id="gc16" gradientUnits="userSpaceOnUse" x1="113.0" y1="0" x2="524.2" y2="0"><stop offset="0.0000" stop-color="#0000ff"/><stop offset="0.3332" stop-color="#0000cc"/><stop offset="0.4548" stop-color="#00008f"/><stop offset="0.5000" stop-color="#000066"/><stop offset="0.5447" stop-color="#00008f"/><stop offset="0.6663" stop-color="#0000cc"/><stop offset="0.9995" stop-color="#0000ff"/><stop offset="1.0000" stop-color="#0000ff"/></linearGradient><linearGradient id="gc17" gradientUnits="userSpaceOnUse" x1="113.0" y1="0" x2="524.2" y2="0"><stop offset="0.0000" stop-color="#0000ff"/><stop offset="0.3332" stop-color="#0000cc"/><stop offset="0.4548" stop-color="#00008f"/><stop offset="0.5000" stop-color="#000066"/><stop offset="0.5447" stop-color="#00008f"/><stop offset="0.6663" stop-color="#0000cc"/><stop offset="0.9995" stop-color="#0000ff"/><stop offset="1.0000" stop-color="#0000ff"/></linearGradient><linearGradient id="gc18" gradientUnits="userSpaceOnUse" x1="113.0" y1="0" x2="524.2" y2="0"><stop offset="0.0000" stop-color="#0000ff"/><stop offset="0.3332" stop-color="#0000cc"/><stop offset="0.4548" stop-color="#00008f"/><stop offset="0.5000" stop-color="#000066"/><stop offset="0.5447" stop-color="#00008f"/><stop offset="0.6663" stop-color="#0000cc"/><stop offset="0.9995" stop-color="#0000ff"/><stop offset="1.0000" stop-color="#0000ff"/></linearGradient><linearGradient id="gc19" gradientUnits="userSpaceOnUse" x1="113.0" y1="0" x2="524.2" y2="0"><stop offset="0.0000" stop-color="#0000ff"/><stop offset="0.3332" stop-color="#0000cc"/><stop offset="0.4548" stop-color="#00008f"/><stop offset="0.5000" stop-color="#000066"/><stop offset="0.5447" stop-color="#00008f"/><stop offset="0.6663" stop-color="#0000cc"/><stop offset="0.9995" stop-color="#0000ff"/><stop offset="1.0000" stop-color="#0000ff"/></linearGradient><linearGradient id="gc20" gradientUnits="userSpaceOnUse" x1="113.0" y1="0" x2="524.2" y2="0"><stop offset="0.0000" stop-color="#0000ff"/><stop offset="0.3332" stop-color="#0000cc"/><stop offset="0.4548" stop-color="#00008f"/><stop offset="0.5000" stop-color="#000066"/><stop offset="0.5447" stop-color="#00008f"/><stop offset="0.6663" stop-color="#0000cc"/><stop offset="0.9995" stop-color="#0000ff"/><stop offset="1.0000" stop-color="#0000ff"/></linearGradient><linearGradient id="gc21" gradientUnits="userSpaceOnUse" x1="113.0" y1="0" x2="524.2" y2="0"><stop offset="0.0000" stop-color="#0000ff"/><stop offset="0.1143" stop-color="#0000e5"/><stop offset="0.2091" stop-color="#0000cc"/><stop offset="0.2237" stop-color="#0000ff"/><stop offset="0.2408" stop-color="#3d3dff"/><stop offset="0.2578" stop-color="#3d3dff"/><stop offset="0.2629" stop-color="#0000ff"/><stop offset="0.2651" stop-color="#0000e5"/><stop offset="0.3332" stop-color="#0000cc"/><stop offset="0.4548" stop-color="#00008f"/><stop offset="0.5000" stop-color="#000066"/><stop offset="0.5447" stop-color="#00008f"/><stop offset="0.6663" stop-color="#0000cc"/><stop offset="0.7344" stop-color="#0000e5"/><stop offset="0.7366" stop-color="#0000ff"/><stop offset="0.7417" stop-color="#3d3dff"/><stop offset="0.7588" stop-color="#3d3dff"/><stop offset="0.7758" stop-color="#0000ff"/><stop offset="0.7904" stop-color="#0000cc"/><stop offset="0.8852" stop-color="#0000e5"/><stop offset="0.9995" stop-color="#0000ff"/><stop offset="1.0000" stop-color="#0000ff"/></linearGradient><linearGradient id="cbr" x1="0" y1="0" x2="0" y2="1" gradientUnits="objectBoundingBox"><stop offset="0" stop-color="#000"/><stop offset="0.045" stop-color="#000"/><stop offset="0.497" stop-color="#f00"/><stop offset="0.955" stop-color="#fff"/><stop offset="1" stop-color="#fff"/></linearGradient><linearGradient id="cbb" x1="0" y1="0" x2="0" y2="1" gradientUnits="objectBoundingBox"><stop offset="0" stop-color="#fff"/><stop offset="0.045" stop-color="#fff"/><stop offset="0.503" stop-color="#00f"/><stop offset="0.955" stop-color="#000"/><stop offset="1" stop-color="#000"/></linearGradient></defs>
<rect x="113.0" y="36.00" width="411.2" height="18.80" fill="url(#ga0)"/>
<rect x="113.0" y="53.80" width="411.2" height="15.70" fill="url(#ga1)"/>
<rect x="113.0" y="68.50" width="411.2" height="15.80" fill="url(#ga2)"/>
<rect x="113.0" y="83.30" width="411.2" height="15.70" fill="url(#ga3)"/>
<rect x="113.0" y="98.00" width="411.2" height="15.70" fill="url(#ga4)"/>
<rect x="113.0" y="112.70" width="411.2" height="15.80" fill="url(#ga5)"/>
<rect x="113.0" y="127.50" width="411.2" height="15.70" fill="url(#ga6)"/>
<rect x="113.0" y="142.20" width="411.2" height="15.70" fill="url(#ga7)"/>
<rect x="113.0" y="156.90" width="411.2" height="15.70" fill="url(#ga8)"/>
<rect x="113.0" y="171.60" width="411.2" height="15.80" fill="url(#ga9)"/>
<rect x="113.0" y="186.40" width="411.2" height="15.70" fill="url(#ga10)"/>
<rect x="113.0" y="201.10" width="411.2" height="15.70" fill="url(#ga11)"/>
<rect x="113.0" y="215.80" width="411.2" height="15.80" fill="url(#ga12)"/>
<rect x="113.0" y="230.60" width="411.2" height="15.70" fill="url(#ga13)"/>
<rect x="113.0" y="245.30" width="411.2" height="15.70" fill="url(#ga14)"/>
<rect x="113.0" y="260.00" width="411.2" height="15.70" fill="url(#ga15)"/>
<rect x="113.0" y="274.70" width="411.2" height="15.80" fill="url(#ga16)"/>
<rect x="113.0" y="289.50" width="411.2" height="15.70" fill="url(#ga17)"/>
<rect x="113.0" y="304.20" width="411.2" height="15.70" fill="url(#ga18)"/>
<rect x="113.0" y="318.90" width="411.2" height="15.80" fill="url(#ga19)"/>
<rect x="113.0" y="333.70" width="411.2" height="15.70" fill="url(#ga20)"/>
<rect x="113.0" y="348.40" width="411.2" height="15.70" fill="url(#ga21)"/>
<rect x="113.0" y="363.10" width="411.2" height="9.50" fill="url(#ga22)"/>
<polygon points="313.8,281.7 310.2,296.6 306.3,311.4 301.6,326.1 295.5,340.7 290.5,355.5 283.7,369.9 282.4,372.6 354.8,372.6 353.5,369.9 346.7,355.5 341.7,340.7 335.6,326.1 330.9,311.4 327.0,296.6 323.4,281.7" fill="#fff"/>
<polyline points="313.8,281.7 310.2,296.6 306.3,311.4 301.6,326.1 295.5,340.7 290.5,355.5 283.7,369.9 282.4,372.6" fill="none" stroke="#858585" stroke-width="2.2" clip-path="url(#clipa)"/>
<polyline points="323.4,281.7 327.0,296.6 330.9,311.4 335.6,326.1 341.7,340.7 346.7,355.5 353.5,369.9 354.8,372.6" fill="none" stroke="#858585" stroke-width="2.2" clip-path="url(#clipa)"/>
<circle cx="313.8" cy="281.7" r="3" fill="#858585" clip-path="url(#clipa)"/>
<circle cx="310.2" cy="296.6" r="3" fill="#858585" clip-path="url(#clipa)"/>
<circle cx="306.3" cy="311.4" r="3" fill="#858585" clip-path="url(#clipa)"/>
<circle cx="301.6" cy="326.1" r="3" fill="#858585" clip-path="url(#clipa)"/>
<circle cx="295.5" cy="340.7" r="3" fill="#858585" clip-path="url(#clipa)"/>
<circle cx="290.5" cy="355.5" r="3" fill="#858585" clip-path="url(#clipa)"/>
<circle cx="283.7" cy="369.9" r="3" fill="#858585" clip-path="url(#clipa)"/>
<circle cx="323.4" cy="281.7" r="3" fill="#858585" clip-path="url(#clipa)"/>
<circle cx="327.0" cy="296.6" r="3" fill="#858585" clip-path="url(#clipa)"/>
<circle cx="330.9" cy="311.4" r="3" fill="#858585" clip-path="url(#clipa)"/>
<circle cx="335.6" cy="326.1" r="3" fill="#858585" clip-path="url(#clipa)"/>
<circle cx="341.7" cy="340.7" r="3" fill="#858585" clip-path="url(#clipa)"/>
<circle cx="346.7" cy="355.5" r="3" fill="#858585" clip-path="url(#clipa)"/>
<circle cx="353.5" cy="369.9" r="3" fill="#858585" clip-path="url(#clipa)"/>
<polyline points="302.1,76.2 287.4,91.0 278.1,105.9 269.6,120.5 262.2,135.2 254.3,149.9 249.5,164.5 243.3,179.1 239.5,194.1 232.5,208.8 227.7,223.1 222.5,237.8 217.8,252.8 212.4,266.9 206.6,281.7 202.3,296.5 197.6,311.3 192.2,325.7 188.2,340.7 184.1,355.5 179.4,369.9 178.5,372.6" fill="none" stroke="#858585" stroke-width="2.2" clip-path="url(#clipa)"/>
<polyline points="335.1,76.2 349.8,91.0 359.1,105.9 367.6,120.5 375.0,135.2 382.9,149.9 387.7,164.5 393.9,179.1 397.7,194.1 404.7,208.8 409.5,223.1 414.7,237.8 419.4,252.8 424.8,266.9 430.6,281.7 434.9,296.5 439.6,311.3 445.0,325.7 449.0,340.7 453.1,355.5 457.8,369.9 458.7,372.6" fill="none" stroke="#858585" stroke-width="2.2" clip-path="url(#clipa)"/>
<circle cx="302.1" cy="76.2" r="3" fill="#858585" clip-path="url(#clipa)"/>
<circle cx="287.4" cy="91.0" r="3" fill="#858585" clip-path="url(#clipa)"/>
<circle cx="278.1" cy="105.9" r="3" fill="#858585" clip-path="url(#clipa)"/>
<circle cx="269.6" cy="120.5" r="3" fill="#858585" clip-path="url(#clipa)"/>
<circle cx="262.2" cy="135.2" r="3" fill="#858585" clip-path="url(#clipa)"/>
<circle cx="254.3" cy="149.9" r="3" fill="#858585" clip-path="url(#clipa)"/>
<circle cx="249.5" cy="164.5" r="3" fill="#858585" clip-path="url(#clipa)"/>
<circle cx="243.3" cy="179.1" r="3" fill="#858585" clip-path="url(#clipa)"/>
<circle cx="239.5" cy="194.1" r="3" fill="#858585" clip-path="url(#clipa)"/>
<circle cx="232.5" cy="208.8" r="3" fill="#858585" clip-path="url(#clipa)"/>
<circle cx="227.7" cy="223.1" r="3" fill="#858585" clip-path="url(#clipa)"/>
<circle cx="222.5" cy="237.8" r="3" fill="#858585" clip-path="url(#clipa)"/>
<circle cx="217.8" cy="252.8" r="3" fill="#858585" clip-path="url(#clipa)"/>
<circle cx="212.4" cy="266.9" r="3" fill="#858585" clip-path="url(#clipa)"/>
<circle cx="206.6" cy="281.7" r="3" fill="#858585" clip-path="url(#clipa)"/>
<circle cx="202.3" cy="296.5" r="3" fill="#858585" clip-path="url(#clipa)"/>
<circle cx="197.6" cy="311.3" r="3" fill="#858585" clip-path="url(#clipa)"/>
<circle cx="192.2" cy="325.7" r="3" fill="#858585" clip-path="url(#clipa)"/>
<circle cx="188.2" cy="340.7" r="3" fill="#858585" clip-path="url(#clipa)"/>
<circle cx="184.1" cy="355.5" r="3" fill="#858585" clip-path="url(#clipa)"/>
<circle cx="179.4" cy="369.9" r="3" fill="#858585" clip-path="url(#clipa)"/>
<circle cx="335.1" cy="76.2" r="3" fill="#858585" clip-path="url(#clipa)"/>
<circle cx="349.8" cy="91.0" r="3" fill="#858585" clip-path="url(#clipa)"/>
<circle cx="359.1" cy="105.9" r="3" fill="#858585" clip-path="url(#clipa)"/>
<circle cx="367.6" cy="120.5" r="3" fill="#858585" clip-path="url(#clipa)"/>
<circle cx="375.0" cy="135.2" r="3" fill="#858585" clip-path="url(#clipa)"/>
<circle cx="382.9" cy="149.9" r="3" fill="#858585" clip-path="url(#clipa)"/>
<circle cx="387.7" cy="164.5" r="3" fill="#858585" clip-path="url(#clipa)"/>
<circle cx="393.9" cy="179.1" r="3" fill="#858585" clip-path="url(#clipa)"/>
<circle cx="397.7" cy="194.1" r="3" fill="#858585" clip-path="url(#clipa)"/>
<circle cx="404.7" cy="208.8" r="3" fill="#858585" clip-path="url(#clipa)"/>
<circle cx="409.5" cy="223.1" r="3" fill="#858585" clip-path="url(#clipa)"/>
<circle cx="414.7" cy="237.8" r="3" fill="#858585" clip-path="url(#clipa)"/>
<circle cx="419.4" cy="252.8" r="3" fill="#858585" clip-path="url(#clipa)"/>
<circle cx="424.8" cy="266.9" r="3" fill="#858585" clip-path="url(#clipa)"/>
<circle cx="430.6" cy="281.7" r="3" fill="#858585" clip-path="url(#clipa)"/>
<circle cx="434.9" cy="296.5" r="3" fill="#858585" clip-path="url(#clipa)"/>
<circle cx="439.6" cy="311.3" r="3" fill="#858585" clip-path="url(#clipa)"/>
<circle cx="445.0" cy="325.7" r="3" fill="#858585" clip-path="url(#clipa)"/>
<circle cx="449.0" cy="340.7" r="3" fill="#858585" clip-path="url(#clipa)"/>
<circle cx="453.1" cy="355.5" r="3" fill="#858585" clip-path="url(#clipa)"/>
<circle cx="457.8" cy="369.9" r="3" fill="#858585" clip-path="url(#clipa)"/>
<line x1="318.60" y1="36.0" x2="318.60" y2="372.6" stroke="#000" stroke-width="1.7" stroke-dasharray="4.4 4.4" stroke-dashoffset="2.2"/>
<polyline points="213.2,319.2 227.7,298.5 240.0,277.1 247.1,267.7 257.0,255.5 263.7,247.5 267.3,240.4 270.8,238.0 280.0,236.5 293.3,235.1 298.0,233.5 302.8,233.3 306.4,234.5 311.1,240.4 315.8,248.7 317.6,255.8 317.6,281.9 319.6,281.9 319.6,255.8 321.4,248.7 326.1,240.4 330.8,234.5 334.4,233.3 339.2,233.5 343.9,235.1 357.2,236.5 366.4,238.0 369.9,240.4 373.5,247.5 380.2,255.5 390.1,267.7 397.2,277.1 409.5,298.5 424.0,319.2" fill="none" stroke="#00c000" stroke-width="4.6" stroke-linejoin="round"/>
<rect x="728.7" y="36.00" width="411.2" height="27.80" fill="url(#gb0)"/>
<rect x="728.7" y="62.80" width="411.2" height="28.00" fill="url(#gb1)"/>
<rect x="728.7" y="89.80" width="411.2" height="21.60" fill="url(#gb2)"/>
<rect x="728.7" y="110.40" width="411.2" height="14.40" fill="url(#gb3)"/>
<rect x="728.7" y="123.80" width="411.2" height="14.40" fill="url(#gb4)"/>
<rect x="728.7" y="137.20" width="411.2" height="14.30" fill="url(#gb5)"/>
<rect x="728.7" y="150.50" width="411.2" height="14.40" fill="url(#gb6)"/>
<rect x="728.7" y="163.90" width="411.2" height="14.40" fill="url(#gb7)"/>
<rect x="728.7" y="177.30" width="411.2" height="14.50" fill="url(#gb8)"/>
<rect x="728.7" y="190.80" width="411.2" height="14.70" fill="url(#gb9)"/>
<rect x="728.7" y="204.50" width="411.2" height="14.10" fill="url(#gb10)"/>
<rect x="728.7" y="217.60" width="411.2" height="14.70" fill="url(#gb11)"/>
<rect x="728.7" y="231.30" width="411.2" height="14.70" fill="url(#gb12)"/>
<rect x="728.7" y="245.00" width="411.2" height="14.30" fill="url(#gb13)"/>
<rect x="728.7" y="258.30" width="411.2" height="21.50" fill="url(#gb14)"/>
<rect x="728.7" y="278.80" width="411.2" height="27.50" fill="url(#gb15)"/>
<rect x="728.7" y="305.30" width="411.2" height="28.40" fill="url(#gb16)"/>
<rect x="728.7" y="332.70" width="411.2" height="39.90" fill="url(#gb17)"/>
<polygon points="929.6,278.0 925.5,291.5 918.5,318.6 906.7,345.4 894.7,372.6 973.9,372.6 961.9,345.4 950.1,318.6 943.1,291.5 939.0,278.0" fill="#fff"/>
<polyline points="929.6,278.0 925.5,291.5 918.5,318.6 906.7,345.4 894.7,372.6" fill="none" stroke="#858585" stroke-width="2.2" clip-path="url(#clipb)"/>
<polyline points="939.0,278.0 943.1,291.5 950.1,318.6 961.9,345.4 973.9,372.6" fill="none" stroke="#858585" stroke-width="2.2" clip-path="url(#clipb)"/>
<circle cx="925.5" cy="291.5" r="3" fill="#858585" clip-path="url(#clipb)"/>
<circle cx="918.5" cy="318.6" r="3" fill="#858585" clip-path="url(#clipb)"/>
<circle cx="906.7" cy="345.4" r="3" fill="#858585" clip-path="url(#clipb)"/>
<circle cx="943.1" cy="291.5" r="3" fill="#858585" clip-path="url(#clipb)"/>
<circle cx="950.1" cy="318.6" r="3" fill="#858585" clip-path="url(#clipb)"/>
<circle cx="961.9" cy="345.4" r="3" fill="#858585" clip-path="url(#clipb)"/>
<polyline points="845.2,103.2 820.6,117.4 807.1,130.1 793.4,143.9 775.8,156.9 760.8,170.6 746.6,184.0 731.5,197.4 722.0,204.7" fill="none" stroke="#858585" stroke-width="2.2" clip-path="url(#clipb)"/>
<polyline points="1023.4,103.2 1048.0,117.4 1061.5,130.1 1075.2,143.9 1092.8,156.9 1107.8,170.6 1122.0,184.0 1137.1,197.4 1146.6,204.7" fill="none" stroke="#858585" stroke-width="2.2" clip-path="url(#clipb)"/>
<circle cx="845.2" cy="103.2" r="3" fill="#858585" clip-path="url(#clipb)"/>
<circle cx="820.6" cy="117.4" r="3" fill="#858585" clip-path="url(#clipb)"/>
<circle cx="807.1" cy="130.1" r="3" fill="#858585" clip-path="url(#clipb)"/>
<circle cx="793.4" cy="143.9" r="3" fill="#858585" clip-path="url(#clipb)"/>
<circle cx="775.8" cy="156.9" r="3" fill="#858585" clip-path="url(#clipb)"/>
<circle cx="760.8" cy="170.6" r="3" fill="#858585" clip-path="url(#clipb)"/>
<circle cx="746.6" cy="184.0" r="3" fill="#858585" clip-path="url(#clipb)"/>
<circle cx="731.5" cy="197.4" r="3" fill="#858585" clip-path="url(#clipb)"/>
<circle cx="722.0" cy="204.7" r="3" fill="#858585" clip-path="url(#clipb)"/>
<circle cx="1023.4" cy="103.2" r="3" fill="#858585" clip-path="url(#clipb)"/>
<circle cx="1048.0" cy="117.4" r="3" fill="#858585" clip-path="url(#clipb)"/>
<circle cx="1061.5" cy="130.1" r="3" fill="#858585" clip-path="url(#clipb)"/>
<circle cx="1075.2" cy="143.9" r="3" fill="#858585" clip-path="url(#clipb)"/>
<circle cx="1092.8" cy="156.9" r="3" fill="#858585" clip-path="url(#clipb)"/>
<circle cx="1107.8" cy="170.6" r="3" fill="#858585" clip-path="url(#clipb)"/>
<circle cx="1122.0" cy="184.0" r="3" fill="#858585" clip-path="url(#clipb)"/>
<circle cx="1137.1" cy="197.4" r="3" fill="#858585" clip-path="url(#clipb)"/>
<circle cx="1146.6" cy="204.7" r="3" fill="#858585" clip-path="url(#clipb)"/>
<line x1="934.30" y1="36.0" x2="934.30" y2="372.6" stroke="#000" stroke-width="1.7" stroke-dasharray="4.4 4.4" stroke-dashoffset="2.2"/>
<polyline points="832.7,224.0 850.0,226.0 869.9,228.9 895.4,234.8 915.0,242.6 924.7,249.5 930.6,258.3 933.3,268.1 933.5,291.6 935.1,291.6 935.3,268.1 938.0,258.3 943.9,249.5 953.6,242.6 973.2,234.8 998.7,228.9 1018.6,226.0 1035.9,224.0" fill="none" stroke="#00c000" stroke-width="4.6" stroke-linejoin="round"/>
<rect x="113.0" y="542.00" width="411.2" height="27.90" fill="url(#gc0)"/>
<rect x="113.0" y="568.90" width="411.2" height="28.20" fill="url(#gc1)"/>
<rect x="113.0" y="596.10" width="411.2" height="20.90" fill="url(#gc2)"/>
<rect x="113.0" y="616.00" width="411.2" height="14.55" fill="url(#gc3)"/>
<rect x="113.0" y="629.55" width="411.2" height="14.55" fill="url(#gc4)"/>
<rect x="113.0" y="643.10" width="411.2" height="14.55" fill="url(#gc5)"/>
<rect x="113.0" y="656.65" width="411.2" height="14.55" fill="url(#gc6)"/>
<rect x="113.0" y="670.20" width="411.2" height="14.55" fill="url(#gc7)"/>
<rect x="113.0" y="683.75" width="411.2" height="14.55" fill="url(#gc8)"/>
<rect x="113.0" y="697.30" width="411.2" height="14.55" fill="url(#gc9)"/>
<rect x="113.0" y="710.85" width="411.2" height="14.55" fill="url(#gc10)"/>
<rect x="113.0" y="724.40" width="411.2" height="14.55" fill="url(#gc11)"/>
<rect x="113.0" y="737.95" width="411.2" height="14.55" fill="url(#gc12)"/>
<rect x="113.0" y="751.50" width="411.2" height="14.55" fill="url(#gc13)"/>
<rect x="113.0" y="765.05" width="411.2" height="14.55" fill="url(#gc14)"/>
<rect x="113.0" y="778.60" width="411.2" height="14.55" fill="url(#gc15)"/>
<rect x="113.0" y="792.15" width="411.2" height="14.55" fill="url(#gc16)"/>
<rect x="113.0" y="805.70" width="411.2" height="14.55" fill="url(#gc17)"/>
<rect x="113.0" y="819.25" width="411.2" height="14.55" fill="url(#gc18)"/>
<rect x="113.0" y="832.80" width="411.2" height="12.90" fill="url(#gc19)"/>
<rect x="113.0" y="844.70" width="411.2" height="21.40" fill="url(#gc20)"/>
<rect x="113.0" y="865.10" width="411.2" height="13.50" fill="url(#gc21)"/>
<polygon points="314.5,784.3 311.7,798.0 307.5,811.0 302.0,824.5 293.5,838.2 284.4,851.1 255.8,878.6 381.4,878.6 352.8,851.1 343.7,838.2 335.2,824.5 329.7,811.0 325.5,798.0 322.7,784.3" fill="#fff"/>
<polyline points="314.5,784.3 311.7,798.0 307.5,811.0 302.0,824.5 293.5,838.2 284.4,851.1 255.8,878.6" fill="none" stroke="#858585" stroke-width="2.2" clip-path="url(#clipc)"/>
<polyline points="322.7,784.3 325.5,798.0 329.7,811.0 335.2,824.5 343.7,838.2 352.8,851.1 381.4,878.6" fill="none" stroke="#858585" stroke-width="2.2" clip-path="url(#clipc)"/>
<circle cx="314.5" cy="784.3" r="3" fill="#858585" clip-path="url(#clipc)"/>
<circle cx="311.7" cy="798.0" r="3" fill="#858585" clip-path="url(#clipc)"/>
<circle cx="307.5" cy="811.0" r="3" fill="#858585" clip-path="url(#clipc)"/>
<circle cx="302.0" cy="824.5" r="3" fill="#858585" clip-path="url(#clipc)"/>
<circle cx="293.5" cy="838.2" r="3" fill="#858585" clip-path="url(#clipc)"/>
<circle cx="284.4" cy="851.1" r="3" fill="#858585" clip-path="url(#clipc)"/>
<circle cx="322.7" cy="784.3" r="3" fill="#858585" clip-path="url(#clipc)"/>
<circle cx="325.5" cy="798.0" r="3" fill="#858585" clip-path="url(#clipc)"/>
<circle cx="329.7" cy="811.0" r="3" fill="#858585" clip-path="url(#clipc)"/>
<circle cx="335.2" cy="824.5" r="3" fill="#858585" clip-path="url(#clipc)"/>
<circle cx="343.7" cy="838.2" r="3" fill="#858585" clip-path="url(#clipc)"/>
<circle cx="352.8" cy="851.1" r="3" fill="#858585" clip-path="url(#clipc)"/>
<line x1="314.5" y1="784.3" x2="322.7" y2="784.3" stroke="#858585" stroke-width="2.2"/>
<polyline points="193.9,581.9 113.0,593.8" fill="none" stroke="#858585" stroke-width="2.2" clip-path="url(#clipc)"/>
<polyline points="443.3,581.9 524.2,593.8" fill="none" stroke="#858585" stroke-width="2.2" clip-path="url(#clipc)"/>
<circle cx="193.9" cy="581.9" r="3" fill="#858585" clip-path="url(#clipc)"/>
<circle cx="443.3" cy="581.9" r="3" fill="#858585" clip-path="url(#clipc)"/>
<line x1="318.60" y1="542.0" x2="318.60" y2="878.6" stroke="#fff" stroke-width="1.6"/>
<line x1="318.60" y1="542.0" x2="318.60" y2="878.6" stroke="#000" stroke-width="1.7" stroke-dasharray="4.4 4.4" stroke-dashoffset="2.2"/>
<polyline points="176.9,641.5 213.5,663.8 250.0,688.1 258.1,694.0 283.5,714.5 294.4,721.8 303.5,729.0 309.0,736.3 313.5,743.5" fill="none" stroke="#00c000" stroke-width="4.6" stroke-linejoin="round"/>
<polyline points="460.3,641.5 423.7,663.8 387.2,688.1 379.1,694.0 353.7,714.5 342.8,721.8 333.7,729.0 328.2,736.3 323.7,743.5" fill="none" stroke="#00c000" stroke-width="4.6" stroke-linejoin="round"/>
<path d="M154.12,372.60v-11.7M154.12,36.00v11.7M195.24,372.60v-6.2M195.24,36.00v6.2M236.36,372.60v-11.7M236.36,36.00v11.7M277.48,372.60v-6.2M277.48,36.00v6.2M318.60,372.60v-11.7M318.60,36.00v11.7M359.72,372.60v-6.2M359.72,36.00v6.2M400.84,372.60v-11.7M400.84,36.00v11.7M441.96,372.60v-6.2M441.96,36.00v6.2M483.08,372.60v-11.7M483.08,36.00v11.7M113.00,305.28h6.2M524.20,305.28h-6.2M113.00,237.96h11.7M524.20,237.96h-11.7M113.00,170.64h6.2M524.20,170.64h-6.2M113.00,103.32h11.7M524.20,103.32h-11.7" stroke="#000" stroke-width="2" fill="none"/>
<rect x="113.0" y="36.0" width="411.2" height="336.6" fill="none" stroke="#000" stroke-width="2"/>
<text x="154.12" y="411.6" text-anchor="middle" font-family="Liberation Sans, sans-serif" font-size="36">-0.02</text>
<text x="318.60" y="411.6" text-anchor="middle" font-family="Liberation Sans, sans-serif" font-size="36">0.00</text>
<text x="483.08" y="411.6" text-anchor="middle" font-family="Liberation Sans, sans-serif" font-size="36">0.02</text>
<text x="106.00" y="385.40" text-anchor="end" font-family="Liberation Sans, sans-serif" font-size="36">1.0</text>
<text x="106.00" y="250.76" text-anchor="end" font-family="Liberation Sans, sans-serif" font-size="36">1.1</text>
<text x="106.00" y="116.12" text-anchor="end" font-family="Liberation Sans, sans-serif" font-size="36">1.2</text>
<text x="273.90" y="461.6" font-family="Liberation Sans, sans-serif" font-size="36"><tspan font-style="italic">B</tspan><tspan font-style="italic" font-size="27" dy="8">z</tspan></text>
<text x="317.80" y="461.6" font-family="Liberation Sans, sans-serif" font-size="36">(T)</text>
<text transform="translate(32.0,205.50) rotate(-90)" x="0" y="0" text-anchor="middle" font-family="Liberation Sans, sans-serif" font-size="36"><tspan font-style="italic" dx="2">T</tspan><tspan dx="-2"> (K)</tspan></text>
<path d="M769.82,372.60v-11.7M769.82,36.00v11.7M810.94,372.60v-6.2M810.94,36.00v6.2M852.06,372.60v-11.7M852.06,36.00v11.7M893.18,372.60v-6.2M893.18,36.00v6.2M934.30,372.60v-11.7M934.30,36.00v11.7M975.42,372.60v-6.2M975.42,36.00v6.2M1016.54,372.60v-11.7M1016.54,36.00v11.7M1057.66,372.60v-6.2M1057.66,36.00v6.2M1098.78,372.60v-11.7M1098.78,36.00v11.7M728.70,305.28h6.2M1139.90,305.28h-6.2M728.70,237.96h11.7M1139.90,237.96h-11.7M728.70,170.64h6.2M1139.90,170.64h-6.2M728.70,103.32h11.7M1139.90,103.32h-11.7" stroke="#000" stroke-width="2" fill="none"/>
<rect x="728.7" y="36.0" width="411.2" height="336.6" fill="none" stroke="#000" stroke-width="2"/>
<text x="769.82" y="411.6" text-anchor="middle" font-family="Liberation Sans, sans-serif" font-size="36">-0.02</text>
<text x="934.30" y="411.6" text-anchor="middle" font-family="Liberation Sans, sans-serif" font-size="36">0.00</text>
<text x="1098.78" y="411.6" text-anchor="middle" font-family="Liberation Sans, sans-serif" font-size="36">0.02</text>
<text x="721.70" y="385.40" text-anchor="end" font-family="Liberation Sans, sans-serif" font-size="36">1.0</text>
<text x="721.70" y="250.76" text-anchor="end" font-family="Liberation Sans, sans-serif" font-size="36">1.1</text>
<text x="721.70" y="116.12" text-anchor="end" font-family="Liberation Sans, sans-serif" font-size="36">1.2</text>
<text x="889.60" y="461.6" font-family="Liberation Sans, sans-serif" font-size="36"><tspan font-style="italic">B</tspan><tspan font-style="italic" font-size="27" dy="8">z</tspan></text>
<text x="933.50" y="461.6" font-family="Liberation Sans, sans-serif" font-size="36">(T)</text>
<text transform="translate(647.7,205.50) rotate(-90)" x="0" y="0" text-anchor="middle" font-family="Liberation Sans, sans-serif" font-size="36"><tspan font-style="italic" dx="2">T</tspan><tspan dx="-2"> (K)</tspan></text>
<path d="M154.12,878.60v-11.7M154.12,542.00v11.7M195.24,878.60v-6.2M195.24,542.00v6.2M236.36,878.60v-11.7M236.36,542.00v11.7M277.48,878.60v-6.2M277.48,542.00v6.2M318.60,878.60v-11.7M318.60,542.00v11.7M359.72,878.60v-6.2M359.72,542.00v6.2M400.84,878.60v-11.7M400.84,542.00v11.7M441.96,878.60v-6.2M441.96,542.00v6.2M483.08,878.60v-11.7M483.08,542.00v11.7M113.00,811.28h6.2M524.20,811.28h-6.2M113.00,743.96h11.7M524.20,743.96h-11.7M113.00,676.64h6.2M524.20,676.64h-6.2M113.00,609.32h11.7M524.20,609.32h-11.7" stroke="#000" stroke-width="2" fill="none"/>
<rect x="113.0" y="542.0" width="411.2" height="336.6" fill="none" stroke="#000" stroke-width="2"/>
<text x="154.12" y="917.6" text-anchor="middle" font-family="Liberation Sans, sans-serif" font-size="36">-0.02</text>
<text x="318.60" y="917.6" text-anchor="middle" font-family="Liberation Sans, sans-serif" font-size="36">0.00</text>
<text x="483.08" y="917.6" text-anchor="middle" font-family="Liberation Sans, sans-serif" font-size="36">0.02</text>
<text x="106.00" y="891.40" text-anchor="end" font-family="Liberation Sans, sans-serif" font-size="36">1.0</text>
<text x="106.00" y="756.76" text-anchor="end" font-family="Liberation Sans, sans-serif" font-size="36">1.1</text>
<text x="106.00" y="622.12" text-anchor="end" font-family="Liberation Sans, sans-serif" font-size="36">1.2</text>
<text x="273.90" y="967.6" font-family="Liberation Sans, sans-serif" font-size="36"><tspan font-style="italic">B</tspan><tspan font-style="italic" font-size="27" dy="8">z</tspan></text>
<text x="317.80" y="967.6" font-family="Liberation Sans, sans-serif" font-size="36">(T)</text>
<text transform="translate(32.0,711.50) rotate(-90)" x="0" y="0" text-anchor="middle" font-family="Liberation Sans, sans-serif" font-size="36"><tspan font-style="italic" dx="2">T</tspan><tspan dx="-2"> (K)</tspan></text>
<text x="129.5" y="81.7" font-family="Liberation Sans, sans-serif" font-size="35.2"><tspan font-style="italic">θ</tspan> = 1.5<tspan font-size="24.5" dx="-0.8" dy="-13">o</tspan></text>
<text x="380" y="82" font-family="Liberation Sans, sans-serif" font-size="35.2" fill="#00c400"><tspan font-style="italic">β</tspan><tspan font-size="26" dy="8">c</tspan><tspan dy="-8"> = 0.77</tspan></text>
<text x="745" y="81.5" font-family="Liberation Sans, sans-serif" font-size="35.2"><tspan font-style="italic">θ</tspan> = 4.5<tspan font-size="24.5" dx="-0.8" dy="-13">o</tspan></text>
<text x="1014" y="82" font-family="Liberation Sans, sans-serif" font-size="35.2" fill="#00c400"><tspan font-style="italic">β</tspan><tspan font-size="26" dy="8">c</tspan><tspan dy="-8"> = 2.6</tspan></text>
<rect x="129.4" y="554.8" width="146.1" height="40.7" fill="#fff"/>
<text x="129.8" y="587.5" font-family="Liberation Sans, sans-serif" font-size="35.2"><tspan font-style="italic">θ</tspan> = 24.8<tspan font-size="24.5" dx="-0.8" dy="-13">o</tspan></text>
<text x="388.3" y="829.7" font-family="Liberation Sans, sans-serif" font-size="35.2" fill="#00c400"><tspan font-style="italic">β</tspan><tspan font-size="26" dy="8">c</tspan><tspan dy="-8"> = 1.2</tspan></text>
<rect x="1157.7" y="104" width="29.1" height="80.5" fill="url(#cbr)" stroke="#000" stroke-width="2"/>
<rect x="1157.7" y="231.1" width="29.1" height="80.7" fill="url(#cbb)" stroke="#000" stroke-width="2"/>
<path d="M1186.8,107.00h24.1M1186.8,233.80h24.1M1186.8,121.96h11.8M1186.8,248.80h11.8M1186.8,136.92h11.8M1186.8,263.80h11.8M1186.8,151.88h11.8M1186.8,278.80h11.8M1186.8,166.84h11.8M1186.8,293.80h11.8M1186.8,181.80h24.1M1186.8,308.80h24.1" stroke="#000" stroke-width="2" fill="none"/>
<text x="1225" y="126.5" font-family="Liberation Sans, sans-serif" font-size="36">10<tspan font-size="27" dy="-23.5">6</tspan></text>
<text x="1225" y="193.6" font-family="Liberation Sans, sans-serif" font-size="36">10</text>
<text x="1223" y="246.2" font-family="Liberation Sans, sans-serif" font-size="36">-10</text>
<text x="1223" y="327.8" font-family="Liberation Sans, sans-serif" font-size="36">-10<tspan font-size="27" dy="-23.5">6</tspan></text>
<text transform="translate(1307,0) rotate(90)" font-family="Liberation Sans, sans-serif" font-size="36"><tspan x="155">γ</tspan><tspan x="179.5">(</tspan><tspan x="191">T</tspan><tspan x="213.5" font-size="25" dy="-24">-1</tspan><tspan x="235.5" dy="24">A</tspan><tspan x="260" font-size="25" dy="-24">-1</tspan><tspan x="280" dy="24">)</tspan></text>
<path d="M810.94,878.60v-11.5M810.94,542.00v11.5M893.18,878.60v-11.5M893.18,542.00v11.5M975.42,878.60v-11.5M975.42,542.00v11.5M1057.66,878.60v-11.5M1057.66,542.00v11.5M728.70,827.94h6M1139.90,827.94h-6M728.70,798.30h6M1139.90,798.30h-6M728.70,777.27h6M1139.90,777.27h-6M728.70,760.96h6M1139.90,760.96h-6M728.70,747.64h6M1139.90,747.64h-6M728.70,736.37h6M1139.90,736.37h-6M728.70,726.61h6M1139.90,726.61h-6M728.70,718.00h6M1139.90,718.00h-6M728.70,710.30h11.7M1139.90,710.30h-11.7M728.70,659.64h6M1139.90,659.64h-6M728.70,630.00h6M1139.90,630.00h-6M728.70,608.97h6M1139.90,608.97h-6M728.70,592.66h6M1139.90,592.66h-6M728.70,579.34h6M1139.90,579.34h-6M728.70,568.07h6M1139.90,568.07h-6M728.70,558.31h6M1139.90,558.31h-6M728.70,549.70h6M1139.90,549.70h-6" stroke="#000" stroke-width="2" fill="none"/>
<rect x="728.7" y="542.0" width="411.2" height="336.6" fill="none" stroke="#000" stroke-width="2"/>
<text x="728.70" y="917.5" text-anchor="middle" font-family="Liberation Sans, sans-serif" font-size="36">0</text>
<text x="810.94" y="917.5" text-anchor="middle" font-family="Liberation Sans, sans-serif" font-size="36">10</text>
<text x="893.18" y="917.5" text-anchor="middle" font-family="Liberation Sans, sans-serif" font-size="36">20</text>
<text x="975.42" y="917.5" text-anchor="middle" font-family="Liberation Sans, sans-serif" font-size="36">30</text>
<text x="1057.66" y="917.5" text-anchor="middle" font-family="Liberation Sans, sans-serif" font-size="36">40</text>
<text x="1139.90" y="917.5" text-anchor="middle" font-family="Liberation Sans, sans-serif" font-size="36">50</text>
<text x="709.70" y="554.50" text-anchor="end" font-family="Liberation Sans, sans-serif" font-size="36">10</text>
<text x="707.70" y="722.80" text-anchor="end" font-family="Liberation Sans, sans-serif" font-size="36">1</text>
<text x="708.20" y="891.10" text-anchor="end" font-family="Liberation Sans, sans-serif" font-size="36">0.1</text>
<text x="935" y="974.5" text-anchor="middle" font-family="Liberation Sans, sans-serif" font-size="36">|<tspan font-style="italic">θ</tspan>| (<tspan font-size="23" dy="-13.5">o</tspan><tspan dy="13.5">)</tspan></text>
<text transform="translate(647,710.3) rotate(-90)" x="0" y="0" text-anchor="middle" font-family="Liberation Sans, sans-serif" font-size="36"><tspan font-style="italic">β</tspan><tspan font-size="26" dy="8.5">c</tspan></text>
<rect x="944.4" y="756.2" width="92.6" height="94.6" fill="#fff" stroke="#000" stroke-width="2.5"/>
<text x="952.3" y="795.6" font-family="Liberation Sans, sans-serif" font-size="35" fill="#f00"><tspan font-style="italic">θ</tspan> &gt; 0</text>
<text x="952.3" y="836.4" font-family="Liberation Sans, sans-serif" font-size="35" fill="#00f"><tspan font-style="italic">θ</tspan> &lt; 0</text>
<path d="M741.1,734.0V725.3M731.9,734.0h18.4M731.9,725.3h18.4" stroke="#f00" stroke-width="2.8" fill="none"/>
<circle cx="741.1" cy="729.3" r="8.7" fill="#f00"/>
<path d="M765.5,647.6V639.0M756.3,647.6h18.4M756.3,639.0h18.4" stroke="#f00" stroke-width="2.8" fill="none"/>
<circle cx="765.5" cy="642.0" r="8.7" fill="#f00"/>
<path d="M801.1,722.0V705.3M791.9,722.0h18.4M791.9,705.3h18.4" stroke="#00f" stroke-width="2.8" fill="none"/>
<circle cx="801.1" cy="714.0" r="8.7" fill="#00f"/>
<path d="M872.8,715.6V690.3M863.6,715.6h18.4M863.6,690.3h18.4" stroke="#00f" stroke-width="2.8" fill="none"/>
<circle cx="872.8" cy="704.7" r="8.7" fill="#00f"/>
<path d="M932.5,726.8V664.6M923.3,726.8h18.4M923.3,664.6h18.4" stroke="#f00" stroke-width="2.8" fill="none"/>
<circle cx="932.5" cy="698.0" r="8.7" fill="#f00"/>
<path d="M1076.5,781.9V676.1M1067.3,781.9h18.4M1067.3,676.1h18.4" stroke="#f00" stroke-width="2.8" fill="none"/>
<circle cx="1076.5" cy="732.7" r="8.7" fill="#f00"/>
<text x="-2" y="25.5" font-family="Liberation Sans, sans-serif" font-weight="bold" font-size="35">a</text>
<text x="614.5" y="25.5" font-family="Liberation Sans, sans-serif" font-weight="bold" font-size="35">b</text>
<text x="-1" y="531.5" font-family="Liberation Sans, sans-serif" font-weight="bold" font-size="35">c</text>
<text x="615" y="531.5" font-family="Liberation Sans, sans-serif" font-weight="bold" font-size="35">d</text>
</svg></body></html>
